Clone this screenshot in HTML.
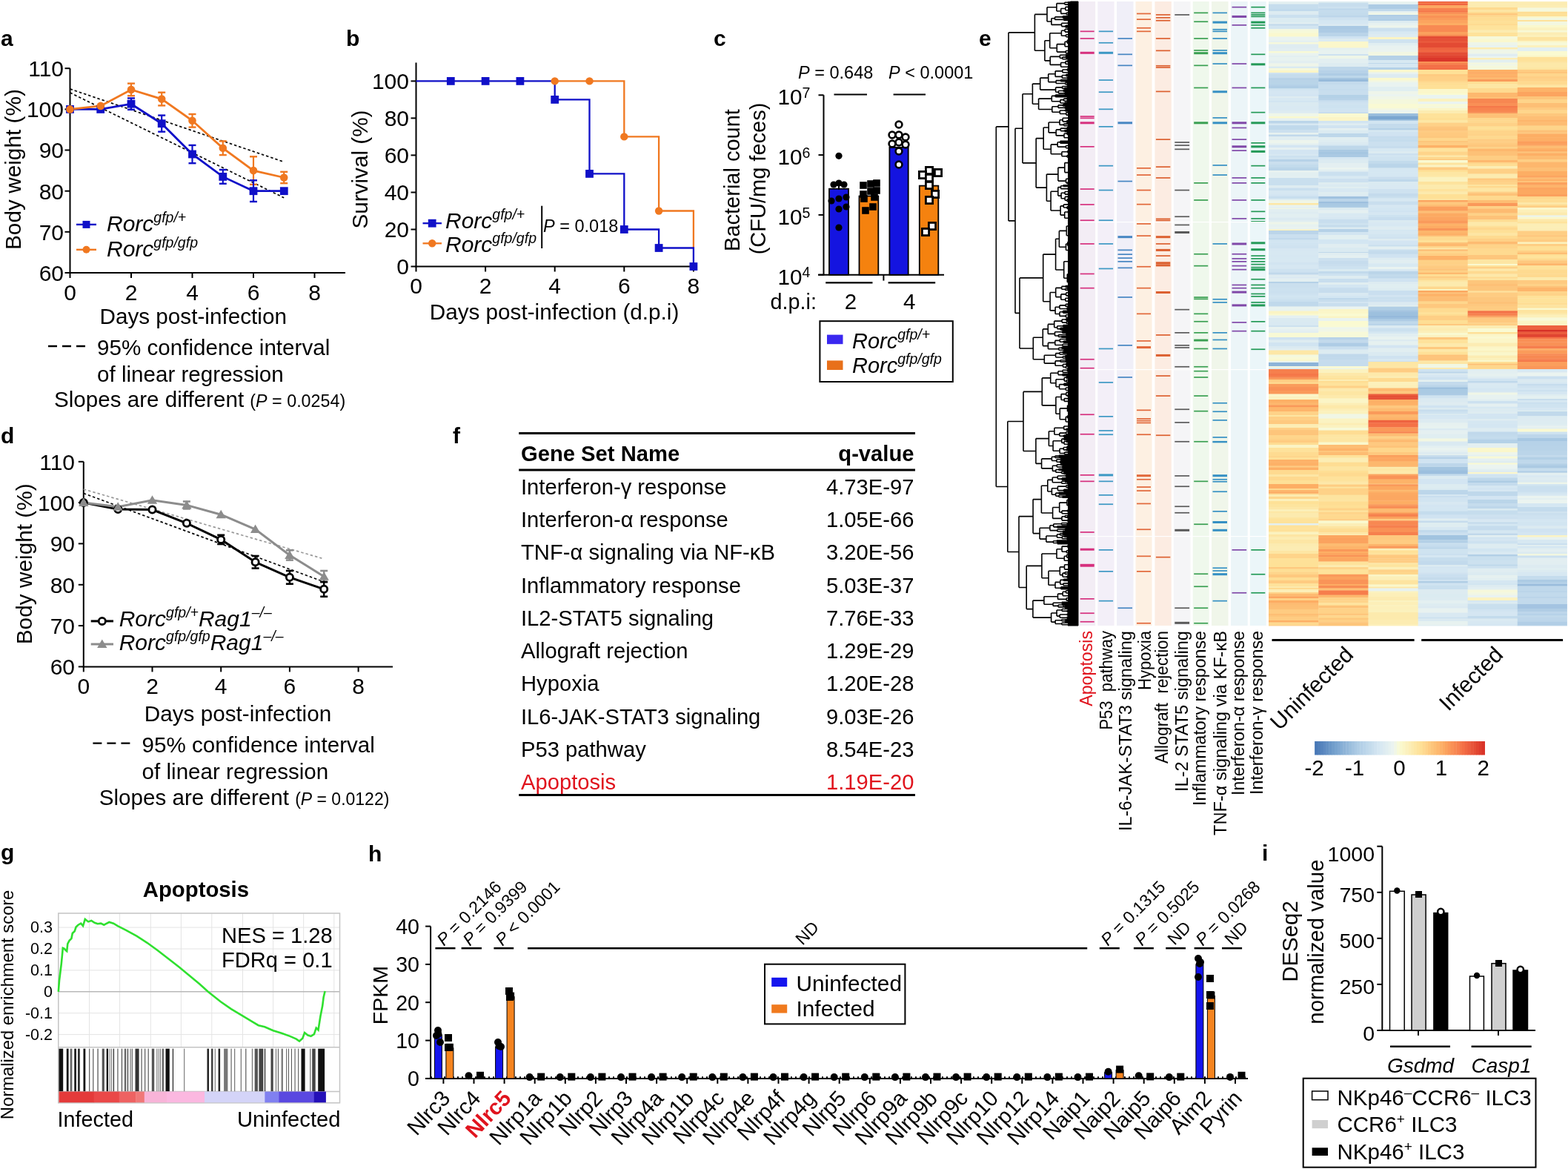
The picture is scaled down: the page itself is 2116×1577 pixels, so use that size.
<!DOCTYPE html><html><head><meta charset="utf-8"><title>Figure</title><style>html,body{margin:0;padding:0;background:#fff;overflow:hidden}svg{display:block}</style></head><body><svg width="2116" height="1577" viewBox="0 0 2116 1577" font-family='"Liberation Sans", Arial, sans-serif'>
<rect width="2116" height="1577" fill="#fff"/>
<text x="1.0" y="62.0" font-size="30" font-weight="bold">a</text>
<line x1="94.5" y1="92.2" x2="94.5" y2="368.8" stroke="#000" stroke-width="2"/>
<line x1="93.5" y1="368.0" x2="466.0" y2="368.0" stroke="#000" stroke-width="2"/>
<line x1="87.5" y1="368.0" x2="94.5" y2="368.0" stroke="#000" stroke-width="2"/>
<text x="86.0" y="378.8" font-size="30" text-anchor="end">60</text>
<line x1="87.5" y1="312.8" x2="94.5" y2="312.8" stroke="#000" stroke-width="2"/>
<text x="86.0" y="323.6" font-size="30" text-anchor="end">70</text>
<line x1="87.5" y1="257.7" x2="94.5" y2="257.7" stroke="#000" stroke-width="2"/>
<text x="86.0" y="268.5" font-size="30" text-anchor="end">80</text>
<line x1="87.5" y1="202.5" x2="94.5" y2="202.5" stroke="#000" stroke-width="2"/>
<text x="86.0" y="213.3" font-size="30" text-anchor="end">90</text>
<line x1="87.5" y1="147.4" x2="94.5" y2="147.4" stroke="#000" stroke-width="2"/>
<text x="86.0" y="158.2" font-size="30" text-anchor="end">100</text>
<line x1="87.5" y1="92.2" x2="94.5" y2="92.2" stroke="#000" stroke-width="2"/>
<text x="86.0" y="103.0" font-size="30" text-anchor="end">110</text>
<line x1="94.5" y1="368.0" x2="94.5" y2="375.0" stroke="#000" stroke-width="2"/>
<text x="94.5" y="405.0" font-size="30" text-anchor="middle">0</text>
<line x1="177.0" y1="368.0" x2="177.0" y2="375.0" stroke="#000" stroke-width="2"/>
<text x="177.0" y="405.0" font-size="30" text-anchor="middle">2</text>
<line x1="259.5" y1="368.0" x2="259.5" y2="375.0" stroke="#000" stroke-width="2"/>
<text x="259.5" y="405.0" font-size="30" text-anchor="middle">4</text>
<line x1="342.0" y1="368.0" x2="342.0" y2="375.0" stroke="#000" stroke-width="2"/>
<text x="342.0" y="405.0" font-size="30" text-anchor="middle">6</text>
<line x1="424.5" y1="368.0" x2="424.5" y2="375.0" stroke="#000" stroke-width="2"/>
<text x="424.5" y="405.0" font-size="30" text-anchor="middle">8</text>
<text x="260.7" y="436.7" font-size="29.7" text-anchor="middle">Days post-infection</text>
<text x="28.0" y="228.6" font-size="29.8" text-anchor="middle" transform="rotate(-90 28.0 228.6)">Body weight (%)</text>
<line x1="94.5" y1="120.0" x2="383.2" y2="218.4" stroke="#000" stroke-width="1.7" stroke-dasharray="3.5 3"/>
<line x1="94.5" y1="125.0" x2="383.2" y2="266.8" stroke="#000" stroke-width="1.7" stroke-dasharray="3.5 3"/>
<line x1="177.0" y1="112.6" x2="177.0" y2="129.2" stroke="#f07820" stroke-width="2.2"/>
<line x1="172.0" y1="112.6" x2="182.0" y2="112.6" stroke="#f07820" stroke-width="2.4"/>
<line x1="172.0" y1="129.2" x2="182.0" y2="129.2" stroke="#f07820" stroke-width="2.4"/>
<line x1="218.2" y1="124.7" x2="218.2" y2="142.4" stroke="#f07820" stroke-width="2.2"/>
<line x1="213.2" y1="124.7" x2="223.2" y2="124.7" stroke="#f07820" stroke-width="2.4"/>
<line x1="213.2" y1="142.4" x2="223.2" y2="142.4" stroke="#f07820" stroke-width="2.4"/>
<line x1="259.5" y1="154.0" x2="259.5" y2="171.6" stroke="#f07820" stroke-width="2.2"/>
<line x1="254.5" y1="154.0" x2="264.5" y2="154.0" stroke="#f07820" stroke-width="2.4"/>
<line x1="254.5" y1="171.6" x2="264.5" y2="171.6" stroke="#f07820" stroke-width="2.4"/>
<line x1="300.8" y1="190.4" x2="300.8" y2="209.1" stroke="#f07820" stroke-width="2.2"/>
<line x1="295.8" y1="190.4" x2="305.8" y2="190.4" stroke="#f07820" stroke-width="2.4"/>
<line x1="295.8" y1="209.1" x2="305.8" y2="209.1" stroke="#f07820" stroke-width="2.4"/>
<line x1="342.0" y1="211.3" x2="342.0" y2="248.9" stroke="#f07820" stroke-width="2.2"/>
<line x1="337.0" y1="211.3" x2="347.0" y2="211.3" stroke="#f07820" stroke-width="2.4"/>
<line x1="337.0" y1="248.9" x2="347.0" y2="248.9" stroke="#f07820" stroke-width="2.4"/>
<line x1="383.2" y1="231.8" x2="383.2" y2="247.2" stroke="#f07820" stroke-width="2.2"/>
<line x1="378.2" y1="231.8" x2="388.2" y2="231.8" stroke="#f07820" stroke-width="2.4"/>
<line x1="378.2" y1="247.2" x2="388.2" y2="247.2" stroke="#f07820" stroke-width="2.4"/>
<line x1="177.0" y1="132.5" x2="177.0" y2="147.9" stroke="#1010c8" stroke-width="2.2"/>
<line x1="172.0" y1="132.5" x2="182.0" y2="132.5" stroke="#1010c8" stroke-width="2.4"/>
<line x1="172.0" y1="147.9" x2="182.0" y2="147.9" stroke="#1010c8" stroke-width="2.4"/>
<line x1="218.2" y1="155.6" x2="218.2" y2="177.7" stroke="#1010c8" stroke-width="2.2"/>
<line x1="213.2" y1="155.6" x2="223.2" y2="155.6" stroke="#1010c8" stroke-width="2.4"/>
<line x1="213.2" y1="177.7" x2="223.2" y2="177.7" stroke="#1010c8" stroke-width="2.4"/>
<line x1="259.5" y1="195.9" x2="259.5" y2="220.2" stroke="#1010c8" stroke-width="2.2"/>
<line x1="254.5" y1="195.9" x2="264.5" y2="195.9" stroke="#1010c8" stroke-width="2.4"/>
<line x1="254.5" y1="220.2" x2="264.5" y2="220.2" stroke="#1010c8" stroke-width="2.4"/>
<line x1="300.8" y1="229.0" x2="300.8" y2="247.8" stroke="#1010c8" stroke-width="2.2"/>
<line x1="295.8" y1="229.0" x2="305.8" y2="229.0" stroke="#1010c8" stroke-width="2.4"/>
<line x1="295.8" y1="247.8" x2="305.8" y2="247.8" stroke="#1010c8" stroke-width="2.4"/>
<line x1="342.0" y1="243.3" x2="342.0" y2="272.0" stroke="#1010c8" stroke-width="2.2"/>
<line x1="337.0" y1="243.3" x2="347.0" y2="243.3" stroke="#1010c8" stroke-width="2.4"/>
<line x1="337.0" y1="272.0" x2="347.0" y2="272.0" stroke="#1010c8" stroke-width="2.4"/>
<path d="M94.5 147.4 L135.8 147.4 L177.0 140.2 L218.2 166.7 L259.5 208.0 L300.8 238.4 L342.0 257.7 L383.2 257.7" stroke="#1010c8" stroke-width="2.8" fill="none"/>
<path d="M94.5 147.4 L135.8 142.9 L177.0 120.9 L218.2 133.6 L259.5 162.8 L300.8 199.8 L342.0 230.1 L383.2 239.5" stroke="#f07820" stroke-width="2.8" fill="none"/>
<rect x="89.1" y="142.0" width="10.8" height="10.8" fill="#1010c8"/>
<rect x="130.3" y="142.0" width="10.8" height="10.8" fill="#1010c8"/>
<rect x="171.6" y="134.8" width="10.8" height="10.8" fill="#1010c8"/>
<rect x="212.8" y="161.3" width="10.8" height="10.8" fill="#1010c8"/>
<rect x="254.1" y="202.6" width="10.8" height="10.8" fill="#1010c8"/>
<rect x="295.4" y="233.0" width="10.8" height="10.8" fill="#1010c8"/>
<rect x="336.6" y="252.3" width="10.8" height="10.8" fill="#1010c8"/>
<rect x="377.9" y="252.3" width="10.8" height="10.8" fill="#1010c8"/>
<circle cx="135.8" cy="142.9" r="5.3" fill="#f07820"/>
<circle cx="177.0" cy="120.9" r="5.3" fill="#f07820"/>
<circle cx="218.2" cy="133.6" r="5.3" fill="#f07820"/>
<circle cx="259.5" cy="162.8" r="5.3" fill="#f07820"/>
<circle cx="300.8" cy="199.8" r="5.3" fill="#f07820"/>
<circle cx="342.0" cy="230.1" r="5.3" fill="#f07820"/>
<circle cx="383.2" cy="239.5" r="5.3" fill="#f07820"/>
<circle cx="94.5" cy="147.4" r="5.3" fill="#f07820"/>
<line x1="103.0" y1="302.9" x2="130.0" y2="302.9" stroke="#1010c8" stroke-width="2.4"/>
<rect x="111.5" y="297.9" width="10.0" height="10.0" fill="#1010c8"/>
<text x="144.0" y="311.5" font-size="30" font-style="italic">Rorc<tspan font-size="19.5" dy="-12">gfp/+</tspan></text>
<line x1="103.0" y1="336.8" x2="130.0" y2="336.8" stroke="#f07820" stroke-width="2.4"/>
<circle cx="116.5" cy="336.8" r="5.0" fill="#f07820"/>
<text x="144.0" y="346.0" font-size="30" font-style="italic">Rorc<tspan font-size="19.5" dy="-12">gfp/gfp</tspan></text>
<line x1="65.0" y1="467.0" x2="115.0" y2="467.0" stroke="#000" stroke-width="2.3" stroke-dasharray="12 7"/>
<text x="131.0" y="478.7" font-size="29.6">95% confidence interval</text>
<text x="131.0" y="514.5" font-size="29.6">of linear regression</text>
<text x="73.0" y="549.0" font-size="29.6">Slopes are different <tspan font-size="23.3">(<tspan font-style="italic">P</tspan> = 0.0254)</tspan></text>
<text x="467.0" y="62.0" font-size="30" font-weight="bold">b</text>
<line x1="561.5" y1="84.6" x2="561.5" y2="360.3" stroke="#000" stroke-width="2"/>
<line x1="560.5" y1="359.5" x2="940.0" y2="359.5" stroke="#000" stroke-width="2"/>
<line x1="554.5" y1="359.5" x2="561.5" y2="359.5" stroke="#000" stroke-width="2"/>
<text x="552.0" y="370.3" font-size="30" text-anchor="end">0</text>
<line x1="554.5" y1="309.5" x2="561.5" y2="309.5" stroke="#000" stroke-width="2"/>
<text x="552.0" y="320.3" font-size="30" text-anchor="end">20</text>
<line x1="554.5" y1="259.5" x2="561.5" y2="259.5" stroke="#000" stroke-width="2"/>
<text x="552.0" y="270.3" font-size="30" text-anchor="end">40</text>
<line x1="554.5" y1="209.4" x2="561.5" y2="209.4" stroke="#000" stroke-width="2"/>
<text x="552.0" y="220.2" font-size="30" text-anchor="end">60</text>
<line x1="554.5" y1="159.4" x2="561.5" y2="159.4" stroke="#000" stroke-width="2"/>
<text x="552.0" y="170.2" font-size="30" text-anchor="end">80</text>
<line x1="554.5" y1="109.4" x2="561.5" y2="109.4" stroke="#000" stroke-width="2"/>
<text x="552.0" y="120.2" font-size="30" text-anchor="end">100</text>
<line x1="561.5" y1="359.5" x2="561.5" y2="366.5" stroke="#000" stroke-width="2"/>
<text x="561.5" y="396.0" font-size="30" text-anchor="middle">0</text>
<line x1="655.1" y1="359.5" x2="655.1" y2="366.5" stroke="#000" stroke-width="2"/>
<text x="655.1" y="396.0" font-size="30" text-anchor="middle">2</text>
<line x1="748.7" y1="359.5" x2="748.7" y2="366.5" stroke="#000" stroke-width="2"/>
<text x="748.7" y="396.0" font-size="30" text-anchor="middle">4</text>
<line x1="842.3" y1="359.5" x2="842.3" y2="366.5" stroke="#000" stroke-width="2"/>
<text x="842.3" y="396.0" font-size="30" text-anchor="middle">6</text>
<line x1="935.9" y1="359.5" x2="935.9" y2="366.5" stroke="#000" stroke-width="2"/>
<text x="935.9" y="396.0" font-size="30" text-anchor="middle">8</text>
<text x="748.0" y="431.0" font-size="29.7" text-anchor="middle">Days post-infection (d.p.i)</text>
<text x="496.0" y="228.5" font-size="29.7" text-anchor="middle" transform="rotate(-90 496.0 228.5)">Survival (%)</text>
<path d="M748.7 109.4 L842.3 109.4 L842.3 184.4 L889.1 184.4 L889.1 284.5 L935.9 284.5 L935.9 334.5" stroke="#f07820" stroke-width="2.3" fill="none"/>
<path d="M561.5 109.4 L748.7 109.4 L748.7 134.4 L795.5 134.4 L795.5 234.4 L842.3 234.4 L842.3 309.5 L889.1 309.5 L889.1 334.5 L935.9 334.5 L935.9 359.5" stroke="#1010c8" stroke-width="2.3" fill="none"/>
<circle cx="748.7" cy="109.4" r="5.2" fill="#f07820"/>
<circle cx="795.5" cy="109.4" r="5.2" fill="#f07820"/>
<circle cx="842.3" cy="184.4" r="5.2" fill="#f07820"/>
<circle cx="889.1" cy="284.5" r="5.2" fill="#f07820"/>
<rect x="602.9" y="104.0" width="10.8" height="10.8" fill="#1010c8"/>
<rect x="649.7" y="104.0" width="10.8" height="10.8" fill="#1010c8"/>
<rect x="696.5" y="104.0" width="10.8" height="10.8" fill="#1010c8"/>
<rect x="743.3" y="129.0" width="10.8" height="10.8" fill="#1010c8"/>
<rect x="790.1" y="229.0" width="10.8" height="10.8" fill="#1010c8"/>
<rect x="836.9" y="304.1" width="10.8" height="10.8" fill="#1010c8"/>
<rect x="883.7" y="329.1" width="10.8" height="10.8" fill="#1010c8"/>
<rect x="930.5" y="354.1" width="10.8" height="10.8" fill="#1010c8"/>
<line x1="570.5" y1="301.2" x2="596.0" y2="301.2" stroke="#1010c8" stroke-width="2.3"/>
<rect x="577.8" y="295.8" width="10.8" height="10.8" fill="#1010c8"/>
<text x="601.0" y="308.0" font-size="30" font-style="italic">Rorc<tspan font-size="19.5" dy="-12">gfp/+</tspan></text>
<line x1="570.5" y1="328.3" x2="596.0" y2="328.3" stroke="#f07820" stroke-width="2.3"/>
<circle cx="583.2" cy="328.3" r="5.2" fill="#f07820"/>
<text x="601.0" y="340.0" font-size="30" font-style="italic">Rorc<tspan font-size="19.5" dy="-12">gfp/gfp</tspan></text>
<line x1="731.2" y1="277.7" x2="731.2" y2="335.0" stroke="#000" stroke-width="2"/>
<text x="733.0" y="312.5" font-size="23.5"><tspan font-style="italic">P</tspan> = 0.018</text>
<text x="963.0" y="62.0" font-size="30" font-weight="bold">c</text>
<line x1="1111.5" y1="128.3" x2="1111.5" y2="371.5" stroke="#000" stroke-width="2"/>
<line x1="1104.0" y1="370.7" x2="1274.0" y2="370.7" stroke="#000" stroke-width="2"/>
<line x1="1104.5" y1="128.3" x2="1111.5" y2="128.3" stroke="#000" stroke-width="2"/>
<text x="1049.5" y="141.2" font-size="29.7">10</text>
<text x="1082.5" y="132.0" font-size="19.6">7</text>
<line x1="1104.5" y1="209.1" x2="1111.5" y2="209.1" stroke="#000" stroke-width="2"/>
<text x="1049.5" y="222.0" font-size="29.7">10</text>
<text x="1082.5" y="212.8" font-size="19.6">6</text>
<line x1="1104.5" y1="289.9" x2="1111.5" y2="289.9" stroke="#000" stroke-width="2"/>
<text x="1049.5" y="302.8" font-size="29.7">10</text>
<text x="1082.5" y="293.6" font-size="19.6">5</text>
<line x1="1104.5" y1="370.7" x2="1111.5" y2="370.7" stroke="#000" stroke-width="2"/>
<text x="1049.5" y="383.6" font-size="29.7">10</text>
<text x="1082.5" y="374.4" font-size="19.6">4</text>
<rect x="1119.0" y="254.7" width="26.0" height="116.0" fill="#1414e0" stroke="#000" stroke-width="1.8"/>
<rect x="1159.5" y="264.5" width="25.8" height="106.2" fill="#f5820f" stroke="#000" stroke-width="1.8"/>
<rect x="1200.4" y="198.9" width="25.3" height="171.8" fill="#1414e0" stroke="#000" stroke-width="1.8"/>
<rect x="1240.8" y="250.6" width="25.5" height="120.1" fill="#f5820f" stroke="#000" stroke-width="1.8"/>
<circle cx="1132.0" cy="210.3" r="4.6" fill="#000"/>
<circle cx="1125.0" cy="249.0" r="4.6" fill="#000"/>
<circle cx="1132.0" cy="247.0" r="4.6" fill="#000"/>
<circle cx="1139.0" cy="249.0" r="4.6" fill="#000"/>
<circle cx="1122.0" cy="271.0" r="4.6" fill="#000"/>
<circle cx="1132.0" cy="268.0" r="4.6" fill="#000"/>
<circle cx="1142.0" cy="266.0" r="4.6" fill="#000"/>
<circle cx="1142.0" cy="279.0" r="4.6" fill="#000"/>
<circle cx="1132.0" cy="282.0" r="4.6" fill="#000"/>
<circle cx="1132.0" cy="307.0" r="4.6" fill="#000"/>
<line x1="1132.0" y1="246.0" x2="1132.0" y2="256.0" stroke="#000" stroke-width="2"/>
<rect x="1160.2" y="245.2" width="9.6" height="9.6" fill="#000"/>
<rect x="1170.2" y="243.2" width="9.6" height="9.6" fill="#000"/>
<rect x="1178.2" y="242.2" width="9.6" height="9.6" fill="#000"/>
<rect x="1160.2" y="257.2" width="9.6" height="9.6" fill="#000"/>
<rect x="1170.2" y="253.2" width="9.6" height="9.6" fill="#000"/>
<rect x="1178.2" y="252.2" width="9.6" height="9.6" fill="#000"/>
<rect x="1161.2" y="263.2" width="9.6" height="9.6" fill="#000"/>
<rect x="1175.2" y="261.2" width="9.6" height="9.6" fill="#000"/>
<rect x="1163.2" y="279.2" width="9.6" height="9.6" fill="#000"/>
<rect x="1173.2" y="274.2" width="9.6" height="9.6" fill="#000"/>
<circle cx="1213.0" cy="168.0" r="4.4" fill="#fff" stroke="#000" stroke-width="2.6"/>
<circle cx="1204.0" cy="182.0" r="4.4" fill="#fff" stroke="#000" stroke-width="2.6"/>
<circle cx="1213.0" cy="182.0" r="4.4" fill="#fff" stroke="#000" stroke-width="2.6"/>
<circle cx="1222.0" cy="185.0" r="4.4" fill="#fff" stroke="#000" stroke-width="2.6"/>
<circle cx="1204.0" cy="194.0" r="4.4" fill="#fff" stroke="#000" stroke-width="2.6"/>
<circle cx="1213.0" cy="192.0" r="4.4" fill="#fff" stroke="#000" stroke-width="2.6"/>
<circle cx="1222.0" cy="195.0" r="4.4" fill="#fff" stroke="#000" stroke-width="2.6"/>
<circle cx="1213.0" cy="204.0" r="4.4" fill="#fff" stroke="#000" stroke-width="2.6"/>
<circle cx="1213.0" cy="222.0" r="4.4" fill="#fff" stroke="#000" stroke-width="2.6"/>
<rect x="1249.4" y="225.4" width="9.2" height="9.2" fill="#fff" stroke="#000" stroke-width="2.8"/>
<rect x="1240.4" y="231.4" width="9.2" height="9.2" fill="#fff" stroke="#000" stroke-width="2.8"/>
<rect x="1261.4" y="228.4" width="9.2" height="9.2" fill="#fff" stroke="#000" stroke-width="2.8"/>
<rect x="1249.4" y="235.4" width="9.2" height="9.2" fill="#fff" stroke="#000" stroke-width="2.8"/>
<rect x="1249.4" y="245.4" width="9.2" height="9.2" fill="#fff" stroke="#000" stroke-width="2.8"/>
<rect x="1257.4" y="257.4" width="9.2" height="9.2" fill="#fff" stroke="#000" stroke-width="2.8"/>
<rect x="1249.4" y="265.4" width="9.2" height="9.2" fill="#fff" stroke="#000" stroke-width="2.8"/>
<rect x="1253.4" y="300.4" width="9.2" height="9.2" fill="#fff" stroke="#000" stroke-width="2.8"/>
<rect x="1244.4" y="308.4" width="9.2" height="9.2" fill="#fff" stroke="#000" stroke-width="2.8"/>
<line x1="1125.5" y1="127.6" x2="1170.0" y2="127.6" stroke="#000" stroke-width="2"/>
<line x1="1205.6" y1="127.6" x2="1249.0" y2="127.6" stroke="#000" stroke-width="2"/>
<text x="1077.0" y="106.0" font-size="23.5"><tspan font-style="italic">P</tspan> = 0.648</text>
<text x="1199.0" y="106.0" font-size="23.5"><tspan font-style="italic">P</tspan> &lt; 0.0001</text>
<line x1="1114.2" y1="381.3" x2="1177.5" y2="381.3" stroke="#000" stroke-width="2.2"/>
<line x1="1198.6" y1="381.3" x2="1262.2" y2="381.3" stroke="#000" stroke-width="2.2"/>
<line x1="1192.4" y1="371.0" x2="1192.4" y2="378.6" stroke="#000" stroke-width="2"/>
<text x="1039.5" y="416.7" font-size="29.5" textLength="62.5" lengthAdjust="spacingAndGlyphs">d.p.i:</text>
<text x="1148.0" y="416.7" font-size="29.5" text-anchor="middle">2</text>
<text x="1227.2" y="416.7" font-size="29.5" text-anchor="middle">4</text>
<text x="998.0" y="243.0" font-size="29" text-anchor="middle" transform="rotate(-90 998.0 243.0)">Bacterial count</text>
<text x="1033.0" y="241.0" font-size="29" text-anchor="middle" transform="rotate(-90 1033.0 241.0)">(CFU/mg feces)</text>
<rect x="1106.4" y="433.2" width="179.4" height="81.8" fill="#fff" stroke="#000" stroke-width="2"/>
<rect x="1116.0" y="451.6" width="21.5" height="12.6" fill="#3a28f0"/>
<text x="1150.0" y="469.5" font-size="29" font-style="italic">Rorc<tspan font-size="19.5" dy="-12">gfp/+</tspan></text>
<rect x="1116.0" y="486.4" width="21.5" height="12.6" fill="#e8701a"/>
<text x="1150.0" y="503.0" font-size="29" font-style="italic">Rorc<tspan font-size="19.5" dy="-12">gfp/gfp</tspan></text>
<text x="1321.0" y="62.0" font-size="30" font-weight="bold">e</text>
<rect x="1712.0" y="2.0" width="67.7" height="3.9" fill="#e4f0f1"/>
<rect x="1712.0" y="5.5" width="67.7" height="6.4" fill="#c6dded"/>
<rect x="1712.0" y="11.5" width="67.7" height="3.9" fill="#c1daec"/>
<rect x="1712.0" y="15.0" width="67.7" height="2.9" fill="#ddecf1"/>
<rect x="1712.0" y="17.5" width="67.7" height="2.9" fill="#dbeaf1"/>
<rect x="1712.0" y="20.0" width="67.7" height="4.4" fill="#cbe0ef"/>
<rect x="1712.0" y="24.0" width="67.7" height="6.4" fill="#dbebf1"/>
<rect x="1712.0" y="30.0" width="67.7" height="2.9" fill="#e1eef1"/>
<rect x="1712.0" y="32.5" width="67.7" height="2.4" fill="#c0d8eb"/>
<rect x="1712.0" y="34.5" width="67.7" height="4.9" fill="#d2e5f1"/>
<rect x="1712.0" y="39.0" width="67.7" height="2.4" fill="#f3f7e1"/>
<rect x="1712.0" y="41.0" width="67.7" height="3.9" fill="#f6f9d9"/>
<rect x="1712.0" y="44.5" width="67.7" height="5.4" fill="#faf8ce"/>
<rect x="1712.0" y="49.5" width="67.7" height="3.9" fill="#eaf3f0"/>
<rect x="1712.0" y="53.0" width="67.7" height="2.4" fill="#e9f3f0"/>
<rect x="1712.0" y="55.0" width="67.7" height="2.4" fill="#e5f0f1"/>
<rect x="1712.0" y="57.0" width="67.7" height="2.9" fill="#f5f8dc"/>
<rect x="1712.0" y="59.5" width="67.7" height="6.4" fill="#dfecf1"/>
<rect x="1712.0" y="65.5" width="67.7" height="3.9" fill="#e2eef1"/>
<rect x="1712.0" y="69.0" width="67.7" height="2.9" fill="#f8f9d6"/>
<rect x="1712.0" y="71.5" width="67.7" height="3.9" fill="#e9f3f0"/>
<rect x="1712.0" y="75.0" width="67.7" height="2.4" fill="#e3eff1"/>
<rect x="1712.0" y="77.0" width="67.7" height="5.4" fill="#e7f2f0"/>
<rect x="1712.0" y="82.0" width="67.7" height="3.9" fill="#e2eef1"/>
<rect x="1712.0" y="85.5" width="67.7" height="4.4" fill="#eff5e9"/>
<rect x="1712.0" y="89.5" width="67.7" height="2.9" fill="#daeaf1"/>
<rect x="1712.0" y="92.0" width="67.7" height="3.4" fill="#f6f8db"/>
<rect x="1712.0" y="95.0" width="67.7" height="3.4" fill="#fbf5c6"/>
<rect x="1712.0" y="98.0" width="67.7" height="2.4" fill="#cfe2f0"/>
<rect x="1712.0" y="100.0" width="67.7" height="3.9" fill="#c5dced"/>
<rect x="1712.0" y="103.5" width="67.7" height="2.4" fill="#c3daec"/>
<rect x="1712.0" y="105.5" width="67.7" height="2.4" fill="#b2cfe6"/>
<rect x="1712.0" y="107.5" width="67.7" height="6.4" fill="#b9d4e8"/>
<rect x="1712.0" y="113.5" width="67.7" height="2.4" fill="#b4d1e7"/>
<rect x="1712.0" y="115.5" width="67.7" height="3.9" fill="#afcde5"/>
<rect x="1712.0" y="119.0" width="67.7" height="1.4" fill="#c9dfee"/>
<rect x="1712.0" y="120.0" width="67.7" height="2.4" fill="#d1e4f1"/>
<rect x="1712.0" y="122.0" width="67.7" height="5.4" fill="#d5e6f2"/>
<rect x="1712.0" y="127.0" width="67.7" height="3.4" fill="#d3e5f2"/>
<rect x="1712.0" y="130.0" width="67.7" height="2.4" fill="#dfecf1"/>
<rect x="1712.0" y="132.0" width="67.7" height="3.9" fill="#d8e8f2"/>
<rect x="1712.0" y="135.5" width="67.7" height="2.9" fill="#d2e5f1"/>
<rect x="1712.0" y="138.0" width="67.7" height="5.4" fill="#daeaf1"/>
<rect x="1712.0" y="143.0" width="67.7" height="6.4" fill="#d9e9f2"/>
<rect x="1712.0" y="149.0" width="67.7" height="3.9" fill="#ddebf1"/>
<rect x="1712.0" y="152.5" width="67.7" height="0.9" fill="#e3eff1"/>
<rect x="1712.0" y="153.0" width="67.7" height="4.4" fill="#eff6e8"/>
<rect x="1712.0" y="157.0" width="67.7" height="2.9" fill="#faf9cf"/>
<rect x="1712.0" y="159.5" width="67.7" height="3.9" fill="#e5f0f1"/>
<rect x="1712.0" y="163.0" width="67.7" height="3.9" fill="#bbd5e9"/>
<rect x="1712.0" y="166.5" width="67.7" height="2.9" fill="#d7e8f2"/>
<rect x="1712.0" y="169.0" width="67.7" height="6.4" fill="#c0d9eb"/>
<rect x="1712.0" y="175.0" width="67.7" height="4.4" fill="#cce0ef"/>
<rect x="1712.0" y="179.0" width="67.7" height="2.9" fill="#e7f2f0"/>
<rect x="1712.0" y="181.5" width="67.7" height="2.9" fill="#c1d9ec"/>
<rect x="1712.0" y="184.0" width="67.7" height="5.4" fill="#e0edf1"/>
<rect x="1712.0" y="189.0" width="67.7" height="4.4" fill="#edf5ed"/>
<rect x="1712.0" y="193.0" width="67.7" height="2.9" fill="#e6f1f0"/>
<rect x="1712.0" y="195.5" width="67.7" height="3.9" fill="#d3e5f2"/>
<rect x="1712.0" y="199.0" width="67.7" height="3.4" fill="#e5f0f1"/>
<rect x="1712.0" y="202.0" width="67.7" height="6.4" fill="#d3e5f2"/>
<rect x="1712.0" y="208.0" width="67.7" height="2.4" fill="#d8e8f2"/>
<rect x="1712.0" y="210.0" width="67.7" height="2.9" fill="#cce1ef"/>
<rect x="1712.0" y="212.5" width="67.7" height="2.9" fill="#d0e3f0"/>
<rect x="1712.0" y="215.0" width="67.7" height="3.4" fill="#b7d2e8"/>
<rect x="1712.0" y="218.0" width="67.7" height="4.4" fill="#cadfee"/>
<rect x="1712.0" y="222.0" width="67.7" height="3.9" fill="#c3dbec"/>
<rect x="1712.0" y="225.5" width="67.7" height="3.9" fill="#bad5e9"/>
<rect x="1712.0" y="229.0" width="67.7" height="1.4" fill="#b9d4e8"/>
<rect x="1712.0" y="230.0" width="67.7" height="2.9" fill="#e8f2f0"/>
<rect x="1712.0" y="232.5" width="67.7" height="6.4" fill="#e2eff1"/>
<rect x="1712.0" y="238.5" width="67.7" height="1.9" fill="#e4f0f1"/>
<rect x="1712.0" y="240.0" width="67.7" height="5.4" fill="#c9dfee"/>
<rect x="1712.0" y="245.0" width="67.7" height="5.4" fill="#c9dfee"/>
<rect x="1712.0" y="250.0" width="67.7" height="3.9" fill="#deecf1"/>
<rect x="1712.0" y="253.5" width="67.7" height="3.9" fill="#c9dfee"/>
<rect x="1712.0" y="257.0" width="67.7" height="2.4" fill="#d6e7f2"/>
<rect x="1712.0" y="259.0" width="67.7" height="3.4" fill="#d6e7f2"/>
<rect x="1712.0" y="262.0" width="67.7" height="2.9" fill="#d3e5f2"/>
<rect x="1712.0" y="264.5" width="67.7" height="3.9" fill="#c8deee"/>
<rect x="1712.0" y="268.0" width="67.7" height="2.4" fill="#ddecf1"/>
<rect x="1712.0" y="270.0" width="67.7" height="4.4" fill="#f0f6e6"/>
<rect x="1712.0" y="274.0" width="67.7" height="2.9" fill="#fde7a5"/>
<rect x="1712.0" y="276.5" width="67.7" height="2.9" fill="#e9f3f0"/>
<rect x="1712.0" y="279.0" width="67.7" height="2.9" fill="#e7f1f0"/>
<rect x="1712.0" y="281.5" width="67.7" height="0.9" fill="#faf9cf"/>
<rect x="1712.0" y="282.0" width="67.7" height="4.4" fill="#e1eef1"/>
<rect x="1712.0" y="286.0" width="67.7" height="2.9" fill="#deecf1"/>
<rect x="1712.0" y="288.5" width="67.7" height="5.4" fill="#e2eff1"/>
<rect x="1712.0" y="293.5" width="67.7" height="3.9" fill="#dbeaf1"/>
<rect x="1712.0" y="297.0" width="67.7" height="2.9" fill="#e0edf1"/>
<rect x="1712.0" y="299.5" width="67.7" height="3.4" fill="#eef5e9"/>
<rect x="1712.0" y="302.5" width="67.7" height="4.4" fill="#e6f1f0"/>
<rect x="1712.0" y="306.5" width="67.7" height="3.4" fill="#e9f3f0"/>
<rect x="1712.0" y="309.5" width="67.7" height="1.9" fill="#fbf1bd"/>
<rect x="1712.0" y="311.0" width="67.7" height="5.4" fill="#bbd5e9"/>
<rect x="1712.0" y="316.0" width="67.7" height="5.4" fill="#cadfef"/>
<rect x="1712.0" y="321.0" width="67.7" height="2.9" fill="#c1d9eb"/>
<rect x="1712.0" y="323.5" width="67.7" height="4.4" fill="#d2e5f1"/>
<rect x="1712.0" y="327.5" width="67.7" height="3.4" fill="#d0e4f1"/>
<rect x="1712.0" y="330.5" width="67.7" height="4.9" fill="#cfe2f0"/>
<rect x="1712.0" y="335.0" width="67.7" height="4.4" fill="#d6e7f2"/>
<rect x="1712.0" y="339.0" width="67.7" height="5.4" fill="#d7e8f2"/>
<rect x="1712.0" y="344.0" width="67.7" height="3.4" fill="#d6e7f2"/>
<rect x="1712.0" y="347.0" width="67.7" height="3.4" fill="#d6e8f2"/>
<rect x="1712.0" y="350.0" width="67.7" height="3.9" fill="#d7e8f2"/>
<rect x="1712.0" y="353.5" width="67.7" height="4.4" fill="#d2e4f1"/>
<rect x="1712.0" y="357.5" width="67.7" height="5.4" fill="#d6e7f2"/>
<rect x="1712.0" y="362.5" width="67.7" height="5.4" fill="#cee2f0"/>
<rect x="1712.0" y="367.5" width="67.7" height="3.4" fill="#c0d8eb"/>
<rect x="1712.0" y="370.5" width="67.7" height="3.4" fill="#deecf1"/>
<rect x="1712.0" y="373.5" width="67.7" height="2.4" fill="#dae9f2"/>
<rect x="1712.0" y="375.5" width="67.7" height="4.9" fill="#e3eff1"/>
<rect x="1712.0" y="380.0" width="67.7" height="2.4" fill="#b5d1e7"/>
<rect x="1712.0" y="382.0" width="67.7" height="6.4" fill="#cadfee"/>
<rect x="1712.0" y="388.0" width="67.7" height="5.4" fill="#cce1ef"/>
<rect x="1712.0" y="393.0" width="67.7" height="3.9" fill="#cbe0ef"/>
<rect x="1712.0" y="396.5" width="67.7" height="2.4" fill="#cde1f0"/>
<rect x="1712.0" y="398.5" width="67.7" height="2.4" fill="#d1e4f1"/>
<rect x="1712.0" y="400.5" width="67.7" height="3.4" fill="#cfe3f0"/>
<rect x="1712.0" y="403.5" width="67.7" height="3.9" fill="#cae0ef"/>
<rect x="1712.0" y="407.0" width="67.7" height="5.4" fill="#c0d9eb"/>
<rect x="1712.0" y="412.0" width="67.7" height="1.9" fill="#c1d9eb"/>
<rect x="1712.0" y="413.5" width="67.7" height="6.4" fill="#e9f3f0"/>
<rect x="1712.0" y="419.5" width="67.7" height="4.4" fill="#fbf4c4"/>
<rect x="1712.0" y="423.5" width="67.7" height="2.4" fill="#faf9cf"/>
<rect x="1712.0" y="425.5" width="67.7" height="3.4" fill="#e5f0f1"/>
<rect x="1712.0" y="428.5" width="67.7" height="0.9" fill="#e8f2f0"/>
<rect x="1712.0" y="429.0" width="67.7" height="5.4" fill="#daeaf1"/>
<rect x="1712.0" y="434.0" width="67.7" height="5.4" fill="#d9e9f2"/>
<rect x="1712.0" y="439.0" width="67.7" height="2.4" fill="#cce1ef"/>
<rect x="1712.0" y="441.0" width="67.7" height="3.4" fill="#e9f3f0"/>
<rect x="1712.0" y="444.0" width="67.7" height="2.9" fill="#e5f0f1"/>
<rect x="1712.0" y="446.5" width="67.7" height="2.9" fill="#e2eef1"/>
<rect x="1712.0" y="449.0" width="67.7" height="6.4" fill="#f8f9d5"/>
<rect x="1712.0" y="455.0" width="67.7" height="3.9" fill="#cee2f0"/>
<rect x="1712.0" y="458.5" width="67.7" height="3.9" fill="#deecf1"/>
<rect x="1712.0" y="462.0" width="67.7" height="5.4" fill="#d1e4f1"/>
<rect x="1712.0" y="467.0" width="67.7" height="3.4" fill="#dbeaf1"/>
<rect x="1712.0" y="470.0" width="67.7" height="2.9" fill="#e1eef1"/>
<rect x="1712.0" y="472.5" width="67.7" height="6.4" fill="#fde7a6"/>
<rect x="1712.0" y="478.5" width="67.7" height="3.9" fill="#f4f8de"/>
<rect x="1712.0" y="482.0" width="67.7" height="2.9" fill="#f9f9d5"/>
<rect x="1712.0" y="484.5" width="67.7" height="2.9" fill="#faf8ce"/>
<rect x="1712.0" y="487.0" width="67.7" height="2.4" fill="#e9f3f0"/>
<rect x="1712.0" y="489.0" width="67.7" height="5.4" fill="#8db4d8"/>
<rect x="1712.0" y="494.0" width="67.7" height="2.4" fill="#f1f6e4"/>
<rect x="1712.0" y="496.0" width="67.7" height="2.4" fill="#ddecf1"/>
<rect x="1712.0" y="498.0" width="67.7" height="6.4" fill="#f67f4d"/>
<rect x="1712.0" y="504.0" width="67.7" height="3.4" fill="#f57749"/>
<rect x="1712.0" y="507.0" width="67.7" height="2.9" fill="#f6804e"/>
<rect x="1712.0" y="509.5" width="67.7" height="2.9" fill="#fa995a"/>
<rect x="1712.0" y="512.0" width="67.7" height="3.9" fill="#fecd83"/>
<rect x="1712.0" y="515.5" width="67.7" height="2.9" fill="#fed78d"/>
<rect x="1712.0" y="518.0" width="67.7" height="4.4" fill="#fa9c5b"/>
<rect x="1712.0" y="522.0" width="67.7" height="2.4" fill="#f99357"/>
<rect x="1712.0" y="524.0" width="67.7" height="3.4" fill="#f99156"/>
<rect x="1712.0" y="527.0" width="67.7" height="4.9" fill="#fa995a"/>
<rect x="1712.0" y="531.5" width="67.7" height="3.4" fill="#fbf6c8"/>
<rect x="1712.0" y="534.5" width="67.7" height="4.9" fill="#fbf2c1"/>
<rect x="1712.0" y="539.0" width="67.7" height="4.4" fill="#fdb066"/>
<rect x="1712.0" y="543.0" width="67.7" height="3.9" fill="#fdb76d"/>
<rect x="1712.0" y="546.5" width="67.7" height="2.9" fill="#fa9859"/>
<rect x="1712.0" y="549.0" width="67.7" height="2.9" fill="#fdb46a"/>
<rect x="1712.0" y="551.5" width="67.7" height="3.9" fill="#fdb56b"/>
<rect x="1712.0" y="555.0" width="67.7" height="5.4" fill="#fed288"/>
<rect x="1712.0" y="560.0" width="67.7" height="2.4" fill="#fde5a2"/>
<rect x="1712.0" y="562.0" width="67.7" height="5.4" fill="#fecf85"/>
<rect x="1712.0" y="567.0" width="67.7" height="5.4" fill="#fec97f"/>
<rect x="1712.0" y="572.0" width="67.7" height="5.4" fill="#fcedb4"/>
<rect x="1712.0" y="577.0" width="67.7" height="2.9" fill="#fed187"/>
<rect x="1712.0" y="579.5" width="67.7" height="2.9" fill="#fdc67c"/>
<rect x="1712.0" y="582.0" width="67.7" height="5.4" fill="#fdc57b"/>
<rect x="1712.0" y="587.0" width="67.7" height="5.4" fill="#fed58b"/>
<rect x="1712.0" y="592.0" width="67.7" height="2.4" fill="#fed187"/>
<rect x="1712.0" y="594.0" width="67.7" height="3.4" fill="#fecb81"/>
<rect x="1712.0" y="597.0" width="67.7" height="3.4" fill="#fedc92"/>
<rect x="1712.0" y="600.0" width="67.7" height="4.4" fill="#fbf3c3"/>
<rect x="1712.0" y="604.0" width="67.7" height="6.4" fill="#fee29b"/>
<rect x="1712.0" y="610.0" width="67.7" height="5.4" fill="#fedb91"/>
<rect x="1712.0" y="615.0" width="67.7" height="2.9" fill="#fed68c"/>
<rect x="1712.0" y="617.5" width="67.7" height="2.9" fill="#fee198"/>
<rect x="1712.0" y="620.0" width="67.7" height="3.9" fill="#fdb268"/>
<rect x="1712.0" y="623.5" width="67.7" height="5.4" fill="#fdb167"/>
<rect x="1712.0" y="628.5" width="67.7" height="2.4" fill="#fecb81"/>
<rect x="1712.0" y="630.5" width="67.7" height="3.9" fill="#fdaf65"/>
<rect x="1712.0" y="634.0" width="67.7" height="6.4" fill="#feda90"/>
<rect x="1712.0" y="640.0" width="67.7" height="3.4" fill="#fde6a5"/>
<rect x="1712.0" y="643.0" width="67.7" height="5.4" fill="#fed98f"/>
<rect x="1712.0" y="648.0" width="67.7" height="5.4" fill="#fee097"/>
<rect x="1712.0" y="653.0" width="67.7" height="6.4" fill="#fdae64"/>
<rect x="1712.0" y="659.0" width="67.7" height="2.4" fill="#fed98f"/>
<rect x="1712.0" y="661.0" width="67.7" height="2.9" fill="#fdb76d"/>
<rect x="1712.0" y="663.5" width="67.7" height="2.4" fill="#fca861"/>
<rect x="1712.0" y="665.5" width="67.7" height="1.9" fill="#fed288"/>
<rect x="1712.0" y="667.0" width="67.7" height="3.4" fill="#fcebaf"/>
<rect x="1712.0" y="670.0" width="67.7" height="3.4" fill="#fed68c"/>
<rect x="1712.0" y="673.0" width="67.7" height="3.4" fill="#fcf0bb"/>
<rect x="1712.0" y="676.0" width="67.7" height="4.4" fill="#fee197"/>
<rect x="1712.0" y="680.0" width="67.7" height="4.4" fill="#fde49e"/>
<rect x="1712.0" y="684.0" width="67.7" height="3.9" fill="#fde7a6"/>
<rect x="1712.0" y="687.5" width="67.7" height="2.4" fill="#fbf1bd"/>
<rect x="1712.0" y="689.5" width="67.7" height="2.9" fill="#fde7a6"/>
<rect x="1712.0" y="692.0" width="67.7" height="6.4" fill="#fceaae"/>
<rect x="1712.0" y="698.0" width="67.7" height="2.4" fill="#fde5a0"/>
<rect x="1712.0" y="700.0" width="67.7" height="6.4" fill="#fee29a"/>
<rect x="1712.0" y="706.0" width="67.7" height="2.9" fill="#e4eff1"/>
<rect x="1712.0" y="708.5" width="67.7" height="5.4" fill="#fee29a"/>
<rect x="1712.0" y="713.5" width="67.7" height="4.4" fill="#fee199"/>
<rect x="1712.0" y="717.5" width="67.7" height="3.9" fill="#fbf2bf"/>
<rect x="1712.0" y="721.0" width="67.7" height="1.4" fill="#fde5a1"/>
<rect x="1712.0" y="722.0" width="67.7" height="2.9" fill="#fde6a4"/>
<rect x="1712.0" y="724.5" width="67.7" height="3.9" fill="#fcecb1"/>
<rect x="1712.0" y="728.0" width="67.7" height="5.4" fill="#fde6a4"/>
<rect x="1712.0" y="733.0" width="67.7" height="4.4" fill="#fcebb0"/>
<rect x="1712.0" y="737.0" width="67.7" height="6.4" fill="#fcecb3"/>
<rect x="1712.0" y="743.0" width="67.7" height="4.4" fill="#fde6a3"/>
<rect x="1712.0" y="747.0" width="67.7" height="6.4" fill="#fed48a"/>
<rect x="1712.0" y="753.0" width="67.7" height="6.4" fill="#fee198"/>
<rect x="1712.0" y="759.0" width="67.7" height="6.4" fill="#fee197"/>
<rect x="1712.0" y="765.0" width="67.7" height="2.9" fill="#fec97f"/>
<rect x="1712.0" y="767.5" width="67.7" height="4.4" fill="#fedf95"/>
<rect x="1712.0" y="771.5" width="67.7" height="3.9" fill="#fed58b"/>
<rect x="1712.0" y="775.0" width="67.7" height="4.4" fill="#fec97f"/>
<rect x="1712.0" y="779.0" width="67.7" height="2.4" fill="#fede94"/>
<rect x="1712.0" y="781.0" width="67.7" height="2.4" fill="#fedd93"/>
<rect x="1712.0" y="783.0" width="67.7" height="4.4" fill="#fecb81"/>
<rect x="1712.0" y="787.0" width="67.7" height="4.4" fill="#fee29b"/>
<rect x="1712.0" y="791.0" width="67.7" height="2.4" fill="#fde9ac"/>
<rect x="1712.0" y="793.0" width="67.7" height="2.4" fill="#feda90"/>
<rect x="1712.0" y="795.0" width="67.7" height="4.4" fill="#fceeb7"/>
<rect x="1712.0" y="799.0" width="67.7" height="2.4" fill="#fed288"/>
<rect x="1712.0" y="801.0" width="67.7" height="3.9" fill="#fdba70"/>
<rect x="1712.0" y="804.5" width="67.7" height="2.9" fill="#fca560"/>
<rect x="1712.0" y="807.0" width="67.7" height="3.4" fill="#fed187"/>
<rect x="1712.0" y="810.0" width="67.7" height="3.9" fill="#fdad63"/>
<rect x="1712.0" y="813.5" width="67.7" height="2.9" fill="#fdbc72"/>
<rect x="1712.0" y="816.0" width="67.7" height="4.4" fill="#fdbe74"/>
<rect x="1712.0" y="820.0" width="67.7" height="2.4" fill="#fdc076"/>
<rect x="1712.0" y="822.0" width="67.7" height="6.4" fill="#fecb81"/>
<rect x="1712.0" y="828.0" width="67.7" height="2.4" fill="#fdbe74"/>
<rect x="1712.0" y="830.0" width="67.7" height="2.4" fill="#fdc57b"/>
<rect x="1712.0" y="832.0" width="67.7" height="5.4" fill="#fecc82"/>
<rect x="1712.0" y="837.0" width="67.7" height="2.9" fill="#fdaf65"/>
<rect x="1712.0" y="839.5" width="67.7" height="4.4" fill="#fed98f"/>
<rect x="1712.0" y="843.5" width="67.7" height="0.9" fill="#fdc77d"/>
<rect x="1779.3" y="2.0" width="67.6" height="2.4" fill="#dcebf1"/>
<rect x="1779.3" y="4.0" width="67.6" height="5.4" fill="#c7dded"/>
<rect x="1779.3" y="9.0" width="67.6" height="2.9" fill="#cde1ef"/>
<rect x="1779.3" y="11.5" width="67.6" height="2.4" fill="#bcd6ea"/>
<rect x="1779.3" y="13.5" width="67.6" height="3.9" fill="#c5dced"/>
<rect x="1779.3" y="17.0" width="67.6" height="4.4" fill="#c3dbec"/>
<rect x="1779.3" y="21.0" width="67.6" height="2.9" fill="#bdd6ea"/>
<rect x="1779.3" y="23.5" width="67.6" height="4.4" fill="#cee2f0"/>
<rect x="1779.3" y="27.5" width="67.6" height="5.4" fill="#d5e7f2"/>
<rect x="1779.3" y="32.5" width="67.6" height="2.9" fill="#dbeaf1"/>
<rect x="1779.3" y="35.0" width="67.6" height="4.4" fill="#aac9e3"/>
<rect x="1779.3" y="39.0" width="67.6" height="5.4" fill="#adcbe4"/>
<rect x="1779.3" y="44.0" width="67.6" height="5.4" fill="#bad4e9"/>
<rect x="1779.3" y="49.0" width="67.6" height="3.4" fill="#d0e3f1"/>
<rect x="1779.3" y="52.0" width="67.6" height="4.4" fill="#dcebf1"/>
<rect x="1779.3" y="56.0" width="67.6" height="2.9" fill="#faf7cb"/>
<rect x="1779.3" y="58.5" width="67.6" height="6.4" fill="#fbf7ca"/>
<rect x="1779.3" y="64.5" width="67.6" height="2.9" fill="#e4f0f1"/>
<rect x="1779.3" y="67.0" width="67.6" height="2.9" fill="#e7f2f0"/>
<rect x="1779.3" y="69.5" width="67.6" height="3.9" fill="#e8f2f0"/>
<rect x="1779.3" y="73.0" width="67.6" height="2.4" fill="#cee2f0"/>
<rect x="1779.3" y="75.0" width="67.6" height="4.4" fill="#eff6e8"/>
<rect x="1779.3" y="79.0" width="67.6" height="6.4" fill="#e3eff1"/>
<rect x="1779.3" y="85.0" width="67.6" height="5.4" fill="#deecf1"/>
<rect x="1779.3" y="90.0" width="67.6" height="5.4" fill="#bed7ea"/>
<rect x="1779.3" y="95.0" width="67.6" height="4.4" fill="#b7d2e8"/>
<rect x="1779.3" y="99.0" width="67.6" height="3.4" fill="#aecce5"/>
<rect x="1779.3" y="102.0" width="67.6" height="3.4" fill="#bdd7ea"/>
<rect x="1779.3" y="105.0" width="67.6" height="2.4" fill="#a6c6e1"/>
<rect x="1779.3" y="107.0" width="67.6" height="3.4" fill="#97bbdb"/>
<rect x="1779.3" y="110.0" width="67.6" height="4.4" fill="#c3daec"/>
<rect x="1779.3" y="114.0" width="67.6" height="6.4" fill="#c8deee"/>
<rect x="1779.3" y="120.0" width="67.6" height="2.4" fill="#c5dced"/>
<rect x="1779.3" y="122.0" width="67.6" height="6.4" fill="#c8deee"/>
<rect x="1779.3" y="128.0" width="67.6" height="4.4" fill="#b4d1e7"/>
<rect x="1779.3" y="132.0" width="67.6" height="3.9" fill="#b7d2e8"/>
<rect x="1779.3" y="135.5" width="67.6" height="2.9" fill="#cadfef"/>
<rect x="1779.3" y="138.0" width="67.6" height="2.9" fill="#cee2f0"/>
<rect x="1779.3" y="140.5" width="67.6" height="6.4" fill="#cde2f0"/>
<rect x="1779.3" y="146.5" width="67.6" height="5.4" fill="#d0e3f1"/>
<rect x="1779.3" y="151.5" width="67.6" height="1.9" fill="#c2daec"/>
<rect x="1779.3" y="153.0" width="67.6" height="5.4" fill="#faf9d1"/>
<rect x="1779.3" y="158.0" width="67.6" height="3.9" fill="#fbf4c5"/>
<rect x="1779.3" y="161.5" width="67.6" height="1.9" fill="#fbf6c8"/>
<rect x="1779.3" y="163.0" width="67.6" height="3.9" fill="#d2e5f1"/>
<rect x="1779.3" y="166.5" width="67.6" height="2.9" fill="#dfedf1"/>
<rect x="1779.3" y="169.0" width="67.6" height="4.4" fill="#d0e3f1"/>
<rect x="1779.3" y="173.0" width="67.6" height="2.4" fill="#e5f0f1"/>
<rect x="1779.3" y="175.0" width="67.6" height="2.4" fill="#deecf1"/>
<rect x="1779.3" y="177.0" width="67.6" height="3.4" fill="#daeaf1"/>
<rect x="1779.3" y="180.0" width="67.6" height="5.4" fill="#bdd7ea"/>
<rect x="1779.3" y="185.0" width="67.6" height="4.4" fill="#e1eef1"/>
<rect x="1779.3" y="189.0" width="67.6" height="2.9" fill="#dfedf1"/>
<rect x="1779.3" y="191.5" width="67.6" height="3.4" fill="#dbeaf1"/>
<rect x="1779.3" y="194.5" width="67.6" height="2.4" fill="#d6e7f2"/>
<rect x="1779.3" y="196.5" width="67.6" height="0.9" fill="#bed7ea"/>
<rect x="1779.3" y="197.0" width="67.6" height="5.4" fill="#bed7ea"/>
<rect x="1779.3" y="202.0" width="67.6" height="2.9" fill="#aac9e3"/>
<rect x="1779.3" y="204.5" width="67.6" height="4.4" fill="#a5c6e1"/>
<rect x="1779.3" y="208.5" width="67.6" height="3.9" fill="#aac9e3"/>
<rect x="1779.3" y="212.0" width="67.6" height="3.4" fill="#d6e7f2"/>
<rect x="1779.3" y="215.0" width="67.6" height="5.4" fill="#dcebf1"/>
<rect x="1779.3" y="220.0" width="67.6" height="6.4" fill="#e4eff1"/>
<rect x="1779.3" y="226.0" width="67.6" height="2.9" fill="#ebf4f0"/>
<rect x="1779.3" y="228.5" width="67.6" height="3.4" fill="#e2eff1"/>
<rect x="1779.3" y="231.5" width="67.6" height="6.4" fill="#cbe0ef"/>
<rect x="1779.3" y="237.5" width="67.6" height="3.9" fill="#d8e9f2"/>
<rect x="1779.3" y="241.0" width="67.6" height="5.4" fill="#cce0ef"/>
<rect x="1779.3" y="246.0" width="67.6" height="2.9" fill="#dfedf1"/>
<rect x="1779.3" y="248.5" width="67.6" height="3.9" fill="#dbeaf1"/>
<rect x="1779.3" y="252.0" width="67.6" height="2.4" fill="#e1eef1"/>
<rect x="1779.3" y="254.0" width="67.6" height="5.4" fill="#d8e8f2"/>
<rect x="1779.3" y="259.0" width="67.6" height="4.4" fill="#dfedf1"/>
<rect x="1779.3" y="263.0" width="67.6" height="2.4" fill="#dae9f2"/>
<rect x="1779.3" y="265.0" width="67.6" height="3.4" fill="#a0c2df"/>
<rect x="1779.3" y="268.0" width="67.6" height="4.4" fill="#bbd5e9"/>
<rect x="1779.3" y="272.0" width="67.6" height="2.9" fill="#9dbfde"/>
<rect x="1779.3" y="274.5" width="67.6" height="3.9" fill="#a9c9e3"/>
<rect x="1779.3" y="278.0" width="67.6" height="2.4" fill="#adcce4"/>
<rect x="1779.3" y="280.0" width="67.6" height="3.9" fill="#dcebf1"/>
<rect x="1779.3" y="283.5" width="67.6" height="4.4" fill="#e5f0f1"/>
<rect x="1779.3" y="287.5" width="67.6" height="5.4" fill="#d9e9f2"/>
<rect x="1779.3" y="292.5" width="67.6" height="2.9" fill="#d7e8f2"/>
<rect x="1779.3" y="295.0" width="67.6" height="0.9" fill="#e1eef1"/>
<rect x="1779.3" y="295.5" width="67.6" height="6.4" fill="#c8deee"/>
<rect x="1779.3" y="301.5" width="67.6" height="2.4" fill="#cfe3f0"/>
<rect x="1779.3" y="303.5" width="67.6" height="3.4" fill="#c4dbec"/>
<rect x="1779.3" y="306.5" width="67.6" height="2.9" fill="#dcebf1"/>
<rect x="1779.3" y="309.0" width="67.6" height="4.4" fill="#b5d1e7"/>
<rect x="1779.3" y="313.0" width="67.6" height="4.4" fill="#d2e5f1"/>
<rect x="1779.3" y="317.0" width="67.6" height="6.4" fill="#e2eff1"/>
<rect x="1779.3" y="323.0" width="67.6" height="6.4" fill="#d3e6f2"/>
<rect x="1779.3" y="329.0" width="67.6" height="5.4" fill="#e0edf1"/>
<rect x="1779.3" y="334.0" width="67.6" height="6.4" fill="#daeaf1"/>
<rect x="1779.3" y="340.0" width="67.6" height="1.4" fill="#bfd8ea"/>
<rect x="1779.3" y="341.0" width="67.6" height="3.9" fill="#e0edf1"/>
<rect x="1779.3" y="344.5" width="67.6" height="3.9" fill="#e4f0f1"/>
<rect x="1779.3" y="348.0" width="67.6" height="4.4" fill="#cce0ef"/>
<rect x="1779.3" y="352.0" width="67.6" height="4.4" fill="#c6dced"/>
<rect x="1779.3" y="356.0" width="67.6" height="3.9" fill="#c9deee"/>
<rect x="1779.3" y="359.5" width="67.6" height="3.9" fill="#cde2f0"/>
<rect x="1779.3" y="363.0" width="67.6" height="3.4" fill="#daeaf1"/>
<rect x="1779.3" y="366.0" width="67.6" height="3.4" fill="#c2daec"/>
<rect x="1779.3" y="369.0" width="67.6" height="3.4" fill="#cde2f0"/>
<rect x="1779.3" y="372.0" width="67.6" height="4.4" fill="#deecf1"/>
<rect x="1779.3" y="376.0" width="67.6" height="5.4" fill="#c8deee"/>
<rect x="1779.3" y="381.0" width="67.6" height="3.4" fill="#e1eef1"/>
<rect x="1779.3" y="384.0" width="67.6" height="4.4" fill="#d3e6f2"/>
<rect x="1779.3" y="388.0" width="67.6" height="2.4" fill="#c8deee"/>
<rect x="1779.3" y="390.0" width="67.6" height="5.4" fill="#c7dded"/>
<rect x="1779.3" y="395.0" width="67.6" height="3.9" fill="#d9e9f2"/>
<rect x="1779.3" y="398.5" width="67.6" height="3.9" fill="#d3e6f2"/>
<rect x="1779.3" y="402.0" width="67.6" height="2.4" fill="#bfd8eb"/>
<rect x="1779.3" y="404.0" width="67.6" height="3.4" fill="#c7dded"/>
<rect x="1779.3" y="407.0" width="67.6" height="2.4" fill="#d3e5f1"/>
<rect x="1779.3" y="409.0" width="67.6" height="4.9" fill="#c8deee"/>
<rect x="1779.3" y="413.5" width="67.6" height="3.9" fill="#ebf4f0"/>
<rect x="1779.3" y="417.0" width="67.6" height="2.4" fill="#fbf5c6"/>
<rect x="1779.3" y="419.0" width="67.6" height="4.4" fill="#fbf6c9"/>
<rect x="1779.3" y="423.0" width="67.6" height="3.9" fill="#fafad1"/>
<rect x="1779.3" y="426.5" width="67.6" height="2.9" fill="#fbf4c3"/>
<rect x="1779.3" y="429.0" width="67.6" height="4.4" fill="#e9f3f0"/>
<rect x="1779.3" y="433.0" width="67.6" height="5.4" fill="#fafad1"/>
<rect x="1779.3" y="438.0" width="67.6" height="3.9" fill="#f9fad4"/>
<rect x="1779.3" y="441.5" width="67.6" height="2.4" fill="#ecf5ed"/>
<rect x="1779.3" y="443.5" width="67.6" height="4.4" fill="#f0f6e7"/>
<rect x="1779.3" y="447.5" width="67.6" height="2.9" fill="#f7f9d9"/>
<rect x="1779.3" y="450.0" width="67.6" height="5.4" fill="#f6f9d9"/>
<rect x="1779.3" y="455.0" width="67.6" height="3.9" fill="#b7d2e8"/>
<rect x="1779.3" y="458.5" width="67.6" height="4.4" fill="#c3daec"/>
<rect x="1779.3" y="462.5" width="67.6" height="5.4" fill="#aecce5"/>
<rect x="1779.3" y="467.5" width="67.6" height="4.4" fill="#cadfef"/>
<rect x="1779.3" y="471.5" width="67.6" height="6.4" fill="#dcebf1"/>
<rect x="1779.3" y="477.5" width="67.6" height="5.4" fill="#c0d8eb"/>
<rect x="1779.3" y="482.5" width="67.6" height="2.9" fill="#c0d9eb"/>
<rect x="1779.3" y="485.0" width="67.6" height="3.4" fill="#c6dced"/>
<rect x="1779.3" y="488.0" width="67.6" height="6.4" fill="#c5dced"/>
<rect x="1779.3" y="494.0" width="67.6" height="3.4" fill="#f9f9d5"/>
<rect x="1779.3" y="497.0" width="67.6" height="1.4" fill="#e9f3f0"/>
<rect x="1779.3" y="498.0" width="67.6" height="5.4" fill="#fbf2c0"/>
<rect x="1779.3" y="503.0" width="67.6" height="4.4" fill="#fde8a9"/>
<rect x="1779.3" y="507.0" width="67.6" height="2.9" fill="#fde5a0"/>
<rect x="1779.3" y="509.5" width="67.6" height="2.9" fill="#fee29a"/>
<rect x="1779.3" y="512.0" width="67.6" height="2.4" fill="#fcedb4"/>
<rect x="1779.3" y="514.0" width="67.6" height="2.9" fill="#fedd93"/>
<rect x="1779.3" y="516.5" width="67.6" height="2.4" fill="#fee29a"/>
<rect x="1779.3" y="518.5" width="67.6" height="2.4" fill="#fee198"/>
<rect x="1779.3" y="520.5" width="67.6" height="3.4" fill="#fed086"/>
<rect x="1779.3" y="523.5" width="67.6" height="2.4" fill="#fde8a8"/>
<rect x="1779.3" y="525.5" width="67.6" height="2.4" fill="#fceaad"/>
<rect x="1779.3" y="527.5" width="67.6" height="6.4" fill="#fde6a3"/>
<rect x="1779.3" y="533.5" width="67.6" height="4.4" fill="#fdeaac"/>
<rect x="1779.3" y="537.5" width="67.6" height="2.9" fill="#fbf5c6"/>
<rect x="1779.3" y="540.0" width="67.6" height="3.9" fill="#fbf5c7"/>
<rect x="1779.3" y="543.5" width="67.6" height="3.4" fill="#fceeb6"/>
<rect x="1779.3" y="546.5" width="67.6" height="5.4" fill="#fde9aa"/>
<rect x="1779.3" y="551.5" width="67.6" height="2.9" fill="#fceeb6"/>
<rect x="1779.3" y="554.0" width="67.6" height="1.4" fill="#fbf2c0"/>
<rect x="1779.3" y="555.0" width="67.6" height="3.9" fill="#fbf1bd"/>
<rect x="1779.3" y="558.5" width="67.6" height="6.4" fill="#f0f6e5"/>
<rect x="1779.3" y="564.5" width="67.6" height="6.4" fill="#fbf3c2"/>
<rect x="1779.3" y="570.5" width="67.6" height="3.4" fill="#fcedb4"/>
<rect x="1779.3" y="573.5" width="67.6" height="3.9" fill="#fbf2c0"/>
<rect x="1779.3" y="577.0" width="67.6" height="3.9" fill="#f7f9d9"/>
<rect x="1779.3" y="580.5" width="67.6" height="6.4" fill="#fedd93"/>
<rect x="1779.3" y="586.5" width="67.6" height="4.4" fill="#fde6a3"/>
<rect x="1779.3" y="590.5" width="67.6" height="6.4" fill="#fde6a3"/>
<rect x="1779.3" y="596.5" width="67.6" height="3.9" fill="#faf7cb"/>
<rect x="1779.3" y="600.0" width="67.6" height="5.4" fill="#fdbd73"/>
<rect x="1779.3" y="605.0" width="67.6" height="3.4" fill="#fdb369"/>
<rect x="1779.3" y="608.0" width="67.6" height="2.4" fill="#fec77d"/>
<rect x="1779.3" y="610.0" width="67.6" height="4.4" fill="#fdbc72"/>
<rect x="1779.3" y="614.0" width="67.6" height="3.9" fill="#fee29a"/>
<rect x="1779.3" y="617.5" width="67.6" height="6.4" fill="#fcedb4"/>
<rect x="1779.3" y="623.5" width="67.6" height="6.4" fill="#fedd93"/>
<rect x="1779.3" y="629.5" width="67.6" height="5.4" fill="#fde5a1"/>
<rect x="1779.3" y="634.5" width="67.6" height="3.5" fill="#fedf95"/>
<rect x="1779.3" y="637.6" width="67.6" height="5.4" fill="#feda90"/>
<rect x="1779.3" y="642.6" width="67.6" height="6.4" fill="#fee29b"/>
<rect x="1779.3" y="648.6" width="67.6" height="2.9" fill="#fde6a4"/>
<rect x="1779.3" y="651.1" width="67.6" height="2.9" fill="#fde8a8"/>
<rect x="1779.3" y="653.6" width="67.6" height="3.4" fill="#fecd83"/>
<rect x="1779.3" y="656.6" width="67.6" height="2.4" fill="#fde49f"/>
<rect x="1779.3" y="658.6" width="67.6" height="4.4" fill="#fed187"/>
<rect x="1779.3" y="662.6" width="67.6" height="5.4" fill="#fed288"/>
<rect x="1779.3" y="667.6" width="67.6" height="6.4" fill="#fde4a0"/>
<rect x="1779.3" y="673.6" width="67.6" height="3.4" fill="#fde5a2"/>
<rect x="1779.3" y="676.6" width="67.6" height="5.4" fill="#fedd93"/>
<rect x="1779.3" y="681.6" width="67.6" height="4.4" fill="#fee096"/>
<rect x="1779.3" y="685.6" width="67.6" height="3.4" fill="#fed288"/>
<rect x="1779.3" y="688.6" width="67.6" height="2.4" fill="#fde5a2"/>
<rect x="1779.3" y="690.6" width="67.6" height="3.9" fill="#fed58b"/>
<rect x="1779.3" y="694.1" width="67.6" height="6.4" fill="#fed98f"/>
<rect x="1779.3" y="700.1" width="67.6" height="2.7" fill="#fece84"/>
<rect x="1779.3" y="702.4" width="67.6" height="3.9" fill="#faf9cf"/>
<rect x="1779.3" y="705.9" width="67.6" height="4.4" fill="#fceeb7"/>
<rect x="1779.3" y="709.9" width="67.6" height="2.9" fill="#fde5a0"/>
<rect x="1779.3" y="712.4" width="67.6" height="6.4" fill="#fedd93"/>
<rect x="1779.3" y="718.4" width="67.6" height="3.4" fill="#fde8a9"/>
<rect x="1779.3" y="721.4" width="67.6" height="1.0" fill="#fcf0ba"/>
<rect x="1779.3" y="722.0" width="67.6" height="4.4" fill="#fca660"/>
<rect x="1779.3" y="726.0" width="67.6" height="2.4" fill="#fba15e"/>
<rect x="1779.3" y="728.0" width="67.6" height="5.4" fill="#fba35f"/>
<rect x="1779.3" y="733.0" width="67.6" height="4.4" fill="#fdbb71"/>
<rect x="1779.3" y="737.0" width="67.6" height="4.4" fill="#fdb46a"/>
<rect x="1779.3" y="741.0" width="67.6" height="3.4" fill="#fa9859"/>
<rect x="1779.3" y="744.0" width="67.6" height="2.4" fill="#fdaf65"/>
<rect x="1779.3" y="746.0" width="67.6" height="3.4" fill="#fca560"/>
<rect x="1779.3" y="749.0" width="67.6" height="2.4" fill="#f99357"/>
<rect x="1779.3" y="751.0" width="67.6" height="2.4" fill="#fcaa62"/>
<rect x="1779.3" y="753.0" width="67.6" height="4.9" fill="#fca660"/>
<rect x="1779.3" y="757.5" width="67.6" height="5.4" fill="#fee29b"/>
<rect x="1779.3" y="762.5" width="67.6" height="2.9" fill="#fcecb1"/>
<rect x="1779.3" y="765.0" width="67.6" height="3.4" fill="#fed48a"/>
<rect x="1779.3" y="768.0" width="67.6" height="6.4" fill="#fee29a"/>
<rect x="1779.3" y="774.0" width="67.6" height="1.4" fill="#fed288"/>
<rect x="1779.3" y="775.0" width="67.6" height="3.4" fill="#fa995a"/>
<rect x="1779.3" y="778.0" width="67.6" height="4.4" fill="#fba25e"/>
<rect x="1779.3" y="782.0" width="67.6" height="6.4" fill="#f99458"/>
<rect x="1779.3" y="788.0" width="67.6" height="2.4" fill="#fdac63"/>
<rect x="1779.3" y="790.0" width="67.6" height="3.9" fill="#f88d54"/>
<rect x="1779.3" y="793.5" width="67.6" height="3.4" fill="#fdc177"/>
<rect x="1779.3" y="796.5" width="67.6" height="6.4" fill="#f67d4c"/>
<rect x="1779.3" y="802.5" width="67.6" height="0.6" fill="#f88f55"/>
<rect x="1779.3" y="802.7" width="67.6" height="3.9" fill="#fdb76d"/>
<rect x="1779.3" y="806.2" width="67.6" height="4.4" fill="#fed288"/>
<rect x="1779.3" y="810.2" width="67.6" height="3.4" fill="#fed389"/>
<rect x="1779.3" y="813.2" width="67.6" height="3.9" fill="#fee39d"/>
<rect x="1779.3" y="816.7" width="67.6" height="3.9" fill="#fdc278"/>
<rect x="1779.3" y="820.2" width="67.6" height="2.9" fill="#fed288"/>
<rect x="1779.3" y="822.7" width="67.6" height="5.4" fill="#fed288"/>
<rect x="1779.3" y="827.7" width="67.6" height="2.9" fill="#fdc67c"/>
<rect x="1779.3" y="830.2" width="67.6" height="3.9" fill="#fed78d"/>
<rect x="1779.3" y="833.7" width="67.6" height="2.4" fill="#fdc67c"/>
<rect x="1779.3" y="835.7" width="67.6" height="3.9" fill="#fecf85"/>
<rect x="1779.3" y="839.2" width="67.6" height="5.2" fill="#fdc57b"/>
<rect x="1846.5" y="2.0" width="67.6" height="2.9" fill="#e9f3f0"/>
<rect x="1846.5" y="4.5" width="67.6" height="1.9" fill="#e2eef1"/>
<rect x="1846.5" y="6.0" width="67.6" height="6.4" fill="#adcbe4"/>
<rect x="1846.5" y="12.0" width="67.6" height="3.4" fill="#c0d9eb"/>
<rect x="1846.5" y="15.0" width="67.6" height="2.4" fill="#e5f0f1"/>
<rect x="1846.5" y="17.0" width="67.6" height="3.4" fill="#eff6e8"/>
<rect x="1846.5" y="20.0" width="67.6" height="2.9" fill="#aecce5"/>
<rect x="1846.5" y="22.5" width="67.6" height="3.9" fill="#b3d0e7"/>
<rect x="1846.5" y="26.0" width="67.6" height="2.4" fill="#afcde5"/>
<rect x="1846.5" y="28.0" width="67.6" height="3.4" fill="#ddecf1"/>
<rect x="1846.5" y="31.0" width="67.6" height="3.9" fill="#e6f1f0"/>
<rect x="1846.5" y="34.5" width="67.6" height="3.4" fill="#edf5eb"/>
<rect x="1846.5" y="37.5" width="67.6" height="5.4" fill="#cbe0ef"/>
<rect x="1846.5" y="42.5" width="67.6" height="3.9" fill="#d8e9f2"/>
<rect x="1846.5" y="46.0" width="67.6" height="4.4" fill="#ddebf1"/>
<rect x="1846.5" y="50.0" width="67.6" height="3.4" fill="#fbf4c4"/>
<rect x="1846.5" y="53.0" width="67.6" height="5.4" fill="#cfe3f0"/>
<rect x="1846.5" y="58.0" width="67.6" height="3.9" fill="#e0eef1"/>
<rect x="1846.5" y="61.5" width="67.6" height="6.4" fill="#e8f2f0"/>
<rect x="1846.5" y="67.5" width="67.6" height="2.9" fill="#ebf4f0"/>
<rect x="1846.5" y="70.0" width="67.6" height="5.4" fill="#f2f7e2"/>
<rect x="1846.5" y="75.0" width="67.6" height="6.4" fill="#b5d1e7"/>
<rect x="1846.5" y="81.0" width="67.6" height="4.4" fill="#d7e8f2"/>
<rect x="1846.5" y="85.0" width="67.6" height="1.4" fill="#bfd8eb"/>
<rect x="1846.5" y="86.0" width="67.6" height="5.4" fill="#d6e7f2"/>
<rect x="1846.5" y="91.0" width="67.6" height="3.4" fill="#b4d1e7"/>
<rect x="1846.5" y="94.0" width="67.6" height="3.9" fill="#faf8ce"/>
<rect x="1846.5" y="97.5" width="67.6" height="2.9" fill="#e8f2f0"/>
<rect x="1846.5" y="100.0" width="67.6" height="5.4" fill="#ddebf1"/>
<rect x="1846.5" y="105.0" width="67.6" height="3.9" fill="#faf8cd"/>
<rect x="1846.5" y="108.5" width="67.6" height="2.9" fill="#f1f6e4"/>
<rect x="1846.5" y="111.0" width="67.6" height="6.4" fill="#e9f3f0"/>
<rect x="1846.5" y="117.0" width="67.6" height="6.4" fill="#e0eef1"/>
<rect x="1846.5" y="123.0" width="67.6" height="4.4" fill="#eef5ea"/>
<rect x="1846.5" y="127.0" width="67.6" height="3.4" fill="#ebf4f0"/>
<rect x="1846.5" y="130.0" width="67.6" height="4.4" fill="#f0f6e7"/>
<rect x="1846.5" y="134.0" width="67.6" height="6.4" fill="#f4f8dd"/>
<rect x="1846.5" y="140.0" width="67.6" height="6.4" fill="#f9fad4"/>
<rect x="1846.5" y="146.0" width="67.6" height="2.9" fill="#f3f7e1"/>
<rect x="1846.5" y="148.5" width="67.6" height="3.4" fill="#ebf4f0"/>
<rect x="1846.5" y="151.5" width="67.6" height="1.9" fill="#eff5e9"/>
<rect x="1846.5" y="153.0" width="67.6" height="3.9" fill="#9bbedd"/>
<rect x="1846.5" y="156.5" width="67.6" height="5.4" fill="#7ba6d0"/>
<rect x="1846.5" y="161.5" width="67.6" height="1.9" fill="#a9c9e3"/>
<rect x="1846.5" y="163.0" width="67.6" height="4.4" fill="#d2e5f1"/>
<rect x="1846.5" y="167.0" width="67.6" height="6.4" fill="#c4dbec"/>
<rect x="1846.5" y="173.0" width="67.6" height="2.9" fill="#b5d1e7"/>
<rect x="1846.5" y="175.5" width="67.6" height="2.4" fill="#d8e9f2"/>
<rect x="1846.5" y="177.5" width="67.6" height="6.4" fill="#d0e3f1"/>
<rect x="1846.5" y="183.5" width="67.6" height="4.4" fill="#c5dced"/>
<rect x="1846.5" y="187.5" width="67.6" height="3.9" fill="#c5dced"/>
<rect x="1846.5" y="191.0" width="67.6" height="6.4" fill="#cbe0ef"/>
<rect x="1846.5" y="197.0" width="67.6" height="3.4" fill="#c7dded"/>
<rect x="1846.5" y="200.0" width="67.6" height="4.4" fill="#d7e8f2"/>
<rect x="1846.5" y="204.0" width="67.6" height="3.4" fill="#dcebf1"/>
<rect x="1846.5" y="207.0" width="67.6" height="2.4" fill="#cce0ef"/>
<rect x="1846.5" y="209.0" width="67.6" height="3.4" fill="#d2e5f1"/>
<rect x="1846.5" y="212.0" width="67.6" height="5.4" fill="#cfe3f0"/>
<rect x="1846.5" y="217.0" width="67.6" height="3.9" fill="#c3dbec"/>
<rect x="1846.5" y="220.5" width="67.6" height="6.4" fill="#bad5e9"/>
<rect x="1846.5" y="226.5" width="67.6" height="6.4" fill="#d5e7f2"/>
<rect x="1846.5" y="232.5" width="67.6" height="6.4" fill="#d5e7f2"/>
<rect x="1846.5" y="238.5" width="67.6" height="3.9" fill="#c9deee"/>
<rect x="1846.5" y="242.0" width="67.6" height="3.4" fill="#bfd8eb"/>
<rect x="1846.5" y="245.0" width="67.6" height="4.4" fill="#daeaf1"/>
<rect x="1846.5" y="249.0" width="67.6" height="6.4" fill="#d9e9f2"/>
<rect x="1846.5" y="255.0" width="67.6" height="6.4" fill="#cee2f0"/>
<rect x="1846.5" y="261.0" width="67.6" height="4.4" fill="#c4dbec"/>
<rect x="1846.5" y="265.0" width="67.6" height="2.9" fill="#c9dfee"/>
<rect x="1846.5" y="267.5" width="67.6" height="4.4" fill="#d7e8f2"/>
<rect x="1846.5" y="271.5" width="67.6" height="5.4" fill="#c9deee"/>
<rect x="1846.5" y="276.5" width="67.6" height="3.9" fill="#d6e7f2"/>
<rect x="1846.5" y="280.0" width="67.6" height="4.4" fill="#d3e6f2"/>
<rect x="1846.5" y="284.0" width="67.6" height="2.9" fill="#d0e3f1"/>
<rect x="1846.5" y="286.5" width="67.6" height="3.9" fill="#d6e7f2"/>
<rect x="1846.5" y="290.0" width="67.6" height="3.4" fill="#cde2f0"/>
<rect x="1846.5" y="293.0" width="67.6" height="4.4" fill="#c7ddee"/>
<rect x="1846.5" y="297.0" width="67.6" height="3.9" fill="#daeaf1"/>
<rect x="1846.5" y="300.5" width="67.6" height="1.4" fill="#d4e6f2"/>
<rect x="1846.5" y="301.5" width="67.6" height="4.4" fill="#d7e8f2"/>
<rect x="1846.5" y="305.5" width="67.6" height="2.4" fill="#ddecf1"/>
<rect x="1846.5" y="307.5" width="67.6" height="2.9" fill="#deecf1"/>
<rect x="1846.5" y="310.0" width="67.6" height="2.9" fill="#d5e7f2"/>
<rect x="1846.5" y="312.5" width="67.6" height="3.9" fill="#d7e8f2"/>
<rect x="1846.5" y="316.0" width="67.6" height="4.4" fill="#d2e5f1"/>
<rect x="1846.5" y="320.0" width="67.6" height="2.4" fill="#cfe2f0"/>
<rect x="1846.5" y="322.0" width="67.6" height="2.9" fill="#deecf1"/>
<rect x="1846.5" y="324.5" width="67.6" height="6.4" fill="#d3e5f2"/>
<rect x="1846.5" y="330.5" width="67.6" height="2.4" fill="#c8deee"/>
<rect x="1846.5" y="332.5" width="67.6" height="4.4" fill="#e3eff1"/>
<rect x="1846.5" y="336.5" width="67.6" height="2.9" fill="#c8deee"/>
<rect x="1846.5" y="339.0" width="67.6" height="4.1" fill="#c4dbec"/>
<rect x="1846.5" y="342.7" width="67.6" height="5.4" fill="#d0e3f1"/>
<rect x="1846.5" y="347.7" width="67.6" height="3.9" fill="#ddecf1"/>
<rect x="1846.5" y="351.2" width="67.6" height="4.4" fill="#e1eef1"/>
<rect x="1846.5" y="355.2" width="67.6" height="5.4" fill="#d8e9f2"/>
<rect x="1846.5" y="360.2" width="67.6" height="3.4" fill="#e9f3f0"/>
<rect x="1846.5" y="363.2" width="67.6" height="3.2" fill="#d5e7f2"/>
<rect x="1846.5" y="366.0" width="67.6" height="4.4" fill="#bbd5e9"/>
<rect x="1846.5" y="370.0" width="67.6" height="2.9" fill="#c2daec"/>
<rect x="1846.5" y="372.5" width="67.6" height="3.4" fill="#bfd8eb"/>
<rect x="1846.5" y="375.5" width="67.6" height="4.4" fill="#d0e3f1"/>
<rect x="1846.5" y="379.5" width="67.6" height="0.9" fill="#c7dded"/>
<rect x="1846.5" y="380.0" width="67.6" height="3.4" fill="#ddebf1"/>
<rect x="1846.5" y="383.0" width="67.6" height="6.4" fill="#e0eef1"/>
<rect x="1846.5" y="389.0" width="67.6" height="3.4" fill="#ddecf1"/>
<rect x="1846.5" y="392.0" width="67.6" height="6.4" fill="#cadfef"/>
<rect x="1846.5" y="398.0" width="67.6" height="2.9" fill="#d2e4f1"/>
<rect x="1846.5" y="400.5" width="67.6" height="3.4" fill="#c9dfee"/>
<rect x="1846.5" y="403.5" width="67.6" height="4.4" fill="#cbe0ef"/>
<rect x="1846.5" y="407.5" width="67.6" height="5.4" fill="#dbeaf1"/>
<rect x="1846.5" y="412.5" width="67.6" height="1.4" fill="#eaf3f0"/>
<rect x="1846.5" y="413.5" width="67.6" height="5.4" fill="#b0cee5"/>
<rect x="1846.5" y="418.5" width="67.6" height="2.4" fill="#a3c4e0"/>
<rect x="1846.5" y="420.5" width="67.6" height="5.4" fill="#9dc0de"/>
<rect x="1846.5" y="425.5" width="67.6" height="2.9" fill="#95b9db"/>
<rect x="1846.5" y="428.0" width="67.6" height="2.9" fill="#9cbfde"/>
<rect x="1846.5" y="430.5" width="67.6" height="3.4" fill="#aecce5"/>
<rect x="1846.5" y="433.5" width="67.6" height="3.4" fill="#c0d9eb"/>
<rect x="1846.5" y="436.5" width="67.6" height="2.9" fill="#b9d4e9"/>
<rect x="1846.5" y="439.0" width="67.6" height="3.9" fill="#dcebf1"/>
<rect x="1846.5" y="442.5" width="67.6" height="5.4" fill="#cbe0ef"/>
<rect x="1846.5" y="447.5" width="67.6" height="2.9" fill="#d5e7f2"/>
<rect x="1846.5" y="450.0" width="67.6" height="4.4" fill="#e1eef1"/>
<rect x="1846.5" y="454.0" width="67.6" height="4.4" fill="#e8f2f0"/>
<rect x="1846.5" y="458.0" width="67.6" height="2.9" fill="#ddebf1"/>
<rect x="1846.5" y="460.5" width="67.6" height="5.4" fill="#e6f1f0"/>
<rect x="1846.5" y="465.5" width="67.6" height="4.4" fill="#d3e5f2"/>
<rect x="1846.5" y="469.5" width="67.6" height="2.9" fill="#e1eef1"/>
<rect x="1846.5" y="472.0" width="67.6" height="3.4" fill="#e1eef1"/>
<rect x="1846.5" y="475.0" width="67.6" height="5.4" fill="#daeaf1"/>
<rect x="1846.5" y="480.0" width="67.6" height="4.4" fill="#cfe2f0"/>
<rect x="1846.5" y="484.0" width="67.6" height="3.4" fill="#d7e8f2"/>
<rect x="1846.5" y="487.0" width="67.6" height="1.4" fill="#cde1f0"/>
<rect x="1846.5" y="488.0" width="67.6" height="6.4" fill="#fde6a4"/>
<rect x="1846.5" y="494.0" width="67.6" height="2.9" fill="#fde7a6"/>
<rect x="1846.5" y="496.5" width="67.6" height="6.4" fill="#fecc82"/>
<rect x="1846.5" y="502.5" width="67.6" height="5.4" fill="#fde9ab"/>
<rect x="1846.5" y="507.5" width="67.6" height="2.9" fill="#fcecb2"/>
<rect x="1846.5" y="510.0" width="67.6" height="5.4" fill="#feda90"/>
<rect x="1846.5" y="515.0" width="67.6" height="3.9" fill="#fcf0bb"/>
<rect x="1846.5" y="518.5" width="67.6" height="5.4" fill="#fcefb9"/>
<rect x="1846.5" y="523.5" width="67.6" height="2.4" fill="#fdba70"/>
<rect x="1846.5" y="525.5" width="67.6" height="2.4" fill="#fdb56b"/>
<rect x="1846.5" y="527.5" width="67.6" height="2.9" fill="#fec97f"/>
<rect x="1846.5" y="530.0" width="67.6" height="1.9" fill="#fdc379"/>
<rect x="1846.5" y="531.5" width="67.6" height="2.9" fill="#eb5c3c"/>
<rect x="1846.5" y="534.0" width="67.6" height="2.9" fill="#e44e35"/>
<rect x="1846.5" y="536.5" width="67.6" height="2.9" fill="#e65137"/>
<rect x="1846.5" y="539.0" width="67.6" height="6.4" fill="#fdb066"/>
<rect x="1846.5" y="545.0" width="67.6" height="2.4" fill="#fdb369"/>
<rect x="1846.5" y="547.0" width="67.6" height="3.9" fill="#fec87e"/>
<rect x="1846.5" y="550.5" width="67.6" height="3.9" fill="#fdbc72"/>
<rect x="1846.5" y="554.0" width="67.6" height="1.4" fill="#fdb86e"/>
<rect x="1846.5" y="555.0" width="67.6" height="4.4" fill="#fa9a5a"/>
<rect x="1846.5" y="559.0" width="67.6" height="3.9" fill="#fdb86e"/>
<rect x="1846.5" y="562.5" width="67.6" height="4.7" fill="#fdb46a"/>
<rect x="1846.5" y="566.8" width="67.6" height="3.9" fill="#ee623f"/>
<rect x="1846.5" y="570.3" width="67.6" height="6.4" fill="#f47147"/>
<rect x="1846.5" y="576.3" width="67.6" height="6.4" fill="#fa995a"/>
<rect x="1846.5" y="582.3" width="67.6" height="2.6" fill="#f7824f"/>
<rect x="1846.5" y="584.5" width="67.6" height="4.4" fill="#fdbd73"/>
<rect x="1846.5" y="588.5" width="67.6" height="3.4" fill="#fed288"/>
<rect x="1846.5" y="591.5" width="67.6" height="2.4" fill="#fdc47a"/>
<rect x="1846.5" y="593.5" width="67.6" height="3.4" fill="#fdb86e"/>
<rect x="1846.5" y="596.5" width="67.6" height="4.4" fill="#fec97f"/>
<rect x="1846.5" y="600.5" width="67.6" height="3.9" fill="#fdc47a"/>
<rect x="1846.5" y="604.0" width="67.6" height="6.4" fill="#fed68c"/>
<rect x="1846.5" y="610.0" width="67.6" height="4.4" fill="#fec97f"/>
<rect x="1846.5" y="614.0" width="67.6" height="2.4" fill="#fa9d5c"/>
<rect x="1846.5" y="616.0" width="67.6" height="2.9" fill="#fca660"/>
<rect x="1846.5" y="618.5" width="67.6" height="4.4" fill="#fca660"/>
<rect x="1846.5" y="622.5" width="67.6" height="6.4" fill="#fdb76d"/>
<rect x="1846.5" y="628.5" width="67.6" height="1.6" fill="#fdb066"/>
<rect x="1846.5" y="629.7" width="67.6" height="2.4" fill="#fcebaf"/>
<rect x="1846.5" y="631.7" width="67.6" height="3.4" fill="#fde6a4"/>
<rect x="1846.5" y="634.7" width="67.6" height="5.2" fill="#fdeaac"/>
<rect x="1846.5" y="639.5" width="67.6" height="2.4" fill="#fca660"/>
<rect x="1846.5" y="641.5" width="67.6" height="5.4" fill="#f99357"/>
<rect x="1846.5" y="646.5" width="67.6" height="6.4" fill="#fdb369"/>
<rect x="1846.5" y="652.5" width="67.6" height="1.2" fill="#fdc67c"/>
<rect x="1846.5" y="653.3" width="67.6" height="2.9" fill="#fa9859"/>
<rect x="1846.5" y="655.8" width="67.6" height="5.4" fill="#fca861"/>
<rect x="1846.5" y="660.8" width="67.6" height="2.4" fill="#fdbc72"/>
<rect x="1846.5" y="662.8" width="67.6" height="2.4" fill="#fdb167"/>
<rect x="1846.5" y="664.8" width="67.6" height="4.4" fill="#fca962"/>
<rect x="1846.5" y="668.8" width="67.6" height="4.4" fill="#fca761"/>
<rect x="1846.5" y="672.8" width="67.6" height="2.9" fill="#fca861"/>
<rect x="1846.5" y="675.3" width="67.6" height="5.4" fill="#fdad63"/>
<rect x="1846.5" y="680.3" width="67.6" height="2.4" fill="#fa9859"/>
<rect x="1846.5" y="682.3" width="67.6" height="3.9" fill="#f88d54"/>
<rect x="1846.5" y="685.8" width="67.6" height="3.9" fill="#fdba70"/>
<rect x="1846.5" y="689.3" width="67.6" height="2.9" fill="#fdb56b"/>
<rect x="1846.5" y="691.8" width="67.6" height="2.4" fill="#f99458"/>
<rect x="1846.5" y="693.8" width="67.6" height="3.4" fill="#f6814e"/>
<rect x="1846.5" y="696.8" width="67.6" height="3.4" fill="#fba05d"/>
<rect x="1846.5" y="699.8" width="67.6" height="3.0" fill="#fecc82"/>
<rect x="1846.5" y="702.4" width="67.6" height="6.4" fill="#f88852"/>
<rect x="1846.5" y="708.4" width="67.6" height="3.9" fill="#f6804e"/>
<rect x="1846.5" y="711.9" width="67.6" height="6.4" fill="#f99156"/>
<rect x="1846.5" y="717.9" width="67.6" height="4.5" fill="#f67f4d"/>
<rect x="1846.5" y="722.0" width="67.6" height="6.4" fill="#fec87e"/>
<rect x="1846.5" y="728.0" width="67.6" height="6.4" fill="#fecc82"/>
<rect x="1846.5" y="734.0" width="67.6" height="2.9" fill="#fdb56b"/>
<rect x="1846.5" y="736.5" width="67.6" height="3.7" fill="#fa9a5b"/>
<rect x="1846.5" y="739.8" width="67.6" height="2.9" fill="#fcefb9"/>
<rect x="1846.5" y="742.3" width="67.6" height="4.4" fill="#fee198"/>
<rect x="1846.5" y="746.3" width="67.6" height="2.4" fill="#fee199"/>
<rect x="1846.5" y="748.3" width="67.6" height="5.4" fill="#fec87e"/>
<rect x="1846.5" y="753.3" width="67.6" height="3.4" fill="#fecc82"/>
<rect x="1846.5" y="756.3" width="67.6" height="3.4" fill="#fecb81"/>
<rect x="1846.5" y="759.3" width="67.6" height="2.9" fill="#fde6a5"/>
<rect x="1846.5" y="761.8" width="67.6" height="3.4" fill="#fde49e"/>
<rect x="1846.5" y="764.8" width="67.6" height="3.9" fill="#fcefb8"/>
<rect x="1846.5" y="768.3" width="67.6" height="3.9" fill="#fed288"/>
<rect x="1846.5" y="771.8" width="67.6" height="3.4" fill="#fed68c"/>
<rect x="1846.5" y="774.8" width="67.6" height="0.6" fill="#fedd93"/>
<rect x="1846.5" y="775.0" width="67.6" height="2.9" fill="#fbf5c6"/>
<rect x="1846.5" y="777.5" width="67.6" height="5.4" fill="#fcefb8"/>
<rect x="1846.5" y="782.5" width="67.6" height="6.4" fill="#fde4a0"/>
<rect x="1846.5" y="788.5" width="67.6" height="3.4" fill="#faf8cc"/>
<rect x="1846.5" y="791.5" width="67.6" height="2.4" fill="#fde7a7"/>
<rect x="1846.5" y="793.5" width="67.6" height="4.4" fill="#e7f2f0"/>
<rect x="1846.5" y="797.5" width="67.6" height="2.9" fill="#fbf2bf"/>
<rect x="1846.5" y="800.0" width="67.6" height="5.4" fill="#fcefb9"/>
<rect x="1846.5" y="805.0" width="67.6" height="5.4" fill="#fcebb1"/>
<rect x="1846.5" y="810.0" width="67.6" height="2.4" fill="#fbf3c1"/>
<rect x="1846.5" y="812.0" width="67.6" height="4.4" fill="#fcefb8"/>
<rect x="1846.5" y="816.0" width="67.6" height="2.4" fill="#fbf2bf"/>
<rect x="1846.5" y="818.0" width="67.6" height="4.4" fill="#fcf0bb"/>
<rect x="1846.5" y="822.0" width="67.6" height="4.4" fill="#fbf1bd"/>
<rect x="1846.5" y="826.0" width="67.6" height="6.4" fill="#fceaad"/>
<rect x="1846.5" y="832.0" width="67.6" height="4.4" fill="#fceaad"/>
<rect x="1846.5" y="836.0" width="67.6" height="6.4" fill="#fcecb2"/>
<rect x="1846.5" y="842.0" width="67.6" height="2.4" fill="#fcefba"/>
<rect x="1913.7" y="2.0" width="67.4" height="1.4" fill="#e75438"/>
<rect x="1913.7" y="3.0" width="67.4" height="2.4" fill="#f5794b"/>
<rect x="1913.7" y="5.0" width="67.4" height="2.4" fill="#ef6440"/>
<rect x="1913.7" y="7.0" width="67.4" height="4.4" fill="#fca761"/>
<rect x="1913.7" y="11.0" width="67.4" height="3.9" fill="#f7814e"/>
<rect x="1913.7" y="14.5" width="67.4" height="2.4" fill="#f57548"/>
<rect x="1913.7" y="16.5" width="67.4" height="2.9" fill="#f99257"/>
<rect x="1913.7" y="19.0" width="67.4" height="2.4" fill="#fba25e"/>
<rect x="1913.7" y="21.0" width="67.4" height="3.4" fill="#f99256"/>
<rect x="1913.7" y="24.0" width="67.4" height="3.4" fill="#fa9b5b"/>
<rect x="1913.7" y="27.0" width="67.4" height="4.4" fill="#fca45f"/>
<rect x="1913.7" y="31.0" width="67.4" height="3.4" fill="#fdad63"/>
<rect x="1913.7" y="34.0" width="67.4" height="5.4" fill="#f88a53"/>
<rect x="1913.7" y="39.0" width="67.4" height="4.4" fill="#f88a52"/>
<rect x="1913.7" y="43.0" width="67.4" height="4.4" fill="#fba05d"/>
<rect x="1913.7" y="47.0" width="67.4" height="2.4" fill="#f78851"/>
<rect x="1913.7" y="49.0" width="67.4" height="3.9" fill="#e44c35"/>
<rect x="1913.7" y="52.5" width="67.4" height="2.9" fill="#e54f36"/>
<rect x="1913.7" y="55.0" width="67.4" height="3.4" fill="#e9583b"/>
<rect x="1913.7" y="58.0" width="67.4" height="6.4" fill="#e34a33"/>
<rect x="1913.7" y="64.0" width="67.4" height="3.4" fill="#ed613f"/>
<rect x="1913.7" y="67.0" width="67.4" height="3.9" fill="#f06742"/>
<rect x="1913.7" y="70.5" width="67.4" height="4.4" fill="#e44d35"/>
<rect x="1913.7" y="74.5" width="67.4" height="3.9" fill="#e04431"/>
<rect x="1913.7" y="78.0" width="67.4" height="5.4" fill="#da362a"/>
<rect x="1913.7" y="83.0" width="67.4" height="2.4" fill="#f99256"/>
<rect x="1913.7" y="85.0" width="67.4" height="2.9" fill="#f6814e"/>
<rect x="1913.7" y="87.5" width="67.4" height="3.4" fill="#f36e45"/>
<rect x="1913.7" y="90.5" width="67.4" height="3.9" fill="#f36d45"/>
<rect x="1913.7" y="94.0" width="67.4" height="6.4" fill="#fee096"/>
<rect x="1913.7" y="100.0" width="67.4" height="3.4" fill="#fecb81"/>
<rect x="1913.7" y="103.0" width="67.4" height="6.4" fill="#fecf85"/>
<rect x="1913.7" y="109.0" width="67.4" height="2.9" fill="#fed78d"/>
<rect x="1913.7" y="111.5" width="67.4" height="4.4" fill="#fede94"/>
<rect x="1913.7" y="115.5" width="67.4" height="4.9" fill="#fee096"/>
<rect x="1913.7" y="120.0" width="67.4" height="2.9" fill="#fbf7ca"/>
<rect x="1913.7" y="122.5" width="67.4" height="3.9" fill="#fbf7ca"/>
<rect x="1913.7" y="126.0" width="67.4" height="2.4" fill="#fafad1"/>
<rect x="1913.7" y="128.0" width="67.4" height="5.4" fill="#eaf4f0"/>
<rect x="1913.7" y="133.0" width="67.4" height="4.4" fill="#fbf2c0"/>
<rect x="1913.7" y="137.0" width="67.4" height="3.9" fill="#ebf4f0"/>
<rect x="1913.7" y="140.5" width="67.4" height="2.4" fill="#f9fad3"/>
<rect x="1913.7" y="142.5" width="67.4" height="3.9" fill="#f5f8db"/>
<rect x="1913.7" y="146.0" width="67.4" height="3.4" fill="#fbf5c6"/>
<rect x="1913.7" y="149.0" width="67.4" height="4.4" fill="#fcecb1"/>
<rect x="1913.7" y="153.0" width="67.4" height="6.4" fill="#fee29a"/>
<rect x="1913.7" y="159.0" width="67.4" height="3.4" fill="#fedf95"/>
<rect x="1913.7" y="162.0" width="67.4" height="3.9" fill="#fde7a5"/>
<rect x="1913.7" y="165.5" width="67.4" height="5.4" fill="#fed187"/>
<rect x="1913.7" y="170.5" width="67.4" height="2.4" fill="#fdc57b"/>
<rect x="1913.7" y="172.5" width="67.4" height="4.4" fill="#fdc47a"/>
<rect x="1913.7" y="176.5" width="67.4" height="2.9" fill="#fecc82"/>
<rect x="1913.7" y="179.0" width="67.4" height="5.4" fill="#fec97f"/>
<rect x="1913.7" y="184.0" width="67.4" height="2.4" fill="#fdc77d"/>
<rect x="1913.7" y="186.0" width="67.4" height="4.4" fill="#fed68c"/>
<rect x="1913.7" y="190.0" width="67.4" height="2.9" fill="#fdc67c"/>
<rect x="1913.7" y="192.5" width="67.4" height="3.9" fill="#fecc82"/>
<rect x="1913.7" y="196.0" width="67.4" height="3.9" fill="#fdb167"/>
<rect x="1913.7" y="199.5" width="67.4" height="5.4" fill="#fee39d"/>
<rect x="1913.7" y="204.5" width="67.4" height="5.4" fill="#fed48a"/>
<rect x="1913.7" y="209.5" width="67.4" height="2.9" fill="#fde7a7"/>
<rect x="1913.7" y="212.0" width="67.4" height="3.4" fill="#fed68c"/>
<rect x="1913.7" y="215.0" width="67.4" height="1.4" fill="#fdc379"/>
<rect x="1913.7" y="216.0" width="67.4" height="3.9" fill="#faf9d1"/>
<rect x="1913.7" y="219.5" width="67.4" height="3.4" fill="#fde39e"/>
<rect x="1913.7" y="222.5" width="67.4" height="3.4" fill="#fbf3c2"/>
<rect x="1913.7" y="225.5" width="67.4" height="4.4" fill="#fecb81"/>
<rect x="1913.7" y="229.5" width="67.4" height="2.9" fill="#fee096"/>
<rect x="1913.7" y="232.0" width="67.4" height="5.4" fill="#fde6a3"/>
<rect x="1913.7" y="237.0" width="67.4" height="2.4" fill="#fde9aa"/>
<rect x="1913.7" y="239.0" width="67.4" height="6.4" fill="#fbf2bf"/>
<rect x="1913.7" y="245.0" width="67.4" height="4.4" fill="#fde39e"/>
<rect x="1913.7" y="249.0" width="67.4" height="6.4" fill="#fceaad"/>
<rect x="1913.7" y="255.0" width="67.4" height="3.9" fill="#fee39d"/>
<rect x="1913.7" y="258.5" width="67.4" height="3.9" fill="#fceaad"/>
<rect x="1913.7" y="262.0" width="67.4" height="6.4" fill="#fee096"/>
<rect x="1913.7" y="268.0" width="67.4" height="2.4" fill="#fde5a2"/>
<rect x="1913.7" y="270.0" width="67.4" height="2.9" fill="#fca560"/>
<rect x="1913.7" y="272.5" width="67.4" height="3.9" fill="#fec87e"/>
<rect x="1913.7" y="276.0" width="67.4" height="2.9" fill="#fdbe74"/>
<rect x="1913.7" y="278.5" width="67.4" height="6.4" fill="#fb9f5d"/>
<rect x="1913.7" y="284.5" width="67.4" height="3.4" fill="#fdbf75"/>
<rect x="1913.7" y="287.5" width="67.4" height="5.4" fill="#fcaa62"/>
<rect x="1913.7" y="292.5" width="67.4" height="5.4" fill="#fca560"/>
<rect x="1913.7" y="297.5" width="67.4" height="4.4" fill="#fa9a5b"/>
<rect x="1913.7" y="301.5" width="67.4" height="3.9" fill="#fdb268"/>
<rect x="1913.7" y="305.0" width="67.4" height="3.4" fill="#fdab63"/>
<rect x="1913.7" y="308.0" width="67.4" height="3.4" fill="#f99558"/>
<rect x="1913.7" y="311.0" width="67.4" height="4.4" fill="#fdb56b"/>
<rect x="1913.7" y="315.0" width="67.4" height="2.9" fill="#fdaf65"/>
<rect x="1913.7" y="317.5" width="67.4" height="1.9" fill="#fdc076"/>
<rect x="1913.7" y="319.0" width="67.4" height="5.4" fill="#fed98f"/>
<rect x="1913.7" y="324.0" width="67.4" height="3.4" fill="#fee198"/>
<rect x="1913.7" y="327.0" width="67.4" height="2.4" fill="#fdc278"/>
<rect x="1913.7" y="329.0" width="67.4" height="3.4" fill="#fdb96f"/>
<rect x="1913.7" y="332.0" width="67.4" height="2.9" fill="#fed48a"/>
<rect x="1913.7" y="334.5" width="67.4" height="2.4" fill="#fde7a7"/>
<rect x="1913.7" y="336.5" width="67.4" height="2.4" fill="#fdb96f"/>
<rect x="1913.7" y="338.5" width="67.4" height="3.9" fill="#fed68c"/>
<rect x="1913.7" y="342.0" width="67.4" height="2.4" fill="#fecd83"/>
<rect x="1913.7" y="344.0" width="67.4" height="1.1" fill="#fee198"/>
<rect x="1913.7" y="344.7" width="67.4" height="6.4" fill="#fdb268"/>
<rect x="1913.7" y="350.7" width="67.4" height="3.4" fill="#fed187"/>
<rect x="1913.7" y="353.7" width="67.4" height="3.9" fill="#fed086"/>
<rect x="1913.7" y="357.2" width="67.4" height="2.9" fill="#fecd83"/>
<rect x="1913.7" y="359.7" width="67.4" height="2.9" fill="#feca80"/>
<rect x="1913.7" y="362.2" width="67.4" height="2.9" fill="#fdc379"/>
<rect x="1913.7" y="364.7" width="67.4" height="3.4" fill="#fed086"/>
<rect x="1913.7" y="367.7" width="67.4" height="2.7" fill="#fdb96f"/>
<rect x="1913.7" y="370.0" width="67.4" height="2.9" fill="#fedf95"/>
<rect x="1913.7" y="372.5" width="67.4" height="3.4" fill="#fece84"/>
<rect x="1913.7" y="375.5" width="67.4" height="2.9" fill="#feda90"/>
<rect x="1913.7" y="378.0" width="67.4" height="2.9" fill="#fde6a3"/>
<rect x="1913.7" y="380.5" width="67.4" height="6.4" fill="#fceaad"/>
<rect x="1913.7" y="386.5" width="67.4" height="3.9" fill="#fed88e"/>
<rect x="1913.7" y="390.0" width="67.4" height="2.4" fill="#fbf4c3"/>
<rect x="1913.7" y="392.0" width="67.4" height="2.9" fill="#fca861"/>
<rect x="1913.7" y="394.5" width="67.4" height="2.4" fill="#fdc177"/>
<rect x="1913.7" y="396.5" width="67.4" height="2.9" fill="#fdb066"/>
<rect x="1913.7" y="399.0" width="67.4" height="2.9" fill="#fdba70"/>
<rect x="1913.7" y="401.5" width="67.4" height="5.4" fill="#fdbc72"/>
<rect x="1913.7" y="406.5" width="67.4" height="3.9" fill="#fed68c"/>
<rect x="1913.7" y="410.0" width="67.4" height="5.4" fill="#fec87e"/>
<rect x="1913.7" y="415.0" width="67.4" height="0.9" fill="#fdc076"/>
<rect x="1913.7" y="415.5" width="67.4" height="6.4" fill="#fedb91"/>
<rect x="1913.7" y="421.5" width="67.4" height="2.9" fill="#fee29a"/>
<rect x="1913.7" y="424.0" width="67.4" height="2.4" fill="#fedb91"/>
<rect x="1913.7" y="426.0" width="67.4" height="6.4" fill="#fecf85"/>
<rect x="1913.7" y="432.0" width="67.4" height="5.4" fill="#fede94"/>
<rect x="1913.7" y="437.0" width="67.4" height="2.4" fill="#fec97f"/>
<rect x="1913.7" y="439.0" width="67.4" height="3.9" fill="#fceeb6"/>
<rect x="1913.7" y="442.5" width="67.4" height="3.9" fill="#fcebb0"/>
<rect x="1913.7" y="446.0" width="67.4" height="3.4" fill="#fcefb9"/>
<rect x="1913.7" y="449.0" width="67.4" height="3.4" fill="#faf9cf"/>
<rect x="1913.7" y="452.0" width="67.4" height="2.9" fill="#fbf2c0"/>
<rect x="1913.7" y="454.5" width="67.4" height="0.9" fill="#fceeb7"/>
<rect x="1913.7" y="455.0" width="67.4" height="3.4" fill="#fec87e"/>
<rect x="1913.7" y="458.0" width="67.4" height="5.4" fill="#fee29b"/>
<rect x="1913.7" y="463.0" width="67.4" height="5.4" fill="#fde9ab"/>
<rect x="1913.7" y="468.0" width="67.4" height="3.4" fill="#fec97f"/>
<rect x="1913.7" y="471.0" width="67.4" height="3.9" fill="#fde8a8"/>
<rect x="1913.7" y="474.5" width="67.4" height="4.4" fill="#fee198"/>
<rect x="1913.7" y="478.5" width="67.4" height="3.4" fill="#fdc379"/>
<rect x="1913.7" y="481.5" width="67.4" height="5.4" fill="#fdc47a"/>
<rect x="1913.7" y="486.5" width="67.4" height="1.9" fill="#fde9aa"/>
<rect x="1913.7" y="488.0" width="67.4" height="3.4" fill="#fde6a5"/>
<rect x="1913.7" y="491.0" width="67.4" height="3.4" fill="#f2f7e2"/>
<rect x="1913.7" y="494.0" width="67.4" height="2.4" fill="#eff6e8"/>
<rect x="1913.7" y="496.0" width="67.4" height="2.4" fill="#fceaae"/>
<rect x="1913.7" y="498.0" width="67.4" height="3.9" fill="#cfe3f0"/>
<rect x="1913.7" y="501.5" width="67.4" height="2.4" fill="#bbd5e9"/>
<rect x="1913.7" y="503.5" width="67.4" height="2.4" fill="#ddebf1"/>
<rect x="1913.7" y="505.5" width="67.4" height="3.4" fill="#d6e7f2"/>
<rect x="1913.7" y="508.5" width="67.4" height="4.4" fill="#cee2f0"/>
<rect x="1913.7" y="512.5" width="67.4" height="2.9" fill="#e5f1f0"/>
<rect x="1913.7" y="515.0" width="67.4" height="5.0" fill="#c4dbec"/>
<rect x="1913.7" y="519.6" width="67.4" height="3.4" fill="#bbd5e9"/>
<rect x="1913.7" y="522.6" width="67.4" height="2.4" fill="#9bbedd"/>
<rect x="1913.7" y="524.6" width="67.4" height="6.4" fill="#aacae3"/>
<rect x="1913.7" y="530.6" width="67.4" height="2.4" fill="#accbe4"/>
<rect x="1913.7" y="532.6" width="67.4" height="1.2" fill="#accbe4"/>
<rect x="1913.7" y="533.4" width="67.4" height="4.4" fill="#d0e3f0"/>
<rect x="1913.7" y="537.4" width="67.4" height="6.4" fill="#dbeaf1"/>
<rect x="1913.7" y="543.4" width="67.4" height="3.9" fill="#deecf1"/>
<rect x="1913.7" y="546.9" width="67.4" height="3.9" fill="#d0e3f1"/>
<rect x="1913.7" y="550.4" width="67.4" height="2.4" fill="#dcebf1"/>
<rect x="1913.7" y="552.4" width="67.4" height="3.0" fill="#c7dded"/>
<rect x="1913.7" y="555.0" width="67.4" height="3.4" fill="#cee2f0"/>
<rect x="1913.7" y="558.0" width="67.4" height="2.4" fill="#dbeaf1"/>
<rect x="1913.7" y="560.0" width="67.4" height="2.9" fill="#d4e6f2"/>
<rect x="1913.7" y="562.5" width="67.4" height="3.4" fill="#d6e7f2"/>
<rect x="1913.7" y="565.5" width="67.4" height="5.4" fill="#ddebf1"/>
<rect x="1913.7" y="570.5" width="67.4" height="4.4" fill="#e6f1f0"/>
<rect x="1913.7" y="574.5" width="67.4" height="3.9" fill="#e7f2f0"/>
<rect x="1913.7" y="578.0" width="67.4" height="2.9" fill="#dbeaf1"/>
<rect x="1913.7" y="580.5" width="67.4" height="5.4" fill="#e5f0f1"/>
<rect x="1913.7" y="585.5" width="67.4" height="6.4" fill="#e0eef1"/>
<rect x="1913.7" y="591.5" width="67.4" height="4.4" fill="#f2f7e2"/>
<rect x="1913.7" y="595.5" width="67.4" height="6.4" fill="#daeaf1"/>
<rect x="1913.7" y="601.5" width="67.4" height="3.4" fill="#e4f0f1"/>
<rect x="1913.7" y="604.5" width="67.4" height="2.4" fill="#e9f3f0"/>
<rect x="1913.7" y="606.5" width="67.4" height="3.4" fill="#e7f1f0"/>
<rect x="1913.7" y="609.5" width="67.4" height="3.9" fill="#deecf1"/>
<rect x="1913.7" y="613.0" width="67.4" height="1.4" fill="#e8f2f0"/>
<rect x="1913.7" y="614.0" width="67.4" height="2.9" fill="#c7dded"/>
<rect x="1913.7" y="616.5" width="67.4" height="2.9" fill="#b7d2e8"/>
<rect x="1913.7" y="619.0" width="67.4" height="6.4" fill="#d0e3f1"/>
<rect x="1913.7" y="625.0" width="67.4" height="4.4" fill="#bdd6ea"/>
<rect x="1913.7" y="629.0" width="67.4" height="1.1" fill="#cce1ef"/>
<rect x="1913.7" y="629.7" width="67.4" height="5.4" fill="#a3c4e0"/>
<rect x="1913.7" y="634.7" width="67.4" height="5.2" fill="#9cbfde"/>
<rect x="1913.7" y="639.5" width="67.4" height="2.9" fill="#c4dbec"/>
<rect x="1913.7" y="642.0" width="67.4" height="4.4" fill="#dcebf1"/>
<rect x="1913.7" y="646.0" width="67.4" height="5.4" fill="#d3e5f2"/>
<rect x="1913.7" y="651.0" width="67.4" height="2.4" fill="#d3e5f2"/>
<rect x="1913.7" y="653.0" width="67.4" height="6.4" fill="#ddecf1"/>
<rect x="1913.7" y="659.0" width="67.4" height="2.4" fill="#daeaf1"/>
<rect x="1913.7" y="661.0" width="67.4" height="6.4" fill="#bcd6ea"/>
<rect x="1913.7" y="667.0" width="67.4" height="2.4" fill="#d6e7f2"/>
<rect x="1913.7" y="669.0" width="67.4" height="2.4" fill="#c9deee"/>
<rect x="1913.7" y="671.0" width="67.4" height="6.4" fill="#d1e4f1"/>
<rect x="1913.7" y="677.0" width="67.4" height="3.9" fill="#d8e8f2"/>
<rect x="1913.7" y="680.5" width="67.4" height="4.4" fill="#d3e5f2"/>
<rect x="1913.7" y="684.5" width="67.4" height="5.4" fill="#d3e6f2"/>
<rect x="1913.7" y="689.5" width="67.4" height="5.4" fill="#c5dced"/>
<rect x="1913.7" y="694.5" width="67.4" height="5.4" fill="#d0e3f1"/>
<rect x="1913.7" y="699.5" width="67.4" height="3.4" fill="#e0eef1"/>
<rect x="1913.7" y="702.5" width="67.4" height="2.9" fill="#c6dced"/>
<rect x="1913.7" y="705.0" width="67.4" height="6.4" fill="#dfedf1"/>
<rect x="1913.7" y="711.0" width="67.4" height="4.4" fill="#d7e8f2"/>
<rect x="1913.7" y="715.0" width="67.4" height="3.9" fill="#c2daec"/>
<rect x="1913.7" y="718.5" width="67.4" height="3.9" fill="#cce0ef"/>
<rect x="1913.7" y="722.0" width="67.4" height="6.4" fill="#a1c3e0"/>
<rect x="1913.7" y="728.0" width="67.4" height="3.4" fill="#b6d2e7"/>
<rect x="1913.7" y="731.0" width="67.4" height="1.4" fill="#aecce5"/>
<rect x="1913.7" y="732.0" width="67.4" height="4.4" fill="#c8deee"/>
<rect x="1913.7" y="736.0" width="67.4" height="2.9" fill="#c4dbed"/>
<rect x="1913.7" y="738.5" width="67.4" height="2.4" fill="#bad4e9"/>
<rect x="1913.7" y="740.5" width="67.4" height="6.4" fill="#cfe3f0"/>
<rect x="1913.7" y="746.5" width="67.4" height="2.9" fill="#cbe0ef"/>
<rect x="1913.7" y="749.0" width="67.4" height="3.4" fill="#d5e7f2"/>
<rect x="1913.7" y="752.0" width="67.4" height="5.4" fill="#c6dded"/>
<rect x="1913.7" y="757.0" width="67.4" height="5.4" fill="#c2daec"/>
<rect x="1913.7" y="762.0" width="67.4" height="2.9" fill="#dcebf1"/>
<rect x="1913.7" y="764.5" width="67.4" height="2.4" fill="#d2e4f1"/>
<rect x="1913.7" y="766.5" width="67.4" height="6.4" fill="#d5e7f2"/>
<rect x="1913.7" y="772.5" width="67.4" height="2.9" fill="#cfe2f0"/>
<rect x="1913.7" y="775.0" width="67.4" height="4.4" fill="#cadfef"/>
<rect x="1913.7" y="779.0" width="67.4" height="3.4" fill="#c4dbec"/>
<rect x="1913.7" y="782.0" width="67.4" height="2.4" fill="#d0e3f1"/>
<rect x="1913.7" y="784.0" width="67.4" height="2.9" fill="#b0cde5"/>
<rect x="1913.7" y="786.5" width="67.4" height="3.4" fill="#d0e3f1"/>
<rect x="1913.7" y="789.5" width="67.4" height="5.9" fill="#c9dfee"/>
<rect x="1913.7" y="795.0" width="67.4" height="6.4" fill="#ddebf1"/>
<rect x="1913.7" y="801.0" width="67.4" height="5.4" fill="#dbebf1"/>
<rect x="1913.7" y="806.0" width="67.4" height="4.4" fill="#ddebf1"/>
<rect x="1913.7" y="810.0" width="67.4" height="4.4" fill="#e4f0f1"/>
<rect x="1913.7" y="814.0" width="67.4" height="3.9" fill="#deecf1"/>
<rect x="1913.7" y="817.5" width="67.4" height="3.4" fill="#dbeaf1"/>
<rect x="1913.7" y="820.5" width="67.4" height="6.4" fill="#e8f2f0"/>
<rect x="1913.7" y="826.5" width="67.4" height="6.4" fill="#d9e9f2"/>
<rect x="1913.7" y="832.5" width="67.4" height="2.4" fill="#cce1ef"/>
<rect x="1913.7" y="834.5" width="67.4" height="3.9" fill="#daeaf1"/>
<rect x="1913.7" y="838.0" width="67.4" height="3.9" fill="#e7f2f0"/>
<rect x="1913.7" y="841.5" width="67.4" height="2.4" fill="#e7f2f0"/>
<rect x="1913.7" y="843.5" width="67.4" height="0.9" fill="#dcebf1"/>
<rect x="1980.7" y="2.0" width="67.5" height="5.4" fill="#fcecb2"/>
<rect x="1980.7" y="7.0" width="67.5" height="3.4" fill="#fcebb0"/>
<rect x="1980.7" y="10.0" width="67.5" height="3.9" fill="#feda90"/>
<rect x="1980.7" y="13.5" width="67.5" height="2.9" fill="#fde7a5"/>
<rect x="1980.7" y="16.0" width="67.5" height="2.4" fill="#fedc92"/>
<rect x="1980.7" y="18.0" width="67.5" height="2.9" fill="#fec87e"/>
<rect x="1980.7" y="20.5" width="67.5" height="3.4" fill="#fed98f"/>
<rect x="1980.7" y="23.5" width="67.5" height="5.4" fill="#fedd93"/>
<rect x="1980.7" y="28.5" width="67.5" height="3.9" fill="#fee097"/>
<rect x="1980.7" y="32.0" width="67.5" height="2.9" fill="#fedb91"/>
<rect x="1980.7" y="34.5" width="67.5" height="6.4" fill="#fee39c"/>
<rect x="1980.7" y="40.5" width="67.5" height="3.9" fill="#fcebaf"/>
<rect x="1980.7" y="44.0" width="67.5" height="5.4" fill="#fee29a"/>
<rect x="1980.7" y="49.0" width="67.5" height="4.4" fill="#f6f8da"/>
<rect x="1980.7" y="53.0" width="67.5" height="4.4" fill="#faf8ce"/>
<rect x="1980.7" y="57.0" width="67.5" height="4.4" fill="#eef5e9"/>
<rect x="1980.7" y="61.0" width="67.5" height="3.4" fill="#e9f3f0"/>
<rect x="1980.7" y="64.0" width="67.5" height="2.9" fill="#fcecb1"/>
<rect x="1980.7" y="66.5" width="67.5" height="6.4" fill="#eff6e8"/>
<rect x="1980.7" y="72.5" width="67.5" height="3.9" fill="#e0edf1"/>
<rect x="1980.7" y="76.0" width="67.5" height="2.4" fill="#ebf4f0"/>
<rect x="1980.7" y="78.0" width="67.5" height="2.9" fill="#fceeb7"/>
<rect x="1980.7" y="80.5" width="67.5" height="4.4" fill="#e2eff1"/>
<rect x="1980.7" y="84.5" width="67.5" height="2.4" fill="#f5f8dd"/>
<rect x="1980.7" y="86.5" width="67.5" height="2.4" fill="#eff6e7"/>
<rect x="1980.7" y="88.5" width="67.5" height="5.9" fill="#f5f8dc"/>
<rect x="1980.7" y="94.0" width="67.5" height="3.9" fill="#fdb066"/>
<rect x="1980.7" y="97.5" width="67.5" height="2.4" fill="#fca962"/>
<rect x="1980.7" y="99.5" width="67.5" height="3.4" fill="#fdb268"/>
<rect x="1980.7" y="102.5" width="67.5" height="2.4" fill="#fdac63"/>
<rect x="1980.7" y="104.5" width="67.5" height="2.9" fill="#fdba70"/>
<rect x="1980.7" y="107.0" width="67.5" height="3.4" fill="#fa9b5b"/>
<rect x="1980.7" y="110.0" width="67.5" height="3.4" fill="#fede94"/>
<rect x="1980.7" y="113.0" width="67.5" height="6.4" fill="#fde6a4"/>
<rect x="1980.7" y="119.0" width="67.5" height="6.4" fill="#feda90"/>
<rect x="1980.7" y="125.0" width="67.5" height="6.4" fill="#fdb86e"/>
<rect x="1980.7" y="131.0" width="67.5" height="2.4" fill="#fdc076"/>
<rect x="1980.7" y="133.0" width="67.5" height="6.4" fill="#f78751"/>
<rect x="1980.7" y="139.0" width="67.5" height="4.4" fill="#f99056"/>
<rect x="1980.7" y="143.0" width="67.5" height="2.4" fill="#f5784a"/>
<rect x="1980.7" y="145.0" width="67.5" height="3.4" fill="#f7824f"/>
<rect x="1980.7" y="148.0" width="67.5" height="3.9" fill="#f78651"/>
<rect x="1980.7" y="151.5" width="67.5" height="1.9" fill="#fa985a"/>
<rect x="1980.7" y="153.0" width="67.5" height="6.4" fill="#fdc177"/>
<rect x="1980.7" y="159.0" width="67.5" height="3.9" fill="#fed78d"/>
<rect x="1980.7" y="162.5" width="67.5" height="3.4" fill="#fed88e"/>
<rect x="1980.7" y="165.5" width="67.5" height="5.4" fill="#fed187"/>
<rect x="1980.7" y="170.5" width="67.5" height="3.4" fill="#fee096"/>
<rect x="1980.7" y="173.5" width="67.5" height="2.9" fill="#fedd93"/>
<rect x="1980.7" y="176.0" width="67.5" height="5.4" fill="#fed48a"/>
<rect x="1980.7" y="181.0" width="67.5" height="2.9" fill="#fed288"/>
<rect x="1980.7" y="183.5" width="67.5" height="4.4" fill="#fed98f"/>
<rect x="1980.7" y="187.5" width="67.5" height="3.4" fill="#fecc82"/>
<rect x="1980.7" y="190.5" width="67.5" height="2.4" fill="#fece84"/>
<rect x="1980.7" y="192.5" width="67.5" height="2.9" fill="#feca80"/>
<rect x="1980.7" y="195.0" width="67.5" height="3.9" fill="#fdc77d"/>
<rect x="1980.7" y="198.5" width="67.5" height="2.4" fill="#fed48a"/>
<rect x="1980.7" y="200.5" width="67.5" height="3.9" fill="#fdb86e"/>
<rect x="1980.7" y="204.0" width="67.5" height="6.4" fill="#fdc177"/>
<rect x="1980.7" y="210.0" width="67.5" height="6.4" fill="#fecd83"/>
<rect x="1980.7" y="216.0" width="67.5" height="3.4" fill="#fdb86e"/>
<rect x="1980.7" y="219.0" width="67.5" height="2.4" fill="#fed68c"/>
<rect x="1980.7" y="221.0" width="67.5" height="3.4" fill="#fedd93"/>
<rect x="1980.7" y="224.0" width="67.5" height="3.9" fill="#fcedb4"/>
<rect x="1980.7" y="227.5" width="67.5" height="3.9" fill="#fed086"/>
<rect x="1980.7" y="231.0" width="67.5" height="3.9" fill="#fed086"/>
<rect x="1980.7" y="234.5" width="67.5" height="6.4" fill="#fcebaf"/>
<rect x="1980.7" y="240.5" width="67.5" height="3.4" fill="#fec97f"/>
<rect x="1980.7" y="243.5" width="67.5" height="3.4" fill="#fed086"/>
<rect x="1980.7" y="246.5" width="67.5" height="2.9" fill="#fed389"/>
<rect x="1980.7" y="249.0" width="67.5" height="2.4" fill="#fde4a0"/>
<rect x="1980.7" y="251.0" width="67.5" height="2.9" fill="#fed98f"/>
<rect x="1980.7" y="253.5" width="67.5" height="5.4" fill="#fde6a4"/>
<rect x="1980.7" y="258.5" width="67.5" height="2.4" fill="#fed187"/>
<rect x="1980.7" y="260.5" width="67.5" height="3.9" fill="#fdc278"/>
<rect x="1980.7" y="264.0" width="67.5" height="6.4" fill="#fed98f"/>
<rect x="1980.7" y="270.0" width="67.5" height="4.4" fill="#fdbd73"/>
<rect x="1980.7" y="274.0" width="67.5" height="2.4" fill="#fa9859"/>
<rect x="1980.7" y="276.0" width="67.5" height="2.4" fill="#fa995a"/>
<rect x="1980.7" y="278.0" width="67.5" height="3.9" fill="#fed187"/>
<rect x="1980.7" y="281.5" width="67.5" height="6.4" fill="#fdbb71"/>
<rect x="1980.7" y="287.5" width="67.5" height="3.9" fill="#fed187"/>
<rect x="1980.7" y="291.0" width="67.5" height="4.4" fill="#fdc278"/>
<rect x="1980.7" y="295.0" width="67.5" height="0.9" fill="#fb9e5c"/>
<rect x="1980.7" y="295.5" width="67.5" height="4.4" fill="#fedc92"/>
<rect x="1980.7" y="299.5" width="67.5" height="5.4" fill="#fde9aa"/>
<rect x="1980.7" y="304.5" width="67.5" height="2.4" fill="#fee198"/>
<rect x="1980.7" y="306.5" width="67.5" height="4.4" fill="#fed88e"/>
<rect x="1980.7" y="310.5" width="67.5" height="4.4" fill="#fee097"/>
<rect x="1980.7" y="314.5" width="67.5" height="3.9" fill="#fde5a3"/>
<rect x="1980.7" y="318.0" width="67.5" height="1.4" fill="#fedb91"/>
<rect x="1980.7" y="319.0" width="67.5" height="3.4" fill="#feda90"/>
<rect x="1980.7" y="322.0" width="67.5" height="4.4" fill="#fed086"/>
<rect x="1980.7" y="326.0" width="67.5" height="3.9" fill="#fdbb71"/>
<rect x="1980.7" y="329.5" width="67.5" height="6.4" fill="#fed389"/>
<rect x="1980.7" y="335.5" width="67.5" height="3.9" fill="#fed98f"/>
<rect x="1980.7" y="339.0" width="67.5" height="5.4" fill="#feda90"/>
<rect x="1980.7" y="344.0" width="67.5" height="6.4" fill="#fdc67c"/>
<rect x="1980.7" y="350.0" width="67.5" height="6.4" fill="#fde6a3"/>
<rect x="1980.7" y="356.0" width="67.5" height="2.4" fill="#faf9cf"/>
<rect x="1980.7" y="358.0" width="67.5" height="2.4" fill="#fee29a"/>
<rect x="1980.7" y="360.0" width="67.5" height="2.9" fill="#fed086"/>
<rect x="1980.7" y="362.5" width="67.5" height="3.4" fill="#fde9ab"/>
<rect x="1980.7" y="365.5" width="67.5" height="4.4" fill="#feda90"/>
<rect x="1980.7" y="369.5" width="67.5" height="4.4" fill="#fde8a9"/>
<rect x="1980.7" y="373.5" width="67.5" height="2.4" fill="#fed98f"/>
<rect x="1980.7" y="375.5" width="67.5" height="2.9" fill="#fde49f"/>
<rect x="1980.7" y="378.0" width="67.5" height="5.4" fill="#fdc67c"/>
<rect x="1980.7" y="383.0" width="67.5" height="3.9" fill="#fdc076"/>
<rect x="1980.7" y="386.5" width="67.5" height="6.4" fill="#fdc67c"/>
<rect x="1980.7" y="392.5" width="67.5" height="2.4" fill="#fee39d"/>
<rect x="1980.7" y="394.5" width="67.5" height="6.4" fill="#fecc82"/>
<rect x="1980.7" y="400.5" width="67.5" height="6.4" fill="#fdc77d"/>
<rect x="1980.7" y="406.5" width="67.5" height="4.4" fill="#fdc278"/>
<rect x="1980.7" y="410.5" width="67.5" height="2.9" fill="#fec87e"/>
<rect x="1980.7" y="413.0" width="67.5" height="6.4" fill="#fecc82"/>
<rect x="1980.7" y="419.0" width="67.5" height="0.8" fill="#fdc278"/>
<rect x="1980.7" y="419.4" width="67.5" height="3.4" fill="#f47046"/>
<rect x="1980.7" y="422.4" width="67.5" height="3.4" fill="#f6804e"/>
<rect x="1980.7" y="425.4" width="67.5" height="2.3" fill="#f99357"/>
<rect x="1980.7" y="427.3" width="67.5" height="2.4" fill="#fdb86e"/>
<rect x="1980.7" y="429.3" width="67.5" height="6.4" fill="#fec97f"/>
<rect x="1980.7" y="435.3" width="67.5" height="3.9" fill="#fed187"/>
<rect x="1980.7" y="438.8" width="67.5" height="0.6" fill="#fdb066"/>
<rect x="1980.7" y="439.0" width="67.5" height="4.4" fill="#fcecb2"/>
<rect x="1980.7" y="443.0" width="67.5" height="5.4" fill="#fafad3"/>
<rect x="1980.7" y="448.0" width="67.5" height="2.9" fill="#fee097"/>
<rect x="1980.7" y="450.5" width="67.5" height="4.4" fill="#fbf6c9"/>
<rect x="1980.7" y="454.5" width="67.5" height="2.4" fill="#faf9d1"/>
<rect x="1980.7" y="456.5" width="67.5" height="6.4" fill="#fbf6c8"/>
<rect x="1980.7" y="462.5" width="67.5" height="5.4" fill="#fcecb3"/>
<rect x="1980.7" y="467.5" width="67.5" height="3.4" fill="#fbf5c7"/>
<rect x="1980.7" y="470.5" width="67.5" height="2.9" fill="#fbf7ca"/>
<rect x="1980.7" y="473.0" width="67.5" height="2.9" fill="#fbf2bf"/>
<rect x="1980.7" y="475.5" width="67.5" height="4.4" fill="#faf7cb"/>
<rect x="1980.7" y="479.5" width="67.5" height="3.9" fill="#fcecb2"/>
<rect x="1980.7" y="483.0" width="67.5" height="3.4" fill="#fbf1bc"/>
<rect x="1980.7" y="486.0" width="67.5" height="2.4" fill="#faf8cd"/>
<rect x="1980.7" y="488.0" width="67.5" height="2.9" fill="#fedf95"/>
<rect x="1980.7" y="490.5" width="67.5" height="2.4" fill="#fdbf75"/>
<rect x="1980.7" y="492.5" width="67.5" height="5.4" fill="#fed78d"/>
<rect x="1980.7" y="497.5" width="67.5" height="0.9" fill="#fede94"/>
<rect x="1980.7" y="498.0" width="67.5" height="3.9" fill="#e1eef1"/>
<rect x="1980.7" y="501.5" width="67.5" height="2.9" fill="#e3eff1"/>
<rect x="1980.7" y="504.0" width="67.5" height="3.9" fill="#e6f1f0"/>
<rect x="1980.7" y="507.5" width="67.5" height="3.4" fill="#dfedf1"/>
<rect x="1980.7" y="510.5" width="67.5" height="3.9" fill="#d1e4f1"/>
<rect x="1980.7" y="514.0" width="67.5" height="2.9" fill="#bfd8eb"/>
<rect x="1980.7" y="516.5" width="67.5" height="3.4" fill="#dae9f2"/>
<rect x="1980.7" y="519.5" width="67.5" height="4.4" fill="#d8e9f2"/>
<rect x="1980.7" y="523.5" width="67.5" height="4.4" fill="#d4e6f2"/>
<rect x="1980.7" y="527.5" width="67.5" height="2.4" fill="#d6e7f2"/>
<rect x="1980.7" y="529.5" width="67.5" height="3.4" fill="#f0f6e7"/>
<rect x="1980.7" y="532.5" width="67.5" height="6.4" fill="#e7f2f0"/>
<rect x="1980.7" y="538.5" width="67.5" height="2.9" fill="#e1eef1"/>
<rect x="1980.7" y="541.0" width="67.5" height="3.9" fill="#cde1f0"/>
<rect x="1980.7" y="544.5" width="67.5" height="4.4" fill="#e5f0f1"/>
<rect x="1980.7" y="548.5" width="67.5" height="2.9" fill="#d7e8f2"/>
<rect x="1980.7" y="551.0" width="67.5" height="3.9" fill="#dcebf1"/>
<rect x="1980.7" y="554.5" width="67.5" height="0.9" fill="#d8e9f2"/>
<rect x="1980.7" y="555.0" width="67.5" height="3.4" fill="#deecf1"/>
<rect x="1980.7" y="558.0" width="67.5" height="3.4" fill="#d3e5f2"/>
<rect x="1980.7" y="561.0" width="67.5" height="4.4" fill="#d2e5f1"/>
<rect x="1980.7" y="565.0" width="67.5" height="2.9" fill="#deecf1"/>
<rect x="1980.7" y="567.5" width="67.5" height="4.4" fill="#d5e7f2"/>
<rect x="1980.7" y="571.5" width="67.5" height="6.4" fill="#d4e6f2"/>
<rect x="1980.7" y="577.5" width="67.5" height="3.4" fill="#deecf1"/>
<rect x="1980.7" y="580.5" width="67.5" height="2.4" fill="#dcebf1"/>
<rect x="1980.7" y="582.5" width="67.5" height="2.4" fill="#bfd8eb"/>
<rect x="1980.7" y="584.5" width="67.5" height="2.4" fill="#bfd8eb"/>
<rect x="1980.7" y="586.5" width="67.5" height="2.9" fill="#c2daec"/>
<rect x="1980.7" y="589.0" width="67.5" height="2.4" fill="#c5dced"/>
<rect x="1980.7" y="591.0" width="67.5" height="2.4" fill="#c2daec"/>
<rect x="1980.7" y="593.0" width="67.5" height="5.4" fill="#b4d1e7"/>
<rect x="1980.7" y="598.0" width="67.5" height="6.4" fill="#e3eff1"/>
<rect x="1980.7" y="604.0" width="67.5" height="6.4" fill="#faf7cb"/>
<rect x="1980.7" y="610.0" width="67.5" height="3.9" fill="#eef5ea"/>
<rect x="1980.7" y="613.5" width="67.5" height="2.4" fill="#e4f0f1"/>
<rect x="1980.7" y="615.5" width="67.5" height="3.4" fill="#f8f9d6"/>
<rect x="1980.7" y="618.5" width="67.5" height="3.9" fill="#e5f0f1"/>
<rect x="1980.7" y="622.0" width="67.5" height="2.9" fill="#dfedf1"/>
<rect x="1980.7" y="624.5" width="67.5" height="2.4" fill="#fafad2"/>
<rect x="1980.7" y="626.5" width="67.5" height="6.4" fill="#ebf4f0"/>
<rect x="1980.7" y="632.5" width="67.5" height="2.9" fill="#e2eff1"/>
<rect x="1980.7" y="635.0" width="67.5" height="2.4" fill="#dfecf1"/>
<rect x="1980.7" y="637.0" width="67.5" height="2.4" fill="#fbf6ca"/>
<rect x="1980.7" y="639.0" width="67.5" height="0.9" fill="#ebf4f0"/>
<rect x="1980.7" y="639.5" width="67.5" height="5.4" fill="#d1e4f1"/>
<rect x="1980.7" y="644.5" width="67.5" height="4.4" fill="#bed7ea"/>
<rect x="1980.7" y="648.5" width="67.5" height="2.9" fill="#adcce4"/>
<rect x="1980.7" y="651.0" width="67.5" height="4.4" fill="#c4dbed"/>
<rect x="1980.7" y="655.0" width="67.5" height="3.9" fill="#d5e7f2"/>
<rect x="1980.7" y="658.5" width="67.5" height="2.4" fill="#d0e3f1"/>
<rect x="1980.7" y="660.5" width="67.5" height="2.9" fill="#d6e7f2"/>
<rect x="1980.7" y="663.0" width="67.5" height="6.4" fill="#bfd8eb"/>
<rect x="1980.7" y="669.0" width="67.5" height="5.4" fill="#d3e5f2"/>
<rect x="1980.7" y="674.0" width="67.5" height="5.4" fill="#bad5e9"/>
<rect x="1980.7" y="679.0" width="67.5" height="3.9" fill="#c5dced"/>
<rect x="1980.7" y="682.5" width="67.5" height="3.9" fill="#bed7ea"/>
<rect x="1980.7" y="686.0" width="67.5" height="2.9" fill="#daeaf1"/>
<rect x="1980.7" y="688.5" width="67.5" height="6.4" fill="#c6dded"/>
<rect x="1980.7" y="694.5" width="67.5" height="2.4" fill="#cee2f0"/>
<rect x="1980.7" y="696.5" width="67.5" height="4.4" fill="#cce0ef"/>
<rect x="1980.7" y="700.5" width="67.5" height="4.4" fill="#d8e8f2"/>
<rect x="1980.7" y="704.5" width="67.5" height="2.4" fill="#c1d9eb"/>
<rect x="1980.7" y="706.5" width="67.5" height="3.4" fill="#d3e6f2"/>
<rect x="1980.7" y="709.5" width="67.5" height="2.4" fill="#c4dbec"/>
<rect x="1980.7" y="711.5" width="67.5" height="4.4" fill="#c5dced"/>
<rect x="1980.7" y="715.5" width="67.5" height="4.4" fill="#d5e7f2"/>
<rect x="1980.7" y="719.5" width="67.5" height="2.9" fill="#c0d8eb"/>
<rect x="1980.7" y="722.0" width="67.5" height="2.9" fill="#e3eff1"/>
<rect x="1980.7" y="724.5" width="67.5" height="2.9" fill="#d1e4f1"/>
<rect x="1980.7" y="727.0" width="67.5" height="2.9" fill="#d5e6f2"/>
<rect x="1980.7" y="729.5" width="67.5" height="4.4" fill="#cde2f0"/>
<rect x="1980.7" y="733.5" width="67.5" height="3.9" fill="#deecf1"/>
<rect x="1980.7" y="737.0" width="67.5" height="2.9" fill="#ddecf1"/>
<rect x="1980.7" y="739.5" width="67.5" height="0.9" fill="#d7e8f2"/>
<rect x="1980.7" y="740.0" width="67.5" height="4.4" fill="#d2e5f1"/>
<rect x="1980.7" y="744.0" width="67.5" height="4.4" fill="#d9e9f2"/>
<rect x="1980.7" y="748.0" width="67.5" height="2.9" fill="#b2cfe6"/>
<rect x="1980.7" y="750.5" width="67.5" height="6.4" fill="#c9dfee"/>
<rect x="1980.7" y="756.5" width="67.5" height="5.4" fill="#cce1ef"/>
<rect x="1980.7" y="761.5" width="67.5" height="2.4" fill="#bdd7ea"/>
<rect x="1980.7" y="763.5" width="67.5" height="2.9" fill="#cde1ef"/>
<rect x="1980.7" y="766.0" width="67.5" height="1.4" fill="#d2e5f1"/>
<rect x="1980.7" y="767.0" width="67.5" height="5.4" fill="#e0edf1"/>
<rect x="1980.7" y="772.0" width="67.5" height="4.4" fill="#dcebf1"/>
<rect x="1980.7" y="776.0" width="67.5" height="4.4" fill="#e6f1f0"/>
<rect x="1980.7" y="780.0" width="67.5" height="3.4" fill="#e2eff1"/>
<rect x="1980.7" y="783.0" width="67.5" height="4.4" fill="#d5e7f2"/>
<rect x="1980.7" y="787.0" width="67.5" height="2.4" fill="#d2e5f1"/>
<rect x="1980.7" y="789.0" width="67.5" height="3.9" fill="#deecf1"/>
<rect x="1980.7" y="792.5" width="67.5" height="3.4" fill="#e3eff1"/>
<rect x="1980.7" y="795.5" width="67.5" height="4.4" fill="#f6f8db"/>
<rect x="1980.7" y="799.5" width="67.5" height="3.4" fill="#f2f7e3"/>
<rect x="1980.7" y="802.5" width="67.5" height="3.9" fill="#eaf3f0"/>
<rect x="1980.7" y="806.0" width="67.5" height="4.4" fill="#fbf2c0"/>
<rect x="1980.7" y="810.0" width="67.5" height="2.9" fill="#d7e8f2"/>
<rect x="1980.7" y="812.5" width="67.5" height="2.4" fill="#dcebf1"/>
<rect x="1980.7" y="814.5" width="67.5" height="3.9" fill="#c9dfee"/>
<rect x="1980.7" y="818.0" width="67.5" height="4.4" fill="#c9dfee"/>
<rect x="1980.7" y="822.0" width="67.5" height="3.4" fill="#d1e4f1"/>
<rect x="1980.7" y="825.0" width="67.5" height="6.4" fill="#d5e6f2"/>
<rect x="1980.7" y="831.0" width="67.5" height="3.9" fill="#c3dbec"/>
<rect x="1980.7" y="834.5" width="67.5" height="3.4" fill="#daeaf1"/>
<rect x="1980.7" y="837.5" width="67.5" height="3.9" fill="#d7e8f2"/>
<rect x="1980.7" y="841.0" width="67.5" height="3.4" fill="#d6e7f2"/>
<rect x="2047.8" y="2.0" width="67.1" height="2.4" fill="#fceeb7"/>
<rect x="2047.8" y="4.0" width="67.1" height="3.4" fill="#fcecb1"/>
<rect x="2047.8" y="7.0" width="67.1" height="3.9" fill="#fcedb5"/>
<rect x="2047.8" y="10.5" width="67.1" height="5.4" fill="#f5f8dd"/>
<rect x="2047.8" y="15.5" width="67.1" height="0.9" fill="#fcebaf"/>
<rect x="2047.8" y="16.0" width="67.1" height="2.9" fill="#fedd93"/>
<rect x="2047.8" y="18.5" width="67.1" height="3.9" fill="#fee096"/>
<rect x="2047.8" y="22.0" width="67.1" height="2.4" fill="#fbf6c9"/>
<rect x="2047.8" y="24.0" width="67.1" height="3.4" fill="#f2f7e1"/>
<rect x="2047.8" y="27.0" width="67.1" height="2.4" fill="#fee29a"/>
<rect x="2047.8" y="29.0" width="67.1" height="5.4" fill="#f3f7e0"/>
<rect x="2047.8" y="34.0" width="67.1" height="3.4" fill="#faf8cd"/>
<rect x="2047.8" y="37.0" width="67.1" height="4.4" fill="#fbf2c0"/>
<rect x="2047.8" y="41.0" width="67.1" height="2.9" fill="#f8f9d6"/>
<rect x="2047.8" y="43.5" width="67.1" height="4.4" fill="#fcedb4"/>
<rect x="2047.8" y="47.5" width="67.1" height="2.9" fill="#fcf0ba"/>
<rect x="2047.8" y="50.0" width="67.1" height="3.9" fill="#fde39e"/>
<rect x="2047.8" y="53.5" width="67.1" height="1.9" fill="#fde4a0"/>
<rect x="2047.8" y="55.0" width="67.1" height="2.4" fill="#fbf4c4"/>
<rect x="2047.8" y="57.0" width="67.1" height="4.4" fill="#f7f9d8"/>
<rect x="2047.8" y="61.0" width="67.1" height="3.4" fill="#fbf1bd"/>
<rect x="2047.8" y="64.0" width="67.1" height="5.4" fill="#e2eff1"/>
<rect x="2047.8" y="69.0" width="67.1" height="6.4" fill="#fafad1"/>
<rect x="2047.8" y="75.0" width="67.1" height="2.4" fill="#fbf5c6"/>
<rect x="2047.8" y="77.0" width="67.1" height="5.4" fill="#fee199"/>
<rect x="2047.8" y="82.0" width="67.1" height="2.9" fill="#fde39e"/>
<rect x="2047.8" y="84.5" width="67.1" height="6.4" fill="#fde8a8"/>
<rect x="2047.8" y="90.5" width="67.1" height="2.9" fill="#fde6a3"/>
<rect x="2047.8" y="93.0" width="67.1" height="1.4" fill="#fde4a0"/>
<rect x="2047.8" y="94.0" width="67.1" height="3.4" fill="#fecc82"/>
<rect x="2047.8" y="97.0" width="67.1" height="2.4" fill="#fdc57b"/>
<rect x="2047.8" y="99.0" width="67.1" height="3.9" fill="#fed68c"/>
<rect x="2047.8" y="102.5" width="67.1" height="4.4" fill="#fecf85"/>
<rect x="2047.8" y="106.5" width="67.1" height="3.4" fill="#fed288"/>
<rect x="2047.8" y="109.5" width="67.1" height="5.4" fill="#feda90"/>
<rect x="2047.8" y="114.5" width="67.1" height="3.9" fill="#fde5a2"/>
<rect x="2047.8" y="118.0" width="67.1" height="6.4" fill="#fdb369"/>
<rect x="2047.8" y="124.0" width="67.1" height="6.4" fill="#fca45f"/>
<rect x="2047.8" y="130.0" width="67.1" height="4.4" fill="#fdc57b"/>
<rect x="2047.8" y="134.0" width="67.1" height="5.4" fill="#fed48a"/>
<rect x="2047.8" y="139.0" width="67.1" height="6.4" fill="#fdbf75"/>
<rect x="2047.8" y="145.0" width="67.1" height="3.9" fill="#feca80"/>
<rect x="2047.8" y="148.5" width="67.1" height="4.9" fill="#fed68c"/>
<rect x="2047.8" y="153.0" width="67.1" height="3.9" fill="#fdc77d"/>
<rect x="2047.8" y="156.5" width="67.1" height="5.4" fill="#fdbf75"/>
<rect x="2047.8" y="161.5" width="67.1" height="3.4" fill="#fdb56b"/>
<rect x="2047.8" y="164.5" width="67.1" height="5.4" fill="#fdbc72"/>
<rect x="2047.8" y="169.5" width="67.1" height="6.4" fill="#fed48a"/>
<rect x="2047.8" y="175.5" width="67.1" height="3.4" fill="#fdc177"/>
<rect x="2047.8" y="178.5" width="67.1" height="2.4" fill="#fec87e"/>
<rect x="2047.8" y="180.5" width="67.1" height="5.4" fill="#fdae64"/>
<rect x="2047.8" y="185.5" width="67.1" height="5.4" fill="#fdaf65"/>
<rect x="2047.8" y="190.5" width="67.1" height="4.4" fill="#fb9e5c"/>
<rect x="2047.8" y="194.5" width="67.1" height="2.4" fill="#fba25e"/>
<rect x="2047.8" y="196.5" width="67.1" height="3.9" fill="#fdbc72"/>
<rect x="2047.8" y="200.0" width="67.1" height="2.4" fill="#fdb167"/>
<rect x="2047.8" y="202.0" width="67.1" height="2.9" fill="#fdac63"/>
<rect x="2047.8" y="204.5" width="67.1" height="2.4" fill="#fdc47a"/>
<rect x="2047.8" y="206.5" width="67.1" height="3.9" fill="#fdaf65"/>
<rect x="2047.8" y="210.0" width="67.1" height="5.4" fill="#fdbc72"/>
<rect x="2047.8" y="215.0" width="67.1" height="3.9" fill="#fecf85"/>
<rect x="2047.8" y="218.5" width="67.1" height="3.9" fill="#fdb76d"/>
<rect x="2047.8" y="222.0" width="67.1" height="4.4" fill="#fdb76d"/>
<rect x="2047.8" y="226.0" width="67.1" height="5.4" fill="#fdbf75"/>
<rect x="2047.8" y="231.0" width="67.1" height="6.4" fill="#fdae64"/>
<rect x="2047.8" y="237.0" width="67.1" height="2.9" fill="#fca560"/>
<rect x="2047.8" y="239.5" width="67.1" height="2.4" fill="#fdbd73"/>
<rect x="2047.8" y="241.5" width="67.1" height="3.4" fill="#fdb167"/>
<rect x="2047.8" y="244.5" width="67.1" height="1.9" fill="#fec77d"/>
<rect x="2047.8" y="246.0" width="67.1" height="3.9" fill="#fba15e"/>
<rect x="2047.8" y="249.5" width="67.1" height="3.9" fill="#fdb46a"/>
<rect x="2047.8" y="253.0" width="67.1" height="3.4" fill="#fca560"/>
<rect x="2047.8" y="256.0" width="67.1" height="6.4" fill="#fca861"/>
<rect x="2047.8" y="262.0" width="67.1" height="3.4" fill="#fba05d"/>
<rect x="2047.8" y="265.0" width="67.1" height="3.4" fill="#fed68c"/>
<rect x="2047.8" y="268.0" width="67.1" height="5.4" fill="#fedc92"/>
<rect x="2047.8" y="273.0" width="67.1" height="3.4" fill="#fde7a7"/>
<rect x="2047.8" y="276.0" width="67.1" height="2.4" fill="#fed98f"/>
<rect x="2047.8" y="278.0" width="67.1" height="2.4" fill="#fecd83"/>
<rect x="2047.8" y="280.0" width="67.1" height="3.4" fill="#fbf6c9"/>
<rect x="2047.8" y="283.0" width="67.1" height="3.9" fill="#fcefb9"/>
<rect x="2047.8" y="286.5" width="67.1" height="4.4" fill="#fceaae"/>
<rect x="2047.8" y="290.5" width="67.1" height="2.4" fill="#e9f3f0"/>
<rect x="2047.8" y="292.5" width="67.1" height="3.4" fill="#faf7cc"/>
<rect x="2047.8" y="295.5" width="67.1" height="3.9" fill="#fde8a9"/>
<rect x="2047.8" y="299.0" width="67.1" height="2.9" fill="#fee39c"/>
<rect x="2047.8" y="301.5" width="67.1" height="6.4" fill="#fceeb6"/>
<rect x="2047.8" y="307.5" width="67.1" height="4.4" fill="#fcedb5"/>
<rect x="2047.8" y="311.5" width="67.1" height="6.4" fill="#fece84"/>
<rect x="2047.8" y="317.5" width="67.1" height="1.9" fill="#fdc379"/>
<rect x="2047.8" y="319.0" width="67.1" height="4.4" fill="#fed288"/>
<rect x="2047.8" y="323.0" width="67.1" height="3.9" fill="#fecc82"/>
<rect x="2047.8" y="326.5" width="67.1" height="2.9" fill="#fbf1bd"/>
<rect x="2047.8" y="329.0" width="67.1" height="3.4" fill="#fece84"/>
<rect x="2047.8" y="332.0" width="67.1" height="6.4" fill="#fedf95"/>
<rect x="2047.8" y="338.0" width="67.1" height="2.9" fill="#fed086"/>
<rect x="2047.8" y="340.5" width="67.1" height="2.9" fill="#fdbd73"/>
<rect x="2047.8" y="343.0" width="67.1" height="2.1" fill="#fede94"/>
<rect x="2047.8" y="344.7" width="67.1" height="4.4" fill="#fee39c"/>
<rect x="2047.8" y="348.7" width="67.1" height="2.9" fill="#fed98f"/>
<rect x="2047.8" y="351.2" width="67.1" height="4.4" fill="#fec87e"/>
<rect x="2047.8" y="355.2" width="67.1" height="3.4" fill="#fdb56b"/>
<rect x="2047.8" y="358.2" width="67.1" height="5.4" fill="#fee29a"/>
<rect x="2047.8" y="363.2" width="67.1" height="6.4" fill="#feda90"/>
<rect x="2047.8" y="369.2" width="67.1" height="5.4" fill="#fed98f"/>
<rect x="2047.8" y="374.2" width="67.1" height="4.2" fill="#fceaad"/>
<rect x="2047.8" y="378.0" width="67.1" height="5.4" fill="#feca80"/>
<rect x="2047.8" y="383.0" width="67.1" height="3.4" fill="#fed288"/>
<rect x="2047.8" y="386.0" width="67.1" height="2.4" fill="#fdc278"/>
<rect x="2047.8" y="388.0" width="67.1" height="5.4" fill="#fdb56b"/>
<rect x="2047.8" y="393.0" width="67.1" height="3.2" fill="#fed58b"/>
<rect x="2047.8" y="395.8" width="67.1" height="3.4" fill="#fed288"/>
<rect x="2047.8" y="398.8" width="67.1" height="3.9" fill="#fee198"/>
<rect x="2047.8" y="402.3" width="67.1" height="6.4" fill="#fee29a"/>
<rect x="2047.8" y="408.3" width="67.1" height="3.4" fill="#fedd93"/>
<rect x="2047.8" y="411.3" width="67.1" height="3.9" fill="#fde4a0"/>
<rect x="2047.8" y="414.8" width="67.1" height="1.1" fill="#fedd93"/>
<rect x="2047.8" y="415.5" width="67.1" height="2.9" fill="#faf8ce"/>
<rect x="2047.8" y="418.0" width="67.1" height="4.4" fill="#fde49f"/>
<rect x="2047.8" y="422.0" width="67.1" height="2.9" fill="#fde8a9"/>
<rect x="2047.8" y="424.5" width="67.1" height="4.4" fill="#fcf0ba"/>
<rect x="2047.8" y="428.5" width="67.1" height="4.4" fill="#f7f9d9"/>
<rect x="2047.8" y="432.5" width="67.1" height="6.4" fill="#fbf4c4"/>
<rect x="2047.8" y="438.5" width="67.1" height="0.9" fill="#fbf5c6"/>
<rect x="2047.8" y="439.0" width="67.1" height="6.4" fill="#ed603e"/>
<rect x="2047.8" y="445.0" width="67.1" height="2.9" fill="#d73027"/>
<rect x="2047.8" y="447.5" width="67.1" height="3.9" fill="#eb5b3c"/>
<rect x="2047.8" y="451.0" width="67.1" height="4.2" fill="#e04431"/>
<rect x="2047.8" y="454.8" width="67.1" height="2.9" fill="#f57448"/>
<rect x="2047.8" y="457.3" width="67.1" height="4.4" fill="#f99056"/>
<rect x="2047.8" y="461.3" width="67.1" height="5.4" fill="#f99156"/>
<rect x="2047.8" y="466.3" width="67.1" height="4.4" fill="#f67e4d"/>
<rect x="2047.8" y="470.3" width="67.1" height="2.4" fill="#fdaf65"/>
<rect x="2047.8" y="472.3" width="67.1" height="5.4" fill="#fa9c5b"/>
<rect x="2047.8" y="477.3" width="67.1" height="2.4" fill="#f88952"/>
<rect x="2047.8" y="479.3" width="67.1" height="4.4" fill="#f78851"/>
<rect x="2047.8" y="483.3" width="67.1" height="2.4" fill="#f7834f"/>
<rect x="2047.8" y="485.3" width="67.1" height="3.1" fill="#f5784a"/>
<rect x="2047.8" y="488.0" width="67.1" height="6.4" fill="#fb9e5c"/>
<rect x="2047.8" y="494.0" width="67.1" height="4.4" fill="#fa9759"/>
<rect x="2047.8" y="498.0" width="67.1" height="2.4" fill="#d7e8f2"/>
<rect x="2047.8" y="500.0" width="67.1" height="2.9" fill="#d9e9f2"/>
<rect x="2047.8" y="502.5" width="67.1" height="5.4" fill="#ebf4f0"/>
<rect x="2047.8" y="507.5" width="67.1" height="4.4" fill="#cbe0ef"/>
<rect x="2047.8" y="511.5" width="67.1" height="4.4" fill="#dbeaf1"/>
<rect x="2047.8" y="515.5" width="67.1" height="2.9" fill="#d6e7f2"/>
<rect x="2047.8" y="518.0" width="67.1" height="2.4" fill="#c5dced"/>
<rect x="2047.8" y="520.0" width="67.1" height="3.9" fill="#cee2f0"/>
<rect x="2047.8" y="523.5" width="67.1" height="2.9" fill="#d4e6f2"/>
<rect x="2047.8" y="526.0" width="67.1" height="2.9" fill="#cce1ef"/>
<rect x="2047.8" y="528.5" width="67.1" height="3.9" fill="#d6e7f2"/>
<rect x="2047.8" y="532.0" width="67.1" height="2.4" fill="#dfedf1"/>
<rect x="2047.8" y="534.0" width="67.1" height="4.4" fill="#e4f0f1"/>
<rect x="2047.8" y="538.0" width="67.1" height="2.4" fill="#c7dded"/>
<rect x="2047.8" y="540.0" width="67.1" height="2.9" fill="#d7e8f2"/>
<rect x="2047.8" y="542.5" width="67.1" height="2.9" fill="#cbe0ef"/>
<rect x="2047.8" y="545.0" width="67.1" height="5.4" fill="#cfe3f0"/>
<rect x="2047.8" y="550.0" width="67.1" height="4.4" fill="#d6e7f2"/>
<rect x="2047.8" y="554.0" width="67.1" height="1.4" fill="#e2eff1"/>
<rect x="2047.8" y="555.0" width="67.1" height="6.4" fill="#c1d9eb"/>
<rect x="2047.8" y="561.0" width="67.1" height="2.4" fill="#daeaf1"/>
<rect x="2047.8" y="563.0" width="67.1" height="5.4" fill="#ddebf1"/>
<rect x="2047.8" y="568.0" width="67.1" height="4.4" fill="#ddecf1"/>
<rect x="2047.8" y="572.0" width="67.1" height="2.9" fill="#dfedf1"/>
<rect x="2047.8" y="574.5" width="67.1" height="2.4" fill="#e8f2f0"/>
<rect x="2047.8" y="576.5" width="67.1" height="2.4" fill="#e2eff1"/>
<rect x="2047.8" y="578.5" width="67.1" height="2.4" fill="#faf8ce"/>
<rect x="2047.8" y="580.5" width="67.1" height="2.4" fill="#fafad3"/>
<rect x="2047.8" y="582.5" width="67.1" height="3.9" fill="#cee2f0"/>
<rect x="2047.8" y="586.0" width="67.1" height="5.4" fill="#bdd6ea"/>
<rect x="2047.8" y="591.0" width="67.1" height="4.4" fill="#a7c7e2"/>
<rect x="2047.8" y="595.0" width="67.1" height="6.4" fill="#b6d2e8"/>
<rect x="2047.8" y="601.0" width="67.1" height="5.4" fill="#b8d3e8"/>
<rect x="2047.8" y="606.0" width="67.1" height="2.4" fill="#b8d3e8"/>
<rect x="2047.8" y="608.0" width="67.1" height="6.4" fill="#bbd5e9"/>
<rect x="2047.8" y="614.0" width="67.1" height="2.9" fill="#c4dbec"/>
<rect x="2047.8" y="616.5" width="67.1" height="3.9" fill="#b3d0e6"/>
<rect x="2047.8" y="620.0" width="67.1" height="3.9" fill="#bfd8eb"/>
<rect x="2047.8" y="623.5" width="67.1" height="2.4" fill="#bfd8eb"/>
<rect x="2047.8" y="625.5" width="67.1" height="2.4" fill="#b3d0e6"/>
<rect x="2047.8" y="627.5" width="67.1" height="4.4" fill="#abcae3"/>
<rect x="2047.8" y="631.5" width="67.1" height="4.4" fill="#c6dded"/>
<rect x="2047.8" y="635.5" width="67.1" height="2.5" fill="#aecce5"/>
<rect x="2047.8" y="637.6" width="67.1" height="3.9" fill="#e3eff1"/>
<rect x="2047.8" y="641.1" width="67.1" height="2.9" fill="#d9e9f2"/>
<rect x="2047.8" y="643.6" width="67.1" height="3.9" fill="#deecf1"/>
<rect x="2047.8" y="647.1" width="67.1" height="3.9" fill="#dbeaf1"/>
<rect x="2047.8" y="650.6" width="67.1" height="2.9" fill="#eef5ea"/>
<rect x="2047.8" y="653.1" width="67.1" height="2.9" fill="#d1e4f1"/>
<rect x="2047.8" y="655.6" width="67.1" height="4.4" fill="#c9dfee"/>
<rect x="2047.8" y="659.6" width="67.1" height="4.4" fill="#cadfef"/>
<rect x="2047.8" y="663.6" width="67.1" height="2.4" fill="#d1e4f1"/>
<rect x="2047.8" y="665.6" width="67.1" height="2.9" fill="#d6e7f2"/>
<rect x="2047.8" y="668.1" width="67.1" height="1.3" fill="#dbeaf1"/>
<rect x="2047.8" y="669.0" width="67.1" height="3.4" fill="#ebf4f0"/>
<rect x="2047.8" y="672.0" width="67.1" height="2.4" fill="#e4f0f1"/>
<rect x="2047.8" y="674.0" width="67.1" height="5.4" fill="#ebf4f0"/>
<rect x="2047.8" y="679.0" width="67.1" height="5.4" fill="#d5e7f2"/>
<rect x="2047.8" y="684.0" width="67.1" height="6.4" fill="#c3dbec"/>
<rect x="2047.8" y="690.0" width="67.1" height="2.4" fill="#d0e3f0"/>
<rect x="2047.8" y="692.0" width="67.1" height="3.9" fill="#cadfee"/>
<rect x="2047.8" y="695.5" width="67.1" height="5.4" fill="#cee2f0"/>
<rect x="2047.8" y="700.5" width="67.1" height="3.4" fill="#d4e6f2"/>
<rect x="2047.8" y="703.5" width="67.1" height="6.4" fill="#d2e5f1"/>
<rect x="2047.8" y="709.5" width="67.1" height="3.9" fill="#dbeaf1"/>
<rect x="2047.8" y="713.0" width="67.1" height="5.4" fill="#d0e3f1"/>
<rect x="2047.8" y="718.0" width="67.1" height="4.4" fill="#d4e6f2"/>
<rect x="2047.8" y="722.0" width="67.1" height="2.9" fill="#fbf4c4"/>
<rect x="2047.8" y="724.5" width="67.1" height="3.9" fill="#e8f2f0"/>
<rect x="2047.8" y="728.0" width="67.1" height="5.4" fill="#d7e8f2"/>
<rect x="2047.8" y="733.0" width="67.1" height="2.4" fill="#cadfef"/>
<rect x="2047.8" y="735.0" width="67.1" height="2.4" fill="#e1eef1"/>
<rect x="2047.8" y="737.0" width="67.1" height="2.4" fill="#d4e6f2"/>
<rect x="2047.8" y="739.0" width="67.1" height="2.4" fill="#deecf1"/>
<rect x="2047.8" y="741.0" width="67.1" height="3.9" fill="#e3eff1"/>
<rect x="2047.8" y="744.5" width="67.1" height="2.9" fill="#dbeaf1"/>
<rect x="2047.8" y="747.0" width="67.1" height="2.9" fill="#f2f7e1"/>
<rect x="2047.8" y="749.5" width="67.1" height="3.4" fill="#cbe0ef"/>
<rect x="2047.8" y="752.5" width="67.1" height="3.4" fill="#e1eef1"/>
<rect x="2047.8" y="755.5" width="67.1" height="6.4" fill="#e2eef1"/>
<rect x="2047.8" y="761.5" width="67.1" height="5.4" fill="#ddebf1"/>
<rect x="2047.8" y="766.5" width="67.1" height="2.9" fill="#e0eef1"/>
<rect x="2047.8" y="769.0" width="67.1" height="2.9" fill="#dcebf1"/>
<rect x="2047.8" y="771.5" width="67.1" height="5.9" fill="#d7e8f2"/>
<rect x="2047.8" y="777.0" width="67.1" height="5.4" fill="#c5dced"/>
<rect x="2047.8" y="782.0" width="67.1" height="3.4" fill="#accbe4"/>
<rect x="2047.8" y="785.0" width="67.1" height="3.4" fill="#b4d0e7"/>
<rect x="2047.8" y="788.0" width="67.1" height="2.9" fill="#99bcdc"/>
<rect x="2047.8" y="790.5" width="67.1" height="6.4" fill="#bfd8eb"/>
<rect x="2047.8" y="796.5" width="67.1" height="3.4" fill="#bbd5e9"/>
<rect x="2047.8" y="799.5" width="67.1" height="5.4" fill="#c2daec"/>
<rect x="2047.8" y="804.5" width="67.1" height="2.9" fill="#bbd5e9"/>
<rect x="2047.8" y="807.0" width="67.1" height="4.4" fill="#c3daec"/>
<rect x="2047.8" y="811.0" width="67.1" height="4.4" fill="#c2daec"/>
<rect x="2047.8" y="815.0" width="67.1" height="6.4" fill="#a4c4e1"/>
<rect x="2047.8" y="821.0" width="67.1" height="4.4" fill="#b0cde5"/>
<rect x="2047.8" y="825.0" width="67.1" height="3.4" fill="#bdd6ea"/>
<rect x="2047.8" y="828.0" width="67.1" height="2.9" fill="#b6d2e8"/>
<rect x="2047.8" y="830.5" width="67.1" height="2.4" fill="#c1d9eb"/>
<rect x="2047.8" y="832.5" width="67.1" height="6.4" fill="#bdd6ea"/>
<rect x="2047.8" y="838.5" width="67.1" height="5.4" fill="#b1cee6"/>
<rect x="2047.8" y="843.5" width="67.1" height="0.9" fill="#b8d3e8"/>
<rect x="1456.2" y="2.0" width="22.0" height="842.0" fill="#f3edf5"/>
<rect x="1457.7" y="41.5" width="19.0" height="1.7" fill="#d6307e"/>
<rect x="1457.7" y="51.1" width="19.0" height="1.7" fill="#d6307e"/>
<rect x="1457.7" y="69.8" width="19.0" height="3.0" fill="#d6307e"/>
<rect x="1457.7" y="156.2" width="19.0" height="1.7" fill="#d6307e"/>
<rect x="1457.7" y="158.5" width="19.0" height="1.7" fill="#d6307e"/>
<rect x="1457.7" y="164.3" width="19.0" height="3.0" fill="#d6307e"/>
<rect x="1457.7" y="197.0" width="19.0" height="1.7" fill="#d6307e"/>
<rect x="1457.7" y="254.2" width="19.0" height="1.7" fill="#d6307e"/>
<rect x="1457.7" y="275.1" width="19.0" height="1.7" fill="#d6307e"/>
<rect x="1457.7" y="296.4" width="19.0" height="1.7" fill="#d6307e"/>
<rect x="1457.7" y="328.1" width="19.0" height="1.7" fill="#d6307e"/>
<rect x="1457.7" y="368.6" width="19.0" height="1.7" fill="#d6307e"/>
<rect x="1457.7" y="387.8" width="19.0" height="1.7" fill="#d6307e"/>
<rect x="1457.7" y="483.9" width="19.0" height="1.7" fill="#d6307e"/>
<rect x="1457.7" y="495.8" width="19.0" height="1.7" fill="#d6307e"/>
<rect x="1457.7" y="558.4" width="19.0" height="1.7" fill="#d6307e"/>
<rect x="1457.7" y="584.9" width="19.0" height="1.7" fill="#d6307e"/>
<rect x="1457.7" y="640.0" width="19.0" height="1.7" fill="#d6307e"/>
<rect x="1457.7" y="648.5" width="19.0" height="1.7" fill="#d6307e"/>
<rect x="1457.7" y="717.1" width="19.0" height="1.7" fill="#d6307e"/>
<rect x="1457.7" y="739.7" width="19.0" height="3.0" fill="#d6307e"/>
<rect x="1457.7" y="760.8" width="19.0" height="1.7" fill="#d6307e"/>
<rect x="1457.7" y="761.7" width="19.0" height="3.0" fill="#d6307e"/>
<rect x="1457.7" y="807.0" width="19.0" height="1.7" fill="#d6307e"/>
<rect x="1457.7" y="826.4" width="19.0" height="1.7" fill="#d6307e"/>
<rect x="1457.7" y="837.9" width="19.0" height="1.7" fill="#d6307e"/>
<rect x="1481.3" y="2.0" width="22.3" height="842.0" fill="#f3eff8"/>
<rect x="1482.8" y="41.5" width="19.3" height="1.7" fill="#3c98c4"/>
<rect x="1482.8" y="56.9" width="19.3" height="1.7" fill="#3c98c4"/>
<rect x="1482.8" y="69.8" width="19.3" height="3.0" fill="#3c98c4"/>
<rect x="1482.8" y="107.2" width="19.3" height="1.7" fill="#3c98c4"/>
<rect x="1482.8" y="123.4" width="19.3" height="1.7" fill="#3c98c4"/>
<rect x="1482.8" y="146.5" width="19.3" height="1.7" fill="#3c98c4"/>
<rect x="1482.8" y="170.0" width="19.3" height="1.7" fill="#3c98c4"/>
<rect x="1482.8" y="222.8" width="19.3" height="1.7" fill="#3c98c4"/>
<rect x="1482.8" y="255.7" width="19.3" height="1.7" fill="#3c98c4"/>
<rect x="1482.8" y="296.4" width="19.3" height="1.7" fill="#3c98c4"/>
<rect x="1482.8" y="328.1" width="19.3" height="1.7" fill="#3c98c4"/>
<rect x="1482.8" y="361.6" width="19.3" height="1.7" fill="#3c98c4"/>
<rect x="1482.8" y="469.6" width="19.3" height="1.7" fill="#3c98c4"/>
<rect x="1482.8" y="515.1" width="19.3" height="1.7" fill="#3c98c4"/>
<rect x="1482.8" y="561.0" width="19.3" height="1.7" fill="#3c98c4"/>
<rect x="1482.8" y="580.1" width="19.3" height="1.7" fill="#3c98c4"/>
<rect x="1482.8" y="585.4" width="19.3" height="1.7" fill="#3c98c4"/>
<rect x="1482.8" y="639.4" width="19.3" height="3.0" fill="#3c98c4"/>
<rect x="1482.8" y="648.5" width="19.3" height="1.7" fill="#3c98c4"/>
<rect x="1482.8" y="667.0" width="19.3" height="1.7" fill="#3c98c4"/>
<rect x="1482.8" y="679.4" width="19.3" height="1.7" fill="#3c98c4"/>
<rect x="1482.8" y="741.0" width="19.3" height="1.7" fill="#3c98c4"/>
<rect x="1482.8" y="770.0" width="19.3" height="1.7" fill="#3c98c4"/>
<rect x="1482.8" y="809.8" width="19.3" height="1.7" fill="#3c98c4"/>
<rect x="1507.0" y="2.0" width="22.5" height="842.0" fill="#f0eff8"/>
<rect x="1508.5" y="51.1" width="19.5" height="1.7" fill="#4686c2"/>
<rect x="1508.5" y="72.5" width="19.5" height="1.7" fill="#4686c2"/>
<rect x="1508.5" y="87.5" width="19.5" height="1.7" fill="#4686c2"/>
<rect x="1508.5" y="164.3" width="19.5" height="3.0" fill="#4686c2"/>
<rect x="1508.5" y="243.7" width="19.5" height="1.7" fill="#4686c2"/>
<rect x="1508.5" y="318.2" width="19.5" height="3.0" fill="#4686c2"/>
<rect x="1508.5" y="336.5" width="19.5" height="1.7" fill="#4686c2"/>
<rect x="1508.5" y="342.3" width="19.5" height="1.7" fill="#4686c2"/>
<rect x="1508.5" y="347.3" width="19.5" height="1.7" fill="#4686c2"/>
<rect x="1508.5" y="352.0" width="19.5" height="1.7" fill="#4686c2"/>
<rect x="1508.5" y="360.5" width="19.5" height="1.7" fill="#4686c2"/>
<rect x="1508.5" y="400.1" width="19.5" height="1.7" fill="#4686c2"/>
<rect x="1508.5" y="465.0" width="19.5" height="1.7" fill="#4686c2"/>
<rect x="1508.5" y="508.1" width="19.5" height="1.7" fill="#4686c2"/>
<rect x="1508.5" y="819.4" width="19.5" height="1.7" fill="#4686c2"/>
<rect x="1532.5" y="2.0" width="22.0" height="842.0" fill="#fdf0e2"/>
<rect x="1534.0" y="17.6" width="19.0" height="1.7" fill="#e2683a"/>
<rect x="1534.0" y="25.3" width="19.0" height="1.7" fill="#e2683a"/>
<rect x="1534.0" y="36.9" width="19.0" height="1.7" fill="#e2683a"/>
<rect x="1534.0" y="41.5" width="19.0" height="1.7" fill="#e2683a"/>
<rect x="1534.0" y="226.0" width="19.0" height="1.7" fill="#e2683a"/>
<rect x="1534.0" y="235.2" width="19.0" height="1.7" fill="#e2683a"/>
<rect x="1534.0" y="255.7" width="19.0" height="1.7" fill="#e2683a"/>
<rect x="1534.0" y="274.8" width="19.0" height="1.7" fill="#e2683a"/>
<rect x="1534.0" y="301.1" width="19.0" height="1.7" fill="#e2683a"/>
<rect x="1534.0" y="317.3" width="19.0" height="1.7" fill="#e2683a"/>
<rect x="1534.0" y="358.9" width="19.0" height="1.7" fill="#e2683a"/>
<rect x="1534.0" y="387.8" width="19.0" height="1.7" fill="#e2683a"/>
<rect x="1534.0" y="422.5" width="19.0" height="1.7" fill="#e2683a"/>
<rect x="1534.0" y="459.1" width="19.0" height="1.7" fill="#e2683a"/>
<rect x="1534.0" y="467.1" width="19.0" height="3.0" fill="#e2683a"/>
<rect x="1534.0" y="552.5" width="19.0" height="1.7" fill="#e2683a"/>
<rect x="1534.0" y="564.1" width="19.0" height="1.7" fill="#e2683a"/>
<rect x="1534.0" y="566.8" width="19.0" height="1.7" fill="#e2683a"/>
<rect x="1534.0" y="569.6" width="19.0" height="1.7" fill="#e2683a"/>
<rect x="1534.0" y="585.4" width="19.0" height="1.7" fill="#e2683a"/>
<rect x="1534.0" y="640.2" width="19.0" height="3.0" fill="#e2683a"/>
<rect x="1534.0" y="645.9" width="19.0" height="1.7" fill="#e2683a"/>
<rect x="1534.0" y="656.2" width="19.0" height="1.7" fill="#e2683a"/>
<rect x="1534.0" y="661.2" width="19.0" height="1.7" fill="#e2683a"/>
<rect x="1534.0" y="678.6" width="19.0" height="1.7" fill="#e2683a"/>
<rect x="1534.0" y="713.4" width="19.0" height="1.7" fill="#e2683a"/>
<rect x="1534.0" y="749.5" width="19.0" height="1.7" fill="#e2683a"/>
<rect x="1534.0" y="770.0" width="19.0" height="1.7" fill="#e2683a"/>
<rect x="1534.0" y="839.9" width="19.0" height="1.7" fill="#e2683a"/>
<rect x="1558.4" y="2.0" width="22.4" height="842.0" fill="#fcece2"/>
<rect x="1559.9" y="19.1" width="19.4" height="1.7" fill="#dc6030"/>
<rect x="1559.9" y="23.0" width="19.4" height="1.7" fill="#dc6030"/>
<rect x="1559.9" y="26.9" width="19.4" height="1.7" fill="#dc6030"/>
<rect x="1559.9" y="51.1" width="19.4" height="1.7" fill="#dc6030"/>
<rect x="1559.9" y="67.5" width="19.4" height="1.7" fill="#dc6030"/>
<rect x="1559.9" y="87.9" width="19.4" height="1.7" fill="#dc6030"/>
<rect x="1559.9" y="90.2" width="19.4" height="1.7" fill="#dc6030"/>
<rect x="1559.9" y="122.6" width="19.4" height="1.7" fill="#dc6030"/>
<rect x="1559.9" y="187.3" width="19.4" height="1.7" fill="#dc6030"/>
<rect x="1559.9" y="224.3" width="19.4" height="1.7" fill="#dc6030"/>
<rect x="1559.9" y="239.1" width="19.4" height="1.7" fill="#dc6030"/>
<rect x="1559.9" y="294.5" width="19.4" height="1.7" fill="#dc6030"/>
<rect x="1559.9" y="296.6" width="19.4" height="1.7" fill="#dc6030"/>
<rect x="1559.9" y="318.2" width="19.4" height="3.0" fill="#dc6030"/>
<rect x="1559.9" y="328.1" width="19.4" height="1.7" fill="#dc6030"/>
<rect x="1559.9" y="335.9" width="19.4" height="3.0" fill="#dc6030"/>
<rect x="1559.9" y="344.3" width="19.4" height="1.7" fill="#dc6030"/>
<rect x="1559.9" y="353.3" width="19.4" height="3.0" fill="#dc6030"/>
<rect x="1559.9" y="356.4" width="19.4" height="3.0" fill="#dc6030"/>
<rect x="1559.9" y="393.0" width="19.4" height="3.0" fill="#dc6030"/>
<rect x="1559.9" y="477.9" width="19.4" height="3.0" fill="#dc6030"/>
<rect x="1559.9" y="506.2" width="19.4" height="1.7" fill="#dc6030"/>
<rect x="1559.9" y="533.2" width="19.4" height="1.7" fill="#dc6030"/>
<rect x="1559.9" y="586.4" width="19.4" height="1.7" fill="#dc6030"/>
<rect x="1559.9" y="451.1" width="19.4" height="1.7" fill="#dc6030"/>
<rect x="1559.9" y="750.8" width="19.4" height="1.7" fill="#dc6030"/>
<rect x="1583.8" y="2.0" width="22.8" height="842.0" fill="#f5f5f7"/>
<rect x="1585.3" y="19.1" width="19.8" height="1.7" fill="#5a5a5a"/>
<rect x="1585.3" y="191.2" width="19.8" height="1.7" fill="#5a5a5a"/>
<rect x="1585.3" y="195.2" width="19.8" height="1.7" fill="#5a5a5a"/>
<rect x="1585.3" y="200.5" width="19.8" height="1.7" fill="#5a5a5a"/>
<rect x="1585.3" y="255.7" width="19.8" height="1.7" fill="#5a5a5a"/>
<rect x="1585.3" y="291.4" width="19.8" height="1.7" fill="#5a5a5a"/>
<rect x="1585.3" y="302.6" width="19.8" height="1.7" fill="#5a5a5a"/>
<rect x="1585.3" y="312.0" width="19.8" height="3.0" fill="#5a5a5a"/>
<rect x="1585.3" y="416.8" width="19.8" height="1.7" fill="#5a5a5a"/>
<rect x="1585.3" y="448.0" width="19.8" height="1.7" fill="#5a5a5a"/>
<rect x="1585.3" y="465.0" width="19.8" height="1.7" fill="#5a5a5a"/>
<rect x="1585.3" y="468.1" width="19.8" height="1.7" fill="#5a5a5a"/>
<rect x="1585.3" y="493.9" width="19.8" height="1.7" fill="#5a5a5a"/>
<rect x="1585.3" y="551.4" width="19.8" height="1.7" fill="#5a5a5a"/>
<rect x="1585.3" y="569.1" width="19.8" height="1.7" fill="#5a5a5a"/>
<rect x="1585.3" y="594.9" width="19.8" height="1.7" fill="#5a5a5a"/>
<rect x="1585.3" y="641.1" width="19.8" height="1.7" fill="#5a5a5a"/>
<rect x="1585.3" y="655.4" width="19.8" height="1.7" fill="#5a5a5a"/>
<rect x="1585.3" y="682.4" width="19.8" height="1.7" fill="#5a5a5a"/>
<rect x="1585.3" y="690.9" width="19.8" height="1.7" fill="#5a5a5a"/>
<rect x="1585.3" y="713.8" width="19.8" height="3.0" fill="#5a5a5a"/>
<rect x="1585.3" y="819.4" width="19.8" height="1.7" fill="#5a5a5a"/>
<rect x="1585.3" y="838.8" width="19.8" height="3.0" fill="#5a5a5a"/>
<rect x="1609.7" y="2.0" width="22.0" height="842.0" fill="#eff8ec"/>
<rect x="1611.2" y="16.5" width="19.0" height="1.7" fill="#3aa052"/>
<rect x="1611.2" y="28.4" width="19.0" height="1.7" fill="#3aa052"/>
<rect x="1611.2" y="51.1" width="19.0" height="1.7" fill="#3aa052"/>
<rect x="1611.2" y="67.1" width="19.0" height="1.7" fill="#3aa052"/>
<rect x="1611.2" y="70.2" width="19.0" height="3.0" fill="#3aa052"/>
<rect x="1611.2" y="87.5" width="19.0" height="1.7" fill="#3aa052"/>
<rect x="1611.2" y="117.6" width="19.0" height="1.7" fill="#3aa052"/>
<rect x="1611.2" y="164.3" width="19.0" height="3.0" fill="#3aa052"/>
<rect x="1611.2" y="246.0" width="19.0" height="1.7" fill="#3aa052"/>
<rect x="1611.2" y="269.1" width="19.0" height="1.7" fill="#3aa052"/>
<rect x="1611.2" y="341.9" width="19.0" height="1.7" fill="#3aa052"/>
<rect x="1611.2" y="357.8" width="19.0" height="1.7" fill="#3aa052"/>
<rect x="1611.2" y="400.2" width="19.0" height="1.7" fill="#3aa052"/>
<rect x="1611.2" y="402.5" width="19.0" height="1.7" fill="#3aa052"/>
<rect x="1611.2" y="422.5" width="19.0" height="1.7" fill="#3aa052"/>
<rect x="1611.2" y="432.9" width="19.0" height="1.7" fill="#3aa052"/>
<rect x="1611.2" y="448.0" width="19.0" height="1.7" fill="#3aa052"/>
<rect x="1611.2" y="458.8" width="19.0" height="1.7" fill="#3aa052"/>
<rect x="1611.2" y="469.6" width="19.0" height="1.7" fill="#3aa052"/>
<rect x="1611.2" y="493.9" width="19.0" height="1.7" fill="#3aa052"/>
<rect x="1611.2" y="499.8" width="19.0" height="1.7" fill="#3aa052"/>
<rect x="1611.2" y="508.1" width="19.0" height="1.7" fill="#3aa052"/>
<rect x="1611.2" y="533.2" width="19.0" height="1.7" fill="#3aa052"/>
<rect x="1611.2" y="553.8" width="19.0" height="1.7" fill="#3aa052"/>
<rect x="1611.2" y="594.9" width="19.0" height="1.7" fill="#3aa052"/>
<rect x="1611.2" y="457.6" width="19.0" height="1.7" fill="#3aa052"/>
<rect x="1611.2" y="648.5" width="19.0" height="1.7" fill="#3aa052"/>
<rect x="1611.2" y="706.4" width="19.0" height="1.7" fill="#3aa052"/>
<rect x="1611.2" y="773.4" width="19.0" height="1.7" fill="#3aa052"/>
<rect x="1611.2" y="790.4" width="19.0" height="1.7" fill="#3aa052"/>
<rect x="1611.2" y="819.4" width="19.0" height="1.7" fill="#3aa052"/>
<rect x="1611.2" y="839.9" width="19.0" height="1.7" fill="#3aa052"/>
<rect x="1635.0" y="2.0" width="22.5" height="842.0" fill="#f0f6ea"/>
<rect x="1636.5" y="16.5" width="19.5" height="1.7" fill="#3690c4"/>
<rect x="1636.5" y="28.6" width="19.5" height="3.0" fill="#3690c4"/>
<rect x="1636.5" y="38.9" width="19.5" height="1.7" fill="#3690c4"/>
<rect x="1636.5" y="41.5" width="19.5" height="1.7" fill="#3690c4"/>
<rect x="1636.5" y="51.1" width="19.5" height="1.7" fill="#3690c4"/>
<rect x="1636.5" y="67.1" width="19.5" height="1.7" fill="#3690c4"/>
<rect x="1636.5" y="70.2" width="19.5" height="3.0" fill="#3690c4"/>
<rect x="1636.5" y="85.2" width="19.5" height="1.7" fill="#3690c4"/>
<rect x="1636.5" y="122.3" width="19.5" height="3.0" fill="#3690c4"/>
<rect x="1636.5" y="158.1" width="19.5" height="1.7" fill="#3690c4"/>
<rect x="1636.5" y="164.3" width="19.5" height="3.0" fill="#3690c4"/>
<rect x="1636.5" y="222.1" width="19.5" height="1.7" fill="#3690c4"/>
<rect x="1636.5" y="235.2" width="19.5" height="1.7" fill="#3690c4"/>
<rect x="1636.5" y="328.1" width="19.5" height="1.7" fill="#3690c4"/>
<rect x="1636.5" y="402.9" width="19.5" height="1.7" fill="#3690c4"/>
<rect x="1636.5" y="407.1" width="19.5" height="1.7" fill="#3690c4"/>
<rect x="1636.5" y="448.0" width="19.5" height="1.7" fill="#3690c4"/>
<rect x="1636.5" y="469.6" width="19.5" height="1.7" fill="#3690c4"/>
<rect x="1636.5" y="542.9" width="19.5" height="1.7" fill="#3690c4"/>
<rect x="1636.5" y="554.4" width="19.5" height="1.7" fill="#3690c4"/>
<rect x="1636.5" y="566.0" width="19.5" height="1.7" fill="#3690c4"/>
<rect x="1636.5" y="589.1" width="19.5" height="1.7" fill="#3690c4"/>
<rect x="1636.5" y="594.9" width="19.5" height="1.7" fill="#3690c4"/>
<rect x="1636.5" y="457.6" width="19.5" height="1.7" fill="#3690c4"/>
<rect x="1636.5" y="595.6" width="19.5" height="1.7" fill="#3690c4"/>
<rect x="1636.5" y="640.2" width="19.5" height="3.0" fill="#3690c4"/>
<rect x="1636.5" y="645.9" width="19.5" height="1.7" fill="#3690c4"/>
<rect x="1636.5" y="648.9" width="19.5" height="1.7" fill="#3690c4"/>
<rect x="1636.5" y="662.4" width="19.5" height="1.7" fill="#3690c4"/>
<rect x="1636.5" y="689.0" width="19.5" height="1.7" fill="#3690c4"/>
<rect x="1636.5" y="703.0" width="19.5" height="3.0" fill="#3690c4"/>
<rect x="1636.5" y="713.8" width="19.5" height="3.0" fill="#3690c4"/>
<rect x="1636.5" y="765.4" width="19.5" height="1.7" fill="#3690c4"/>
<rect x="1636.5" y="769.2" width="19.5" height="1.7" fill="#3690c4"/>
<rect x="1636.5" y="773.2" width="19.5" height="3.0" fill="#3690c4"/>
<rect x="1636.5" y="809.8" width="19.5" height="1.7" fill="#3690c4"/>
<rect x="1661.0" y="2.0" width="22.7" height="842.0" fill="#ecf5f8"/>
<rect x="1662.5" y="8.8" width="19.7" height="1.7" fill="#8048a8"/>
<rect x="1662.5" y="20.9" width="19.7" height="3.0" fill="#8048a8"/>
<rect x="1662.5" y="33.0" width="19.7" height="1.7" fill="#8048a8"/>
<rect x="1662.5" y="85.2" width="19.7" height="1.7" fill="#8048a8"/>
<rect x="1662.5" y="117.6" width="19.7" height="1.7" fill="#8048a8"/>
<rect x="1662.5" y="164.3" width="19.7" height="3.0" fill="#8048a8"/>
<rect x="1662.5" y="171.6" width="19.7" height="1.7" fill="#8048a8"/>
<rect x="1662.5" y="187.3" width="19.7" height="1.7" fill="#8048a8"/>
<rect x="1662.5" y="196.3" width="19.7" height="3.0" fill="#8048a8"/>
<rect x="1662.5" y="202.3" width="19.7" height="1.7" fill="#8048a8"/>
<rect x="1662.5" y="239.1" width="19.7" height="1.7" fill="#8048a8"/>
<rect x="1662.5" y="246.0" width="19.7" height="1.7" fill="#8048a8"/>
<rect x="1662.5" y="269.1" width="19.7" height="1.7" fill="#8048a8"/>
<rect x="1662.5" y="294.1" width="19.7" height="1.7" fill="#8048a8"/>
<rect x="1662.5" y="327.5" width="19.7" height="3.0" fill="#8048a8"/>
<rect x="1662.5" y="341.9" width="19.7" height="1.7" fill="#8048a8"/>
<rect x="1662.5" y="348.1" width="19.7" height="1.7" fill="#8048a8"/>
<rect x="1662.5" y="352.0" width="19.7" height="1.7" fill="#8048a8"/>
<rect x="1662.5" y="357.8" width="19.7" height="1.7" fill="#8048a8"/>
<rect x="1662.5" y="362.8" width="19.7" height="1.7" fill="#8048a8"/>
<rect x="1662.5" y="383.6" width="19.7" height="1.7" fill="#8048a8"/>
<rect x="1662.5" y="387.8" width="19.7" height="1.7" fill="#8048a8"/>
<rect x="1662.5" y="392.6" width="19.7" height="3.0" fill="#8048a8"/>
<rect x="1662.5" y="410.4" width="19.7" height="3.0" fill="#8048a8"/>
<rect x="1662.5" y="434.1" width="19.7" height="1.7" fill="#8048a8"/>
<rect x="1662.5" y="445.8" width="19.7" height="1.7" fill="#8048a8"/>
<rect x="1662.5" y="741.0" width="19.7" height="1.7" fill="#8048a8"/>
<rect x="1662.5" y="798.9" width="19.7" height="1.7" fill="#8048a8"/>
<rect x="1686.8" y="2.0" width="22.0" height="842.0" fill="#ebf6f9"/>
<rect x="1688.3" y="8.8" width="19.0" height="1.7" fill="#249a58"/>
<rect x="1688.3" y="16.5" width="19.0" height="1.7" fill="#249a58"/>
<rect x="1688.3" y="19.1" width="19.0" height="1.7" fill="#249a58"/>
<rect x="1688.3" y="21.5" width="19.0" height="1.7" fill="#249a58"/>
<rect x="1688.3" y="28.6" width="19.0" height="3.0" fill="#249a58"/>
<rect x="1688.3" y="33.0" width="19.0" height="1.7" fill="#249a58"/>
<rect x="1688.3" y="36.9" width="19.0" height="1.7" fill="#249a58"/>
<rect x="1688.3" y="72.5" width="19.0" height="1.7" fill="#249a58"/>
<rect x="1688.3" y="85.3" width="19.0" height="3.0" fill="#249a58"/>
<rect x="1688.3" y="117.6" width="19.0" height="1.7" fill="#249a58"/>
<rect x="1688.3" y="150.8" width="19.0" height="1.7" fill="#249a58"/>
<rect x="1688.3" y="164.3" width="19.0" height="3.0" fill="#249a58"/>
<rect x="1688.3" y="192.0" width="19.0" height="1.7" fill="#249a58"/>
<rect x="1688.3" y="196.3" width="19.0" height="3.0" fill="#249a58"/>
<rect x="1688.3" y="202.9" width="19.0" height="3.0" fill="#249a58"/>
<rect x="1688.3" y="222.8" width="19.0" height="1.7" fill="#249a58"/>
<rect x="1688.3" y="239.1" width="19.0" height="1.7" fill="#249a58"/>
<rect x="1688.3" y="246.0" width="19.0" height="1.7" fill="#249a58"/>
<rect x="1688.3" y="269.1" width="19.0" height="1.7" fill="#249a58"/>
<rect x="1688.3" y="284.5" width="19.0" height="1.7" fill="#249a58"/>
<rect x="1688.3" y="294.1" width="19.0" height="1.7" fill="#249a58"/>
<rect x="1688.3" y="298.0" width="19.0" height="1.7" fill="#249a58"/>
<rect x="1688.3" y="326.3" width="19.0" height="3.0" fill="#249a58"/>
<rect x="1688.3" y="335.2" width="19.0" height="3.0" fill="#249a58"/>
<rect x="1688.3" y="344.3" width="19.0" height="1.7" fill="#249a58"/>
<rect x="1688.3" y="348.1" width="19.0" height="1.7" fill="#249a58"/>
<rect x="1688.3" y="352.0" width="19.0" height="1.7" fill="#249a58"/>
<rect x="1688.3" y="355.8" width="19.0" height="1.7" fill="#249a58"/>
<rect x="1688.3" y="359.8" width="19.0" height="1.7" fill="#249a58"/>
<rect x="1688.3" y="362.2" width="19.0" height="3.0" fill="#249a58"/>
<rect x="1688.3" y="375.9" width="19.0" height="1.7" fill="#249a58"/>
<rect x="1688.3" y="383.6" width="19.0" height="1.7" fill="#249a58"/>
<rect x="1688.3" y="387.8" width="19.0" height="1.7" fill="#249a58"/>
<rect x="1688.3" y="395.6" width="19.0" height="1.7" fill="#249a58"/>
<rect x="1688.3" y="399.0" width="19.0" height="1.7" fill="#249a58"/>
<rect x="1688.3" y="407.1" width="19.0" height="1.7" fill="#249a58"/>
<rect x="1688.3" y="410.4" width="19.0" height="3.0" fill="#249a58"/>
<rect x="1688.3" y="433.0" width="19.0" height="1.7" fill="#249a58"/>
<rect x="1688.3" y="445.8" width="19.0" height="1.7" fill="#249a58"/>
<rect x="1688.3" y="470.4" width="19.0" height="1.7" fill="#249a58"/>
<rect x="1688.3" y="741.0" width="19.0" height="1.7" fill="#249a58"/>
<rect x="1688.3" y="773.9" width="19.0" height="1.7" fill="#249a58"/>
<rect x="1688.3" y="798.9" width="19.0" height="1.7" fill="#249a58"/>
<rect x="1456.0" y="299.0" width="253.0" height="1.2" fill="#ffffff"/>
<rect x="1456.0" y="498.0" width="253.0" height="1.2" fill="#ffffff"/>
<rect x="1456.0" y="723.0" width="253.0" height="1.2" fill="#ffffff"/>
<path d="M1444.4 2.4L1455.0 2.4M1444.4 3.2L1455.0 3.2M1444.4 3.9L1455.0 3.9M1444.4 2.4L1444.4 3.9M1441.5 4.9L1455.0 4.9M1441.5 6.1L1455.0 6.1M1441.5 7.3L1455.0 7.3M1441.5 4.9L1441.5 7.3M1436.7 3.2L1436.7 6.1M1436.7 3.2L1444.4 3.2M1436.7 6.1L1441.5 6.1M1443.1 8.4L1455.0 8.4M1443.1 9.4L1455.0 9.4M1443.1 10.4L1455.0 10.4M1443.1 8.4L1443.1 10.4M1448.0 11.4L1455.0 11.4M1448.0 12.3L1455.0 12.3M1448.0 13.2L1455.0 13.2M1448.0 11.4L1448.0 13.2M1447.8 14.2L1455.0 14.2M1447.8 15.0L1455.0 15.0M1447.8 15.9L1455.0 15.9M1447.8 14.2L1447.8 15.9M1444.3 12.3L1444.3 15.0M1444.3 12.3L1448.0 12.3M1444.3 15.0L1447.8 15.0M1437.8 9.4L1437.8 13.7M1437.8 9.4L1443.1 9.4M1437.8 13.7L1444.3 13.7M1444.5 16.6L1455.0 16.6M1444.5 17.2L1455.0 17.2M1444.5 17.7L1455.0 17.7M1444.5 16.6L1444.5 17.7M1443.7 18.5L1455.0 18.5M1443.7 19.6L1455.0 19.6M1443.7 20.7L1455.0 20.7M1443.7 18.5L1443.7 20.7M1438.9 17.2L1438.9 19.6M1438.9 17.2L1444.5 17.2M1438.9 19.6L1443.7 19.6M1431.7 11.5L1431.7 18.4M1431.7 11.5L1437.8 11.5M1431.7 18.4L1438.9 18.4M1425.9 4.6L1425.9 15.0M1425.9 4.6L1436.7 4.6M1425.9 15.0L1431.7 15.0M1434.1 21.8L1455.0 21.8M1434.1 22.9L1455.0 22.9M1434.1 24.1L1455.0 24.1M1434.1 21.8L1434.1 24.1M1435.6 25.2L1455.0 25.2M1435.6 26.4L1455.0 26.4M1435.6 27.5L1455.0 27.5M1435.6 25.2L1435.6 27.5M1423.5 22.9L1423.5 26.4M1423.5 22.9L1434.1 22.9M1423.5 26.4L1435.6 26.4M1444.9 28.7L1455.0 28.7M1444.9 29.8L1455.0 29.8M1444.9 31.0L1455.0 31.0M1444.9 28.7L1444.9 31.0M1446.9 31.9L1455.0 31.9M1446.9 32.6L1455.0 32.6M1446.9 33.3L1455.0 33.3M1446.9 31.9L1446.9 33.3M1441.5 29.8L1441.5 32.6M1441.5 29.8L1444.9 29.8M1441.5 32.6L1446.9 32.6M1437.9 34.3L1455.0 34.3M1437.9 35.6L1455.0 35.6M1437.9 36.9L1455.0 36.9M1437.9 34.3L1437.9 36.9M1432.6 31.2L1432.6 35.6M1432.6 31.2L1441.5 31.2M1432.6 35.6L1437.9 35.6M1418.9 24.7L1418.9 33.4M1418.9 24.7L1423.5 24.7M1418.9 33.4L1432.6 33.4M1413.0 9.8L1413.0 29.0M1413.0 9.8L1425.9 9.8M1413.0 29.0L1418.9 29.0M1441.2 38.1L1455.0 38.1M1441.2 39.3L1455.0 39.3M1441.2 40.4L1455.0 40.4M1441.2 38.1L1441.2 40.4M1442.4 41.7L1455.0 41.7M1442.4 43.1L1455.0 43.1M1442.4 44.4L1455.0 44.4M1442.4 41.7L1442.4 44.4M1437.1 39.3L1437.1 43.1M1437.1 39.3L1441.2 39.3M1437.1 43.1L1442.4 43.1M1445.0 45.7L1455.0 45.7M1445.0 46.8L1455.0 46.8M1445.0 47.9L1455.0 47.9M1445.0 45.7L1445.0 47.9M1443.9 48.9L1455.0 48.9M1443.9 49.8L1455.0 49.8M1443.9 50.8L1455.0 50.8M1443.9 48.9L1443.9 50.8M1438.5 46.8L1438.5 49.8M1438.5 46.8L1445.0 46.8M1438.5 49.8L1443.9 49.8M1432.4 41.2L1432.4 48.3M1432.4 41.2L1437.1 41.2M1432.4 48.3L1438.5 48.3M1447.6 51.8L1455.0 51.8M1447.6 53.0L1455.0 53.0M1447.6 54.1L1455.0 54.1M1447.6 51.8L1447.6 54.1M1449.3 55.0L1455.0 55.0M1449.3 55.8L1455.0 55.8M1449.3 56.6L1455.0 56.6M1449.3 55.0L1449.3 56.6M1445.9 53.0L1445.9 55.8M1445.9 53.0L1447.6 53.0M1445.9 55.8L1449.3 55.8M1444.5 57.4L1455.0 57.4M1444.5 58.3L1455.0 58.3M1444.5 59.2L1455.0 59.2M1444.5 57.4L1444.5 59.2M1440.1 54.4L1440.1 58.3M1440.1 54.4L1445.9 54.4M1440.1 58.3L1444.5 58.3M1446.2 60.1L1455.0 60.1M1446.2 61.3L1455.0 61.3M1446.2 62.4L1455.0 62.4M1446.2 60.1L1446.2 62.4M1445.4 63.4L1455.0 63.4M1445.4 64.4L1455.0 64.4M1445.4 65.4L1455.0 65.4M1445.4 63.4L1445.4 65.4M1443.9 61.3L1443.9 64.4M1443.9 61.3L1446.2 61.3M1443.9 64.4L1445.4 64.4M1437.1 56.3L1437.1 62.8M1437.1 56.3L1440.1 56.3M1437.1 62.8L1443.9 62.8M1447.6 66.4L1455.0 66.4M1447.6 67.3L1455.0 67.3M1447.6 68.3L1455.0 68.3M1447.6 66.4L1447.6 68.3M1446.9 69.0L1455.0 69.0M1446.9 69.6L1455.0 69.6M1446.9 70.2L1455.0 70.2M1446.9 69.0L1446.9 70.2M1445.2 67.3L1445.2 69.6M1445.2 67.3L1447.6 67.3M1445.2 69.6L1446.9 69.6M1440.7 70.9L1455.0 70.9M1440.7 71.8L1455.0 71.8M1440.7 72.6L1455.0 72.6M1440.7 70.9L1440.7 72.6M1438.3 68.5L1438.3 71.8M1438.3 68.5L1445.2 68.5M1438.3 71.8L1440.7 71.8M1426.3 59.6L1426.3 70.1M1426.3 59.6L1437.1 59.6M1426.3 70.1L1438.3 70.1M1416.7 44.7L1416.7 64.8M1416.7 44.7L1432.4 44.7M1416.7 64.8L1426.3 64.8M1437.9 73.5L1455.0 73.5M1437.9 74.3L1455.0 74.3M1437.9 75.1L1455.0 75.1M1437.9 73.5L1437.9 75.1M1438.4 76.1L1455.0 76.1M1438.4 77.1L1455.0 77.1M1438.4 78.2L1455.0 78.2M1438.4 76.1L1438.4 78.2M1441.9 79.1L1455.0 79.1M1441.9 79.8L1455.0 79.8M1441.9 80.6L1455.0 80.6M1441.9 79.1L1441.9 80.6M1433.7 77.1L1433.7 79.8M1433.7 77.1L1438.4 77.1M1433.7 79.8L1441.9 79.8M1430.4 74.3L1430.4 78.5M1430.4 74.3L1437.9 74.3M1430.4 78.5L1433.7 78.5M1440.4 81.5L1455.0 81.5M1440.4 82.6L1455.0 82.6M1440.4 83.7L1455.0 83.7M1440.4 81.5L1440.4 83.7M1443.1 84.9L1455.0 84.9M1443.1 86.4L1455.0 86.4M1443.1 87.9L1455.0 87.9M1443.1 84.9L1443.1 87.9M1438.0 82.6L1438.0 86.4M1438.0 82.6L1440.4 82.6M1438.0 86.4L1443.1 86.4M1441.4 89.2L1455.0 89.2M1441.4 90.3L1455.0 90.3M1441.4 91.4L1455.0 91.4M1441.4 89.2L1441.4 91.4M1431.6 84.5L1431.6 90.3M1431.6 84.5L1438.0 84.5M1431.6 90.3L1441.4 90.3M1417.2 76.4L1417.2 87.4M1417.2 76.4L1430.4 76.4M1417.2 87.4L1431.6 87.4M1409.9 54.8L1409.9 81.9M1409.9 54.8L1416.7 54.8M1409.9 81.9L1417.2 81.9M1396.4 19.4L1396.4 68.3M1396.4 19.4L1413.0 19.4M1396.4 68.3L1409.9 68.3M1440.3 92.7L1455.0 92.7M1440.3 94.0L1455.0 94.0M1440.3 95.3L1455.0 95.3M1440.3 92.7L1440.3 95.3M1442.3 96.6L1455.0 96.6M1442.3 97.8L1455.0 97.8M1442.3 99.1L1455.0 99.1M1442.3 96.6L1442.3 99.1M1433.8 94.0L1433.8 97.8M1433.8 94.0L1440.3 94.0M1433.8 97.8L1442.3 97.8M1438.7 100.3L1455.0 100.3M1438.7 101.5L1455.0 101.5M1438.7 102.8L1455.0 102.8M1438.7 100.3L1438.7 102.8M1440.6 104.0L1455.0 104.0M1440.6 105.2L1455.0 105.2M1440.6 106.5L1455.0 106.5M1440.6 104.0L1440.6 106.5M1433.3 101.5L1433.3 105.2M1433.3 101.5L1438.7 101.5M1433.3 105.2L1440.6 105.2M1424.1 95.9L1424.1 103.4M1424.1 95.9L1433.8 95.9M1424.1 103.4L1433.3 103.4M1431.4 107.6L1455.0 107.6M1431.4 108.6L1455.0 108.6M1431.4 109.7L1455.0 109.7M1431.4 107.6L1431.4 109.7M1442.4 110.6L1455.0 110.6M1442.4 111.4L1455.0 111.4M1442.4 112.2L1455.0 112.2M1442.4 110.6L1442.4 112.2M1439.6 113.0L1455.0 113.0M1439.6 113.7L1455.0 113.7M1439.6 114.5L1455.0 114.5M1439.6 113.0L1439.6 114.5M1437.5 111.4L1437.5 113.7M1437.5 111.4L1442.4 111.4M1437.5 113.7L1439.6 113.7M1425.1 108.6L1425.1 112.5M1425.1 108.6L1431.4 108.6M1425.1 112.5L1437.5 112.5M1414.7 99.7L1414.7 110.6M1414.7 99.7L1424.1 99.7M1414.7 110.6L1425.1 110.6M1440.2 115.4L1455.0 115.4M1440.2 116.5L1455.0 116.5M1440.2 117.5L1455.0 117.5M1440.2 115.4L1440.2 117.5M1436.5 118.5L1455.0 118.5M1436.5 119.4L1455.0 119.4M1436.5 120.3L1455.0 120.3M1436.5 118.5L1436.5 120.3M1433.5 116.5L1433.5 119.4M1433.5 116.5L1440.2 116.5M1433.5 119.4L1436.5 119.4M1435.3 121.3L1455.0 121.3M1435.3 122.5L1455.0 122.5M1435.3 123.8L1455.0 123.8M1435.3 121.3L1435.3 123.8M1437.0 124.9L1455.0 124.9M1437.0 125.9L1455.0 125.9M1437.0 126.9L1455.0 126.9M1437.0 124.9L1437.0 126.9M1428.4 122.5L1428.4 125.9M1428.4 122.5L1435.3 122.5M1428.4 125.9L1437.0 125.9M1424.6 117.9L1424.6 124.2M1424.6 117.9L1433.5 117.9M1424.6 124.2L1428.4 124.2M1403.7 105.1L1403.7 121.1M1403.7 105.1L1414.7 105.1M1403.7 121.1L1424.6 121.1M1424.3 128.1L1455.0 128.1M1424.3 129.4L1455.0 129.4M1424.3 130.7L1455.0 130.7M1424.3 128.1L1424.3 130.7M1439.8 132.0L1455.0 132.0M1439.8 133.1L1455.0 133.1M1439.8 134.2L1455.0 134.2M1439.8 132.0L1439.8 134.2M1440.0 135.2L1455.0 135.2M1440.0 136.2L1455.0 136.2M1440.0 137.1L1455.0 137.1M1440.0 135.2L1440.0 137.1M1435.6 133.1L1435.6 136.2M1435.6 133.1L1439.8 133.1M1435.6 136.2L1440.0 136.2M1437.1 138.1L1455.0 138.1M1437.1 139.0L1455.0 139.0M1437.1 140.0L1455.0 140.0M1437.1 138.1L1437.1 140.0M1430.9 134.6L1430.9 139.0M1430.9 134.6L1435.6 134.6M1430.9 139.0L1437.1 139.0M1419.3 129.4L1419.3 136.8M1419.3 129.4L1424.3 129.4M1419.3 136.8L1430.9 136.8M1434.3 140.9L1455.0 140.9M1434.3 141.9L1455.0 141.9M1434.3 142.9L1455.0 142.9M1434.3 140.9L1434.3 142.9M1437.5 144.1L1455.0 144.1M1437.5 145.4L1455.0 145.4M1437.5 146.8L1455.0 146.8M1437.5 144.1L1437.5 146.8M1428.0 141.9L1428.0 145.4M1428.0 141.9L1434.3 141.9M1428.0 145.4L1437.5 145.4M1437.5 148.0L1455.0 148.0M1437.5 149.0L1455.0 149.0M1437.5 150.0L1455.0 150.0M1437.5 148.0L1437.5 150.0M1441.8 150.9L1455.0 150.9M1441.8 151.8L1455.0 151.8M1441.8 152.8L1455.0 152.8M1441.8 150.9L1441.8 152.8M1444.6 153.9L1455.0 153.9M1444.6 155.1L1455.0 155.1M1444.6 156.4L1455.0 156.4M1444.6 153.9L1444.6 156.4M1438.7 151.8L1438.7 155.1M1438.7 151.8L1441.8 151.8M1438.7 155.1L1444.6 155.1M1430.3 149.0L1430.3 153.5M1430.3 149.0L1437.5 149.0M1430.3 153.5L1438.7 153.5M1419.8 143.7L1419.8 151.2M1419.8 143.7L1428.0 143.7M1419.8 151.2L1430.3 151.2M1401.6 133.1L1401.6 147.5M1401.6 133.1L1419.3 133.1M1401.6 147.5L1419.8 147.5M1393.4 113.1L1393.4 140.3M1393.4 113.1L1403.7 113.1M1393.4 140.3L1401.6 140.3M1444.2 157.3L1455.0 157.3M1444.2 158.0L1455.0 158.0M1444.2 158.7L1455.0 158.7M1444.2 157.3L1444.2 158.7M1445.8 159.5L1455.0 159.5M1445.8 160.6L1455.0 160.6M1445.8 161.6L1455.0 161.6M1445.8 159.5L1445.8 161.6M1442.2 158.0L1442.2 160.6M1442.2 158.0L1444.2 158.0M1442.2 160.6L1445.8 160.6M1439.5 162.8L1455.0 162.8M1439.5 164.1L1455.0 164.1M1439.5 165.5L1455.0 165.5M1439.5 162.8L1439.5 165.5M1434.2 159.3L1434.2 164.1M1434.2 159.3L1442.2 159.3M1434.2 164.1L1439.5 164.1M1442.6 166.4L1455.0 166.4M1442.6 167.1L1455.0 167.1M1442.6 167.7L1455.0 167.7M1442.6 166.4L1442.6 167.7M1442.7 168.6L1455.0 168.6M1442.7 169.6L1455.0 169.6M1442.7 170.7L1455.0 170.7M1442.7 168.6L1442.7 170.7M1435.5 167.1L1435.5 169.6M1435.5 167.1L1442.6 167.1M1435.5 169.6L1442.7 169.6M1430.0 161.7L1430.0 168.4M1430.0 161.7L1434.2 161.7M1430.0 168.4L1435.5 168.4M1439.9 171.9L1455.0 171.9M1439.9 173.1L1455.0 173.1M1439.9 174.4L1455.0 174.4M1439.9 171.9L1439.9 174.4M1436.6 175.6L1455.0 175.6M1436.6 176.6L1455.0 176.6M1436.6 177.6L1455.0 177.6M1436.6 175.6L1436.6 177.6M1431.3 173.1L1431.3 176.6M1431.3 173.1L1439.9 173.1M1431.3 176.6L1436.6 176.6M1440.0 178.8L1455.0 178.8M1440.0 180.2L1455.0 180.2M1440.0 181.5L1455.0 181.5M1440.0 178.8L1440.0 181.5M1445.5 182.7L1455.0 182.7M1445.5 183.8L1455.0 183.8M1445.5 184.8L1455.0 184.8M1445.5 182.7L1445.5 184.8M1445.8 186.1L1455.0 186.1M1445.8 187.5L1455.0 187.5M1445.8 189.0L1455.0 189.0M1445.8 186.1L1445.8 189.0M1442.8 183.8L1442.8 187.5M1442.8 183.8L1445.5 183.8M1442.8 187.5L1445.8 187.5M1436.0 180.2L1436.0 185.7M1436.0 180.2L1440.0 180.2M1436.0 185.7L1442.8 185.7M1425.2 174.9L1425.2 182.9M1425.2 174.9L1431.3 174.9M1425.2 182.9L1436.0 182.9M1415.2 165.0L1415.2 178.9M1415.2 165.0L1430.0 165.0M1415.2 178.9L1425.2 178.9M1430.6 190.4L1455.0 190.4M1430.6 191.8L1455.0 191.8M1430.6 193.1L1455.0 193.1M1430.6 190.4L1430.6 193.1M1449.2 194.3L1455.0 194.3M1449.2 195.4L1455.0 195.4M1449.2 196.4L1455.0 196.4M1449.2 194.3L1449.2 196.4M1447.1 197.2L1455.0 197.2M1447.1 197.7L1455.0 197.7M1447.1 198.2L1455.0 198.2M1447.1 197.2L1447.1 198.2M1445.3 195.4L1445.3 197.7M1445.3 195.4L1449.2 195.4M1445.3 197.7L1447.1 197.7M1442.6 198.8L1455.0 198.8M1442.6 199.7L1455.0 199.7M1442.6 200.5L1455.0 200.5M1442.6 198.8L1442.6 200.5M1438.4 196.5L1438.4 199.7M1438.4 196.5L1445.3 196.5M1438.4 199.7L1442.6 199.7M1427.2 191.8L1427.2 198.1M1427.2 191.8L1430.6 191.8M1427.2 198.1L1438.4 198.1M1444.0 201.5L1455.0 201.5M1444.0 202.8L1455.0 202.8M1444.0 204.1L1455.0 204.1M1444.0 201.5L1444.0 204.1M1444.2 205.4L1455.0 205.4M1444.2 206.6L1455.0 206.6M1444.2 207.9L1455.0 207.9M1444.2 205.4L1444.2 207.9M1441.1 202.8L1441.1 206.6M1441.1 202.8L1444.0 202.8M1441.1 206.6L1444.2 206.6M1442.0 208.8L1455.0 208.8M1442.0 209.5L1455.0 209.5M1442.0 210.1L1455.0 210.1M1442.0 208.8L1442.0 210.1M1444.4 211.0L1455.0 211.0M1444.4 212.0L1455.0 212.0M1444.4 213.0L1455.0 213.0M1444.4 211.0L1444.4 213.0M1439.9 209.5L1439.9 212.0M1439.9 209.5L1442.0 209.5M1439.9 212.0L1444.4 212.0M1432.9 204.7L1432.9 210.7M1432.9 204.7L1441.1 204.7M1432.9 210.7L1439.9 210.7M1418.3 194.9L1418.3 207.7M1418.3 194.9L1427.2 194.9M1418.3 207.7L1432.9 207.7M1408.2 172.0L1408.2 201.3M1408.2 172.0L1415.2 172.0M1408.2 201.3L1418.3 201.3M1450.0 213.9L1455.0 213.9M1450.0 214.6L1455.0 214.6M1450.0 215.2L1455.0 215.2M1450.0 213.9L1450.0 215.2M1449.7 216.0L1455.0 216.0M1449.7 216.9L1455.0 216.9M1449.7 217.9L1455.0 217.9M1449.7 216.0L1449.7 217.9M1447.7 214.6L1447.7 216.9M1447.7 214.6L1450.0 214.6M1447.7 216.9L1449.7 216.9M1450.6 218.7L1455.0 218.7M1450.6 219.4L1455.0 219.4M1450.6 220.2L1455.0 220.2M1450.6 218.7L1450.6 220.2M1451.6 221.0L1455.0 221.0M1451.6 222.0L1455.0 222.0M1451.6 222.9L1455.0 222.9M1451.6 221.0L1451.6 222.9M1449.5 219.4L1449.5 222.0M1449.5 219.4L1450.6 219.4M1449.5 222.0L1451.6 222.0M1450.9 223.9L1455.0 223.9M1450.9 224.8L1455.0 224.8M1450.9 225.8L1455.0 225.8M1450.9 223.9L1450.9 225.8M1450.0 226.7L1455.0 226.7M1450.0 227.7L1455.0 227.7M1450.0 228.7L1455.0 228.7M1450.0 226.7L1450.0 228.7M1448.6 224.8L1448.6 227.7M1448.6 224.8L1450.9 224.8M1448.6 227.7L1450.0 227.7M1445.8 220.7L1445.8 226.3M1445.8 220.7L1449.5 220.7M1445.8 226.3L1448.6 226.3M1443.9 215.8L1443.9 223.5M1443.9 215.8L1447.7 215.8M1443.9 223.5L1445.8 223.5M1445.7 229.7L1455.0 229.7M1445.7 230.7L1455.0 230.7M1445.7 231.7L1455.0 231.7M1445.7 229.7L1445.7 231.7M1449.7 232.6L1455.0 232.6M1449.7 233.2L1455.0 233.2M1449.7 233.8L1455.0 233.8M1449.7 232.6L1449.7 233.8M1450.1 234.6L1455.0 234.6M1450.1 235.7L1455.0 235.7M1450.1 236.7L1455.0 236.7M1450.1 234.6L1450.1 236.7M1446.8 233.2L1446.8 235.7M1446.8 233.2L1449.7 233.2M1446.8 235.7L1450.1 235.7M1442.1 230.7L1442.1 234.4M1442.1 230.7L1445.7 230.7M1442.1 234.4L1446.8 234.4M1436.8 219.6L1436.8 232.6M1436.8 219.6L1443.9 219.6M1436.8 232.6L1442.1 232.6M1448.6 238.0L1455.0 238.0M1448.6 239.4L1455.0 239.4M1448.6 240.7L1455.0 240.7M1448.6 238.0L1448.6 240.7M1446.0 242.0L1455.0 242.0M1446.0 243.1L1455.0 243.1M1446.0 244.3L1455.0 244.3M1446.0 242.0L1446.0 244.3M1444.7 239.4L1444.7 243.1M1444.7 239.4L1448.6 239.4M1444.7 243.1L1446.0 243.1M1443.5 245.1L1455.0 245.1M1443.5 245.8L1455.0 245.8M1443.5 246.4L1455.0 246.4M1443.5 245.1L1443.5 246.4M1444.6 247.2L1455.0 247.2M1444.6 248.1L1455.0 248.1M1444.6 249.0L1455.0 249.0M1444.6 247.2L1444.6 249.0M1440.6 245.8L1440.6 248.1M1440.6 245.8L1443.5 245.8M1440.6 248.1L1444.6 248.1M1438.6 241.2L1438.6 246.9M1438.6 241.2L1444.7 241.2M1438.6 246.9L1440.6 246.9M1427.9 226.1L1427.9 244.1M1427.9 226.1L1436.8 226.1M1427.9 244.1L1438.6 244.1M1434.8 249.8L1455.0 249.8M1434.8 250.7L1455.0 250.7M1434.8 251.5L1455.0 251.5M1434.8 249.8L1434.8 251.5M1443.2 252.4L1455.0 252.4M1443.2 253.4L1455.0 253.4M1443.2 254.4L1455.0 254.4M1443.2 252.4L1443.2 254.4M1444.9 255.2L1455.0 255.2M1444.9 255.7L1455.0 255.7M1444.9 256.3L1455.0 256.3M1444.9 255.2L1444.9 256.3M1441.2 253.4L1441.2 255.7M1441.2 253.4L1443.2 253.4M1441.2 255.7L1444.9 255.7M1431.5 250.7L1431.5 254.6M1431.5 250.7L1434.8 250.7M1431.5 254.6L1441.2 254.6M1442.3 257.2L1455.0 257.2M1442.3 258.5L1455.0 258.5M1442.3 259.8L1455.0 259.8M1442.3 257.2L1442.3 259.8M1441.1 261.0L1455.0 261.0M1441.1 262.1L1455.0 262.1M1441.1 263.1L1455.0 263.1M1441.1 261.0L1441.1 263.1M1437.0 258.5L1437.0 262.1M1437.0 258.5L1442.3 258.5M1437.0 262.1L1441.1 262.1M1441.1 264.2L1455.0 264.2M1441.1 265.4L1455.0 265.4M1441.1 266.6L1455.0 266.6M1441.1 264.2L1441.1 266.6M1445.0 267.7L1455.0 267.7M1445.0 268.8L1455.0 268.8M1445.0 269.8L1455.0 269.8M1445.0 267.7L1445.0 269.8M1443.5 270.8L1455.0 270.8M1443.5 271.7L1455.0 271.7M1443.5 272.7L1455.0 272.7M1443.5 270.8L1443.5 272.7M1440.0 268.8L1440.0 271.7M1440.0 268.8L1445.0 268.8M1440.0 271.7L1443.5 271.7M1437.2 265.4L1437.2 270.2M1437.2 265.4L1441.1 265.4M1437.2 270.2L1440.0 270.2M1432.1 260.3L1432.1 267.8M1432.1 260.3L1437.0 260.3M1432.1 267.8L1437.2 267.8M1427.8 252.6L1427.8 264.1M1427.8 252.6L1431.5 252.6M1427.8 264.1L1432.1 264.1M1446.2 273.6L1455.0 273.6M1446.2 274.6L1455.0 274.6M1446.2 275.6L1455.0 275.6M1446.2 273.6L1446.2 275.6M1445.4 276.5L1455.0 276.5M1445.4 277.1L1455.0 277.1M1445.4 277.7L1455.0 277.7M1445.4 276.5L1445.4 277.7M1442.3 274.6L1442.3 277.1M1442.3 274.6L1446.2 274.6M1442.3 277.1L1445.4 277.1M1439.9 278.7L1455.0 278.7M1439.9 280.0L1455.0 280.0M1439.9 281.4L1455.0 281.4M1439.9 278.7L1439.9 281.4M1435.3 275.9L1435.3 280.0M1435.3 275.9L1442.3 275.9M1435.3 280.0L1439.9 280.0M1446.0 282.7L1455.0 282.7M1446.0 283.9L1455.0 283.9M1446.0 285.2L1455.0 285.2M1446.0 282.7L1446.0 285.2M1445.1 286.5L1455.0 286.5M1445.1 288.0L1455.0 288.0M1445.1 289.4L1455.0 289.4M1445.1 286.5L1445.1 289.4M1441.6 283.9L1441.6 288.0M1441.6 283.9L1446.0 283.9M1441.6 288.0L1445.1 288.0M1446.2 290.8L1455.0 290.8M1446.2 292.1L1455.0 292.1M1446.2 293.4L1455.0 293.4M1446.2 290.8L1446.2 293.4M1448.8 294.4L1455.0 294.4M1448.8 295.0L1455.0 295.0M1448.8 295.7L1455.0 295.7M1448.8 294.4L1448.8 295.7M1448.8 296.7L1455.0 296.7M1448.8 298.0L1455.0 298.0M1448.8 299.3L1455.0 299.3M1448.8 296.7L1448.8 299.3M1446.8 295.0L1446.8 298.0M1446.8 295.0L1448.8 295.0M1446.8 298.0L1448.8 298.0M1442.7 292.1L1442.7 296.5M1442.7 292.1L1446.2 292.1M1442.7 296.5L1446.8 296.5M1436.7 286.0L1436.7 294.3M1436.7 286.0L1441.6 286.0M1436.7 294.3L1442.7 294.3M1431.1 277.9L1431.1 290.1M1431.1 277.9L1435.3 277.9M1431.1 290.1L1436.7 290.1M1418.1 258.3L1418.1 284.0M1418.1 258.3L1427.8 258.3M1418.1 284.0L1431.1 284.0M1412.4 235.1L1412.4 271.2M1412.4 235.1L1427.9 235.1M1412.4 271.2L1418.1 271.2M1398.2 186.6L1398.2 253.1M1398.2 186.6L1408.2 186.6M1398.2 253.1L1412.4 253.1M1380.0 126.7L1380.0 219.9M1380.0 126.7L1393.4 126.7M1380.0 219.9L1398.2 219.9M1450.3 300.3L1455.0 300.3M1450.3 300.8L1455.0 300.8M1450.3 301.3L1455.0 301.3M1450.3 300.3L1450.3 301.3M1448.7 302.1L1455.0 302.1M1448.7 303.1L1455.0 303.1M1448.7 304.0L1455.0 304.0M1448.7 302.1L1448.7 304.0M1447.7 300.8L1447.7 303.1M1447.7 300.8L1450.3 300.8M1447.7 303.1L1448.7 303.1M1447.2 305.0L1455.0 305.0M1447.2 306.0L1455.0 306.0M1447.2 307.0L1455.0 307.0M1447.2 305.0L1447.2 307.0M1450.1 307.8L1455.0 307.8M1450.1 308.5L1455.0 308.5M1450.1 309.2L1455.0 309.2M1450.1 307.8L1450.1 309.2M1451.5 310.2L1455.0 310.2M1451.5 311.4L1455.0 311.4M1451.5 312.6L1455.0 312.6M1451.5 310.2L1451.5 312.6M1449.4 308.5L1449.4 311.4M1449.4 308.5L1450.1 308.5M1449.4 311.4L1451.5 311.4M1445.9 306.0L1445.9 310.0M1445.9 306.0L1447.2 306.0M1445.9 310.0L1449.4 310.0M1444.6 301.9L1444.6 308.0M1444.6 301.9L1447.7 301.9M1444.6 308.0L1445.9 308.0M1448.0 313.8L1455.0 313.8M1448.0 315.0L1455.0 315.0M1448.0 316.2L1455.0 316.2M1448.0 313.8L1448.0 316.2M1450.5 317.5L1455.0 317.5M1450.5 318.8L1455.0 318.8M1450.5 320.2L1455.0 320.2M1450.5 317.5L1450.5 320.2M1449.6 321.3L1455.0 321.3M1449.6 322.1L1455.0 322.1M1449.6 322.9L1455.0 322.9M1449.6 321.3L1449.6 322.9M1447.4 318.8L1447.4 322.1M1447.4 318.8L1450.5 318.8M1447.4 322.1L1449.6 322.1M1443.8 315.0L1443.8 320.5M1443.8 315.0L1448.0 315.0M1443.8 320.5L1447.4 320.5M1439.3 305.0L1439.3 317.7M1439.3 305.0L1444.6 305.0M1439.3 317.7L1443.8 317.7M1449.3 323.9L1455.0 323.9M1449.3 325.0L1455.0 325.0M1449.3 326.1L1455.0 326.1M1449.3 323.9L1449.3 326.1M1446.8 327.1L1455.0 327.1M1446.8 327.8L1455.0 327.8M1446.8 328.6L1455.0 328.6M1446.8 327.1L1446.8 328.6M1445.5 325.0L1445.5 327.8M1445.5 325.0L1449.3 325.0M1445.5 327.8L1446.8 327.8M1446.4 329.4L1455.0 329.4M1446.4 330.1L1455.0 330.1M1446.4 330.9L1455.0 330.9M1446.4 329.4L1446.4 330.9M1447.3 331.9L1455.0 331.9M1447.3 332.9L1455.0 332.9M1447.3 334.0L1455.0 334.0M1447.3 331.9L1447.3 334.0M1442.9 330.1L1442.9 332.9M1442.9 330.1L1446.4 330.1M1442.9 332.9L1447.3 332.9M1440.7 326.4L1440.7 331.5M1440.7 326.4L1445.5 326.4M1440.7 331.5L1442.9 331.5M1446.2 334.9L1455.0 334.9M1446.2 335.8L1455.0 335.8M1446.2 336.7L1455.0 336.7M1446.2 334.9L1446.2 336.7M1446.4 337.9L1455.0 337.9M1446.4 339.3L1455.0 339.3M1446.4 340.6L1455.0 340.6M1446.4 337.9L1446.4 340.6M1444.3 335.8L1444.3 339.3M1444.3 335.8L1446.2 335.8M1444.3 339.3L1446.4 339.3M1438.5 329.0L1438.5 337.5M1438.5 329.0L1440.7 329.0M1438.5 337.5L1444.3 337.5M1429.4 311.4L1429.4 333.3M1429.4 311.4L1439.3 311.4M1429.4 333.3L1438.5 333.3M1448.8 341.9L1455.0 341.9M1448.8 343.0L1455.0 343.0M1448.8 344.2L1455.0 344.2M1448.8 341.9L1448.8 344.2M1449.6 345.0L1455.0 345.0M1449.6 345.5L1455.0 345.5M1449.6 346.1L1455.0 346.1M1449.6 345.0L1449.6 346.1M1446.8 343.0L1446.8 345.5M1446.8 343.0L1448.8 343.0M1446.8 345.5L1449.6 345.5M1450.3 346.7L1455.0 346.7M1450.3 347.3L1455.0 347.3M1450.3 348.0L1455.0 348.0M1450.3 346.7L1450.3 348.0M1450.4 349.0L1455.0 349.0M1450.4 350.2L1455.0 350.2M1450.4 351.4L1455.0 351.4M1450.4 349.0L1450.4 351.4M1448.0 347.3L1448.0 350.2M1448.0 347.3L1450.3 347.3M1448.0 350.2L1450.4 350.2M1445.4 344.3L1445.4 348.8M1445.4 344.3L1446.8 344.3M1445.4 348.8L1448.0 348.8M1450.7 352.7L1455.0 352.7M1450.7 354.1L1455.0 354.1M1450.7 355.5L1455.0 355.5M1450.7 352.7L1450.7 355.5M1449.1 356.8L1455.0 356.8M1449.1 357.9L1455.0 357.9M1449.1 359.0L1455.0 359.0M1449.1 356.8L1449.1 359.0M1447.9 354.1L1447.9 357.9M1447.9 354.1L1450.7 354.1M1447.9 357.9L1449.1 357.9M1450.3 359.9L1455.0 359.9M1450.3 360.5L1455.0 360.5M1450.3 361.1L1455.0 361.1M1450.3 359.9L1450.3 361.1M1450.6 362.1L1455.0 362.1M1450.6 363.3L1455.0 363.3M1450.6 364.6L1455.0 364.6M1450.6 362.1L1450.6 364.6M1447.8 360.5L1447.8 363.3M1447.8 360.5L1450.3 360.5M1447.8 363.3L1450.6 363.3M1445.2 356.0L1445.2 361.9M1445.2 356.0L1447.9 356.0M1445.2 361.9L1447.8 361.9M1442.3 346.5L1442.3 359.0M1442.3 346.5L1445.4 346.5M1442.3 359.0L1445.2 359.0M1446.2 365.9L1455.0 365.9M1446.2 367.1L1455.0 367.1M1446.2 368.4L1455.0 368.4M1446.2 365.9L1446.2 368.4M1447.9 369.6L1455.0 369.6M1447.9 370.7L1455.0 370.7M1447.9 371.8L1455.0 371.8M1447.9 369.6L1447.9 371.8M1447.7 372.8L1455.0 372.8M1447.7 373.8L1455.0 373.8M1447.7 374.8L1455.0 374.8M1447.7 372.8L1447.7 374.8M1446.0 370.7L1446.0 373.8M1446.0 370.7L1447.9 370.7M1446.0 373.8L1447.7 373.8M1444.0 367.1L1444.0 372.2M1444.0 367.1L1446.2 367.1M1444.0 372.2L1446.0 372.2M1450.6 375.8L1455.0 375.8M1450.6 376.9L1455.0 376.9M1450.6 378.0L1455.0 378.0M1450.6 375.8L1450.6 378.0M1451.4 379.0L1455.0 379.0M1451.4 379.8L1455.0 379.8M1451.4 380.5L1455.0 380.5M1451.4 379.0L1451.4 380.5M1449.2 376.9L1449.2 379.8M1449.2 376.9L1450.6 376.9M1449.2 379.8L1451.4 379.8M1447.3 381.6L1455.0 381.6M1447.3 383.0L1455.0 383.0M1447.3 384.4L1455.0 384.4M1447.3 381.6L1447.3 384.4M1445.2 378.3L1445.2 383.0M1445.2 378.3L1449.2 378.3M1445.2 383.0L1447.3 383.0M1440.3 369.7L1440.3 380.7M1440.3 369.7L1444.0 369.7M1440.3 380.7L1445.2 380.7M1435.7 352.7L1435.7 375.2M1435.7 352.7L1442.3 352.7M1435.7 375.2L1440.3 375.2M1424.6 322.3L1424.6 364.0M1424.6 322.3L1429.4 322.3M1424.6 364.0L1435.7 364.0M1437.8 385.5L1455.0 385.5M1437.8 386.4L1455.0 386.4M1437.8 387.3L1455.0 387.3M1437.8 385.5L1437.8 387.3M1440.4 388.2L1455.0 388.2M1440.4 389.2L1455.0 389.2M1440.4 390.1L1455.0 390.1M1440.4 388.2L1440.4 390.1M1444.8 390.8L1455.0 390.8M1444.8 391.4L1455.0 391.4M1444.8 392.0L1455.0 392.0M1444.8 390.8L1444.8 392.0M1437.5 389.2L1437.5 391.4M1437.5 389.2L1440.4 389.2M1437.5 391.4L1444.8 391.4M1432.7 386.4L1432.7 390.3M1432.7 386.4L1437.8 386.4M1432.7 390.3L1437.5 390.3M1448.2 392.8L1455.0 392.8M1448.2 393.6L1455.0 393.6M1448.2 394.4L1455.0 394.4M1448.2 392.8L1448.2 394.4M1448.6 395.3L1455.0 395.3M1448.6 396.1L1455.0 396.1M1448.6 397.0L1455.0 397.0M1448.6 395.3L1448.6 397.0M1444.7 393.6L1444.7 396.1M1444.7 393.6L1448.2 393.6M1444.7 396.1L1448.6 396.1M1443.4 397.9L1455.0 397.9M1443.4 398.9L1455.0 398.9M1443.4 399.8L1455.0 399.8M1443.4 397.9L1443.4 399.8M1438.7 394.8L1438.7 398.9M1438.7 394.8L1444.7 394.8M1438.7 398.9L1443.4 398.9M1443.7 401.0L1455.0 401.0M1443.7 402.2L1455.0 402.2M1443.7 403.5L1455.0 403.5M1443.7 401.0L1443.7 403.5M1444.8 404.9L1455.0 404.9M1444.8 406.3L1455.0 406.3M1444.8 407.8L1455.0 407.8M1444.8 404.9L1444.8 407.8M1437.8 402.2L1437.8 406.3M1437.8 402.2L1443.7 402.2M1437.8 406.3L1444.8 406.3M1431.8 396.9L1431.8 404.3M1431.8 396.9L1438.7 396.9M1431.8 404.3L1437.8 404.3M1424.7 388.4L1424.7 400.6M1424.7 388.4L1432.7 388.4M1424.7 400.6L1431.8 400.6M1441.3 409.2L1455.0 409.2M1441.3 410.4L1455.0 410.4M1441.3 411.7L1455.0 411.7M1441.3 409.2L1441.3 411.7M1441.0 412.7L1455.0 412.7M1441.0 413.4L1455.0 413.4M1441.0 414.1L1455.0 414.1M1441.0 412.7L1441.0 414.1M1438.0 410.4L1438.0 413.4M1438.0 410.4L1441.3 410.4M1438.0 413.4L1441.0 413.4M1440.2 415.1L1455.0 415.1M1440.2 416.5L1455.0 416.5M1440.2 417.9L1455.0 417.9M1440.2 415.1L1440.2 417.9M1429.9 411.9L1429.9 416.5M1429.9 411.9L1438.0 411.9M1429.9 416.5L1440.2 416.5M1434.4 419.3L1455.0 419.3M1434.4 420.7L1455.0 420.7M1434.4 422.1L1455.0 422.1M1434.4 419.3L1434.4 422.1M1444.8 423.5L1455.0 423.5M1444.8 424.8L1455.0 424.8M1444.8 426.2L1455.0 426.2M1444.8 423.5L1444.8 426.2M1441.6 427.2L1455.0 427.2M1441.6 428.0L1455.0 428.0M1441.6 428.7L1455.0 428.7M1441.6 427.2L1441.6 428.7M1438.3 424.8L1438.3 428.0M1438.3 424.8L1444.8 424.8M1438.3 428.0L1441.6 428.0M1430.0 420.7L1430.0 426.4M1430.0 420.7L1434.4 420.7M1430.0 426.4L1438.3 426.4M1424.1 414.2L1424.1 423.5M1424.1 414.2L1429.9 414.2M1424.1 423.5L1430.0 423.5M1417.1 394.5L1417.1 418.9M1417.1 394.5L1424.7 394.5M1417.1 418.9L1424.1 418.9M1407.7 343.1L1407.7 406.7M1407.7 343.1L1424.6 343.1M1407.7 406.7L1417.1 406.7M1438.6 429.7L1455.0 429.7M1438.6 431.0L1455.0 431.0M1438.6 432.3L1455.0 432.3M1438.6 429.7L1438.6 432.3M1443.7 433.2L1455.0 433.2M1443.7 433.9L1455.0 433.9M1443.7 434.5L1455.0 434.5M1443.7 433.2L1443.7 434.5M1445.5 435.4L1455.0 435.4M1445.5 436.4L1455.0 436.4M1445.5 437.4L1455.0 437.4M1445.5 435.4L1445.5 437.4M1439.0 433.9L1439.0 436.4M1439.0 433.9L1443.7 433.9M1439.0 436.4L1445.5 436.4M1433.1 431.0L1433.1 435.1M1433.1 431.0L1438.6 431.0M1433.1 435.1L1439.0 435.1M1434.7 438.5L1455.0 438.5M1434.7 439.7L1455.0 439.7M1434.7 440.9L1455.0 440.9M1434.7 438.5L1434.7 440.9M1431.1 442.2L1455.0 442.2M1431.1 443.6L1455.0 443.6M1431.1 445.1L1455.0 445.1M1431.1 442.2L1431.1 445.1M1426.7 439.7L1426.7 443.6M1426.7 439.7L1434.7 439.7M1426.7 443.6L1431.1 443.6M1422.7 433.1L1422.7 441.7M1422.7 433.1L1433.1 433.1M1422.7 441.7L1426.7 441.7M1433.6 446.4L1455.0 446.4M1433.6 447.7L1455.0 447.7M1433.6 449.1L1455.0 449.1M1433.6 446.4L1433.6 449.1M1438.8 450.3L1455.0 450.3M1438.8 451.6L1455.0 451.6M1438.8 452.8L1455.0 452.8M1438.8 450.3L1438.8 452.8M1432.3 453.8L1455.0 453.8M1432.3 454.4L1455.0 454.4M1432.3 455.1L1455.0 455.1M1432.3 453.8L1432.3 455.1M1428.4 451.6L1428.4 454.4M1428.4 451.6L1438.8 451.6M1428.4 454.4L1432.3 454.4M1423.5 447.7L1423.5 453.0M1423.5 447.7L1433.6 447.7M1423.5 453.0L1428.4 453.0M1414.3 437.4L1414.3 450.4M1414.3 437.4L1422.7 437.4M1414.3 450.4L1423.5 450.4M1439.2 456.1L1455.0 456.1M1439.2 457.5L1455.0 457.5M1439.2 458.9L1455.0 458.9M1439.2 456.1L1439.2 458.9M1435.2 460.1L1455.0 460.1M1435.2 461.2L1455.0 461.2M1435.2 462.3L1455.0 462.3M1435.2 460.1L1435.2 462.3M1430.3 457.5L1430.3 461.2M1430.3 457.5L1439.2 457.5M1430.3 461.2L1435.2 461.2M1442.5 463.3L1455.0 463.3M1442.5 464.3L1455.0 464.3M1442.5 465.3L1455.0 465.3M1442.5 463.3L1442.5 465.3M1440.7 466.1L1455.0 466.1M1440.7 466.7L1455.0 466.7M1440.7 467.4L1455.0 467.4M1440.7 466.1L1440.7 467.4M1433.9 464.3L1433.9 466.7M1433.9 464.3L1442.5 464.3M1433.9 466.7L1440.7 466.7M1423.8 459.4L1423.8 465.5M1423.8 459.4L1430.3 459.4M1423.8 465.5L1433.9 465.5M1432.7 468.2L1455.0 468.2M1432.7 469.2L1455.0 469.2M1432.7 470.2L1455.0 470.2M1432.7 468.2L1432.7 470.2M1435.7 471.2L1455.0 471.2M1435.7 472.2L1455.0 472.2M1435.7 473.1L1455.0 473.1M1435.7 471.2L1435.7 473.1M1428.7 469.2L1428.7 472.2M1428.7 469.2L1432.7 469.2M1428.7 472.2L1435.7 472.2M1414.4 462.4L1414.4 470.7M1414.4 462.4L1423.8 462.4M1414.4 470.7L1428.7 470.7M1407.3 443.9L1407.3 466.6M1407.3 443.9L1414.3 443.9M1407.3 466.6L1414.4 466.6M1434.3 474.1L1455.0 474.1M1434.3 475.2L1455.0 475.2M1434.3 476.2L1455.0 476.2M1434.3 474.1L1434.3 476.2M1439.6 477.2L1455.0 477.2M1439.6 478.0L1455.0 478.0M1439.6 478.8L1455.0 478.8M1439.6 477.2L1439.6 478.8M1429.9 475.2L1429.9 478.0M1429.9 475.2L1434.3 475.2M1429.9 478.0L1439.6 478.0M1437.4 479.7L1455.0 479.7M1437.4 480.7L1455.0 480.7M1437.4 481.7L1455.0 481.7M1437.4 479.7L1437.4 481.7M1442.5 482.5L1455.0 482.5M1442.5 483.2L1455.0 483.2M1442.5 484.0L1455.0 484.0M1442.5 482.5L1442.5 484.0M1434.2 480.7L1434.2 483.2M1434.2 480.7L1437.4 480.7M1434.2 483.2L1442.5 483.2M1424.6 476.6L1424.6 482.0M1424.6 476.6L1429.9 476.6M1424.6 482.0L1434.2 482.0M1437.8 484.8L1455.0 484.8M1437.8 485.7L1455.0 485.7M1437.8 486.5L1455.0 486.5M1437.8 484.8L1437.8 486.5M1438.5 487.4L1455.0 487.4M1438.5 488.1L1455.0 488.1M1438.5 488.8L1455.0 488.8M1438.5 487.4L1438.5 488.8M1430.9 485.7L1430.9 488.1M1430.9 485.7L1437.8 485.7M1430.9 488.1L1438.5 488.1M1438.9 489.9L1455.0 489.9M1438.9 491.3L1455.0 491.3M1438.9 492.8L1455.0 492.8M1438.9 489.9L1438.9 492.8M1443.7 493.7L1455.0 493.7M1443.7 494.2L1455.0 494.2M1443.7 494.7L1455.0 494.7M1443.7 493.7L1443.7 494.7M1443.9 495.5L1455.0 495.5M1443.9 496.5L1455.0 496.5M1443.9 497.5L1455.0 497.5M1443.9 495.5L1443.9 497.5M1438.0 494.2L1438.0 496.5M1438.0 494.2L1443.7 494.2M1438.0 496.5L1443.9 496.5M1434.5 491.3L1434.5 495.3M1434.5 491.3L1438.9 491.3M1434.5 495.3L1438.0 495.3M1424.1 486.9L1424.1 493.3M1424.1 486.9L1430.9 486.9M1424.1 493.3L1434.5 493.3M1409.3 479.3L1409.3 490.1M1409.3 479.3L1424.6 479.3M1409.3 490.1L1424.1 490.1M1394.3 455.2L1394.3 484.7M1394.3 455.2L1407.3 455.2M1394.3 484.7L1409.3 484.7M1376.0 374.9L1376.0 470.0M1376.0 374.9L1407.7 374.9M1376.0 470.0L1394.3 470.0M1370.0 173.3L1370.0 422.4M1370.0 173.3L1380.0 173.3M1370.0 422.4L1376.0 422.4M1361.0 43.9L1361.0 297.9M1361.0 43.9L1396.4 43.9M1361.0 297.9L1370.0 297.9M1439.9 498.4L1455.0 498.4M1439.9 499.3L1455.0 499.3M1439.9 500.2L1455.0 500.2M1439.9 498.4L1439.9 500.2M1441.4 501.2L1455.0 501.2M1441.4 502.2L1455.0 502.2M1441.4 503.2L1455.0 503.2M1441.4 501.2L1441.4 503.2M1434.0 499.3L1434.0 502.2M1434.0 499.3L1439.9 499.3M1434.0 502.2L1441.4 502.2M1433.8 504.4L1455.0 504.4M1433.8 505.6L1455.0 505.6M1433.8 506.8L1455.0 506.8M1433.8 504.4L1433.8 506.8M1427.9 500.8L1427.9 505.6M1427.9 500.8L1434.0 500.8M1427.9 505.6L1433.8 505.6M1439.0 508.1L1455.0 508.1M1439.0 509.3L1455.0 509.3M1439.0 510.5L1455.0 510.5M1439.0 508.1L1439.0 510.5M1444.5 511.7L1455.0 511.7M1444.5 512.8L1455.0 512.8M1444.5 513.8L1455.0 513.8M1444.5 511.7L1444.5 513.8M1441.9 514.7L1455.0 514.7M1441.9 515.4L1455.0 515.4M1441.9 516.1L1455.0 516.1M1441.9 514.7L1441.9 516.1M1439.1 512.8L1439.1 515.4M1439.1 512.8L1444.5 512.8M1439.1 515.4L1441.9 515.4M1436.2 509.3L1436.2 514.1M1436.2 509.3L1439.0 509.3M1436.2 514.1L1439.1 514.1M1435.8 517.2L1455.0 517.2M1435.8 518.6L1455.0 518.6M1435.8 520.0L1455.0 520.0M1435.8 517.2L1435.8 520.0M1444.1 521.5L1455.0 521.5M1444.1 523.0L1455.0 523.0M1444.1 524.4L1455.0 524.4M1444.1 521.5L1444.1 524.4M1443.3 525.6L1455.0 525.6M1443.3 526.5L1455.0 526.5M1443.3 527.4L1455.0 527.4M1443.3 525.6L1443.3 527.4M1438.3 523.0L1438.3 526.5M1438.3 523.0L1444.1 523.0M1438.3 526.5L1443.3 526.5M1429.6 518.6L1429.6 524.7M1429.6 518.6L1435.8 518.6M1429.6 524.7L1438.3 524.7M1425.0 511.7L1425.0 521.7M1425.0 511.7L1436.2 511.7M1425.0 521.7L1429.6 521.7M1417.7 503.2L1417.7 516.7M1417.7 503.2L1427.9 503.2M1417.7 516.7L1425.0 516.7M1444.5 528.4L1455.0 528.4M1444.5 529.4L1455.0 529.4M1444.5 530.5L1455.0 530.5M1444.5 528.4L1444.5 530.5M1446.3 531.5L1455.0 531.5M1446.3 532.5L1455.0 532.5M1446.3 533.5L1455.0 533.5M1446.3 531.5L1446.3 533.5M1446.6 534.3L1455.0 534.3M1446.6 534.9L1455.0 534.9M1446.6 535.5L1455.0 535.5M1446.6 534.3L1446.6 535.5M1440.9 532.5L1440.9 534.9M1440.9 532.5L1446.3 532.5M1440.9 534.9L1446.6 534.9M1438.8 529.4L1438.8 533.7M1438.8 529.4L1444.5 529.4M1438.8 533.7L1440.9 533.7M1441.6 536.4L1455.0 536.4M1441.6 537.6L1455.0 537.6M1441.6 538.7L1455.0 538.7M1441.6 536.4L1441.6 538.7M1441.8 540.0L1455.0 540.0M1441.8 541.4L1455.0 541.4M1441.8 542.8L1455.0 542.8M1441.8 540.0L1441.8 542.8M1436.2 537.6L1436.2 541.4M1436.2 537.6L1441.6 537.6M1436.2 541.4L1441.8 541.4M1432.1 531.6L1432.1 539.5M1432.1 531.6L1438.8 531.6M1432.1 539.5L1436.2 539.5M1449.0 544.1L1455.0 544.1M1449.0 545.2L1455.0 545.2M1449.0 546.4L1455.0 546.4M1449.0 544.1L1449.0 546.4M1447.1 547.5L1455.0 547.5M1447.1 548.5L1455.0 548.5M1447.1 549.5L1455.0 549.5M1447.1 547.5L1447.1 549.5M1446.0 545.2L1446.0 548.5M1446.0 545.2L1449.0 545.2M1446.0 548.5L1447.1 548.5M1449.6 550.4L1455.0 550.4M1449.6 551.4L1455.0 551.4M1449.6 552.3L1455.0 552.3M1449.6 550.4L1449.6 552.3M1449.0 553.2L1455.0 553.2M1449.0 554.1L1455.0 554.1M1449.0 555.0L1455.0 555.0M1449.0 553.2L1449.0 555.0M1447.7 551.4L1447.7 554.1M1447.7 551.4L1449.6 551.4M1447.7 554.1L1449.0 554.1M1447.2 556.0L1455.0 556.0M1447.2 557.2L1455.0 557.2M1447.2 558.4L1455.0 558.4M1447.2 556.0L1447.2 558.4M1444.3 552.7L1444.3 557.2M1444.3 552.7L1447.7 552.7M1444.3 557.2L1447.2 557.2M1440.5 546.9L1440.5 555.0M1440.5 546.9L1446.0 546.9M1440.5 555.0L1444.3 555.0M1444.2 559.6L1455.0 559.6M1444.2 560.7L1455.0 560.7M1444.2 561.9L1455.0 561.9M1444.2 559.6L1444.2 561.9M1444.7 563.0L1455.0 563.0M1444.7 563.9L1455.0 563.9M1444.7 564.9L1455.0 564.9M1444.7 563.0L1444.7 564.9M1440.5 560.7L1440.5 563.9M1440.5 560.7L1444.2 560.7M1440.5 563.9L1444.7 563.9M1447.5 566.0L1455.0 566.0M1447.5 567.4L1455.0 567.4M1447.5 568.8L1455.0 568.8M1447.5 566.0L1447.5 568.8M1444.8 569.8L1455.0 569.8M1444.8 570.5L1455.0 570.5M1444.8 571.1L1455.0 571.1M1444.8 569.8L1444.8 571.1M1442.8 567.4L1442.8 570.5M1442.8 567.4L1447.5 567.4M1442.8 570.5L1444.8 570.5M1438.3 562.3L1438.3 569.0M1438.3 562.3L1440.5 562.3M1438.3 569.0L1442.8 569.0M1430.3 550.9L1430.3 565.7M1430.3 550.9L1440.5 550.9M1430.3 565.7L1438.3 565.7M1424.9 535.5L1424.9 558.3M1424.9 535.5L1432.1 535.5M1424.9 558.3L1430.3 558.3M1406.3 509.9L1406.3 546.9M1406.3 509.9L1417.7 509.9M1406.3 546.9L1424.9 546.9M1445.9 572.1L1455.0 572.1M1445.9 573.5L1455.0 573.5M1445.9 574.8L1455.0 574.8M1445.9 572.1L1445.9 574.8M1447.2 575.9L1455.0 575.9M1447.2 576.6L1455.0 576.6M1447.2 577.4L1455.0 577.4M1447.2 575.9L1447.2 577.4M1442.1 573.5L1442.1 576.6M1442.1 573.5L1445.9 573.5M1442.1 576.6L1447.2 576.6M1438.8 578.3L1455.0 578.3M1438.8 579.4L1455.0 579.4M1438.8 580.6L1455.0 580.6M1438.8 578.3L1438.8 580.6M1435.7 575.0L1435.7 579.4M1435.7 575.0L1442.1 575.0M1435.7 579.4L1438.8 579.4M1445.1 581.7L1455.0 581.7M1445.1 582.8L1455.0 582.8M1445.1 583.9L1455.0 583.9M1445.1 581.7L1445.1 583.9M1444.7 584.8L1455.0 584.8M1444.7 585.5L1455.0 585.5M1444.7 586.1L1455.0 586.1M1444.7 584.8L1444.7 586.1M1438.5 582.8L1438.5 585.5M1438.5 582.8L1445.1 582.8M1438.5 585.5L1444.7 585.5M1435.5 587.1L1455.0 587.1M1435.5 588.3L1455.0 588.3M1435.5 589.6L1455.0 589.6M1435.5 587.1L1435.5 589.6M1429.9 584.1L1429.9 588.3M1429.9 584.1L1438.5 584.1M1429.9 588.3L1435.5 588.3M1422.9 577.2L1422.9 586.2M1422.9 577.2L1435.7 577.2M1422.9 586.2L1429.9 586.2M1435.8 590.9L1455.0 590.9M1435.8 592.1L1455.0 592.1M1435.8 593.4L1455.0 593.4M1435.8 590.9L1435.8 593.4M1439.2 594.5L1455.0 594.5M1439.2 595.5L1455.0 595.5M1439.2 596.4L1455.0 596.4M1439.2 594.5L1439.2 596.4M1445.0 597.3L1455.0 597.3M1445.0 598.2L1455.0 598.2M1445.0 599.0L1455.0 599.0M1445.0 597.3L1445.0 599.0M1444.6 599.8L1455.0 599.8M1444.6 600.4L1455.0 600.4M1444.6 601.1L1455.0 601.1M1444.6 599.8L1444.6 601.1M1441.1 598.2L1441.1 600.4M1441.1 598.2L1445.0 598.2M1441.1 600.4L1444.6 600.4M1436.0 595.5L1436.0 599.3M1436.0 595.5L1439.2 595.5M1436.0 599.3L1441.1 599.3M1432.8 592.1L1432.8 597.4M1432.8 592.1L1435.8 592.1M1432.8 597.4L1436.0 597.4M1440.1 602.1L1455.0 602.1M1440.1 603.5L1455.0 603.5M1440.1 604.9L1455.0 604.9M1440.1 602.1L1440.1 604.9M1438.8 606.0L1455.0 606.0M1438.8 606.9L1455.0 606.9M1438.8 607.8L1455.0 607.8M1438.8 606.0L1438.8 607.8M1435.3 603.5L1435.3 606.9M1435.3 603.5L1440.1 603.5M1435.3 606.9L1438.8 606.9M1442.7 608.9L1455.0 608.9M1442.7 610.1L1455.0 610.1M1442.7 611.3L1455.0 611.3M1442.7 608.9L1442.7 611.3M1440.8 612.2L1455.0 612.2M1440.8 612.8L1455.0 612.8M1440.8 613.4L1455.0 613.4M1440.8 612.2L1440.8 613.4M1436.5 610.1L1436.5 612.8M1436.5 610.1L1442.7 610.1M1436.5 612.8L1440.8 612.8M1430.1 605.2L1430.1 611.5M1430.1 605.2L1435.3 605.2M1430.1 611.5L1436.5 611.5M1421.1 594.8L1421.1 608.3M1421.1 594.8L1432.8 594.8M1421.1 608.3L1430.1 608.3M1415.4 581.7L1415.4 601.5M1415.4 581.7L1422.9 581.7M1415.4 601.5L1421.1 601.5M1428.8 614.2L1455.0 614.2M1428.8 615.1L1455.0 615.1M1428.8 616.1L1455.0 616.1M1428.8 614.2L1428.8 616.1M1431.7 616.9L1455.0 616.9M1431.7 617.4L1455.0 617.4M1431.7 618.0L1455.0 618.0M1431.7 616.9L1431.7 618.0M1423.7 615.1L1423.7 617.4M1423.7 615.1L1428.8 615.1M1423.7 617.4L1431.7 617.4M1431.2 618.8L1455.0 618.8M1431.2 619.7L1455.0 619.7M1431.2 620.6L1455.0 620.6M1431.2 618.8L1431.2 620.6M1430.9 621.8L1455.0 621.8M1430.9 623.3L1455.0 623.3M1430.9 624.8L1455.0 624.8M1430.9 621.8L1430.9 624.8M1425.9 619.7L1425.9 623.3M1425.9 619.7L1431.2 619.7M1425.9 623.3L1430.9 623.3M1419.4 616.3L1419.4 621.5M1419.4 616.3L1423.7 616.3M1419.4 621.5L1425.9 621.5M1431.2 625.9L1455.0 625.9M1431.2 626.7L1455.0 626.7M1431.2 627.4L1455.0 627.4M1431.2 625.9L1431.2 627.4M1433.9 628.5L1455.0 628.5M1433.9 630.0L1455.0 630.0M1433.9 631.5L1455.0 631.5M1433.9 628.5L1433.9 631.5M1426.3 626.7L1426.3 630.0M1426.3 626.7L1431.2 626.7M1426.3 630.0L1433.9 630.0M1428.6 632.6L1455.0 632.6M1428.6 633.5L1455.0 633.5M1428.6 634.3L1455.0 634.3M1428.6 632.6L1428.6 634.3M1439.9 635.1L1455.0 635.1M1439.9 635.9L1455.0 635.9M1439.9 636.8L1455.0 636.8M1439.9 635.1L1439.9 636.8M1435.5 637.6L1455.0 637.6M1435.5 638.6L1455.0 638.6M1435.5 639.5L1455.0 639.5M1435.5 637.6L1435.5 639.5M1432.5 635.9L1432.5 638.6M1432.5 635.9L1439.9 635.9M1432.5 638.6L1435.5 638.6M1424.8 633.5L1424.8 637.3M1424.8 633.5L1428.6 633.5M1424.8 637.3L1432.5 637.3M1420.4 628.3L1420.4 635.4M1420.4 628.3L1426.3 628.3M1420.4 635.4L1424.8 635.4M1405.6 618.9L1405.6 631.9M1405.6 618.9L1419.4 618.9M1405.6 631.9L1420.4 631.9M1397.9 591.6L1397.9 625.4M1397.9 591.6L1415.4 591.6M1397.9 625.4L1405.6 625.4M1381.0 528.4L1381.0 608.5M1381.0 528.4L1406.3 528.4M1381.0 608.5L1397.9 608.5M1438.4 640.7L1455.0 640.7M1438.4 642.0L1455.0 642.0M1438.4 643.3L1455.0 643.3M1438.4 640.7L1438.4 643.3M1433.1 644.7L1455.0 644.7M1433.1 646.1L1455.0 646.1M1433.1 647.5L1455.0 647.5M1433.1 644.7L1433.1 647.5M1427.3 642.0L1427.3 646.1M1427.3 642.0L1438.4 642.0M1427.3 646.1L1433.1 646.1M1437.1 648.6L1455.0 648.6M1437.1 649.3L1455.0 649.3M1437.1 650.1L1455.0 650.1M1437.1 648.6L1437.1 650.1M1440.8 651.0L1455.0 651.0M1440.8 652.2L1455.0 652.2M1440.8 653.3L1455.0 653.3M1440.8 651.0L1440.8 653.3M1432.7 649.3L1432.7 652.2M1432.7 649.3L1437.1 649.3M1432.7 652.2L1440.8 652.2M1420.3 644.0L1420.3 650.8M1420.3 644.0L1427.3 644.0M1420.3 650.8L1432.7 650.8M1440.8 654.2L1455.0 654.2M1440.8 654.7L1455.0 654.7M1440.8 655.3L1455.0 655.3M1440.8 654.2L1440.8 655.3M1441.1 656.2L1455.0 656.2M1441.1 657.5L1455.0 657.5M1441.1 658.8L1455.0 658.8M1441.1 656.2L1441.1 658.8M1438.7 654.7L1438.7 657.5M1438.7 654.7L1440.8 654.7M1438.7 657.5L1441.1 657.5M1435.6 660.2L1455.0 660.2M1435.6 661.6L1455.0 661.6M1435.6 663.0L1455.0 663.0M1435.6 660.2L1435.6 663.0M1427.4 656.1L1427.4 661.6M1427.4 656.1L1438.7 656.1M1427.4 661.6L1435.6 661.6M1428.6 664.2L1455.0 664.2M1428.6 665.1L1455.0 665.1M1428.6 666.1L1455.0 666.1M1428.6 664.2L1428.6 666.1M1439.0 667.1L1455.0 667.1M1439.0 668.0L1455.0 668.0M1439.0 669.0L1455.0 669.0M1439.0 667.1L1439.0 669.0M1433.5 669.8L1455.0 669.8M1433.5 670.5L1455.0 670.5M1433.5 671.3L1455.0 671.3M1433.5 669.8L1433.5 671.3M1428.8 668.0L1428.8 670.5M1428.8 668.0L1439.0 668.0M1428.8 670.5L1433.5 670.5M1424.7 665.1L1424.7 669.3M1424.7 665.1L1428.6 665.1M1424.7 669.3L1428.8 669.3M1419.4 658.8L1419.4 667.2M1419.4 658.8L1427.4 658.8M1419.4 667.2L1424.7 667.2M1413.8 647.4L1413.8 663.0M1413.8 647.4L1420.3 647.4M1413.8 663.0L1419.4 663.0M1446.6 672.0L1455.0 672.0M1446.6 672.7L1455.0 672.7M1446.6 673.4L1455.0 673.4M1446.6 672.0L1446.6 673.4M1448.4 674.5L1455.0 674.5M1448.4 675.9L1455.0 675.9M1448.4 677.3L1455.0 677.3M1448.4 674.5L1448.4 677.3M1444.4 672.7L1444.4 675.9M1444.4 672.7L1446.6 672.7M1444.4 675.9L1448.4 675.9M1448.1 678.5L1455.0 678.5M1448.1 679.5L1455.0 679.5M1448.1 680.5L1455.0 680.5M1448.1 678.5L1448.1 680.5M1450.8 681.6L1455.0 681.6M1450.8 682.7L1455.0 682.7M1450.8 683.8L1455.0 683.8M1450.8 681.6L1450.8 683.8M1449.2 684.7L1455.0 684.7M1449.2 685.6L1455.0 685.6M1449.2 686.4L1455.0 686.4M1449.2 684.7L1449.2 686.4M1448.0 682.7L1448.0 685.6M1448.0 682.7L1450.8 682.7M1448.0 685.6L1449.2 685.6M1446.0 679.5L1446.0 684.1M1446.0 679.5L1448.1 679.5M1446.0 684.1L1448.0 684.1M1439.9 674.3L1439.9 681.8M1439.9 674.3L1444.4 674.3M1439.9 681.8L1446.0 681.8M1446.2 687.2L1455.0 687.2M1446.2 688.0L1455.0 688.0M1446.2 688.7L1455.0 688.7M1446.2 687.2L1446.2 688.7M1443.8 689.5L1455.0 689.5M1443.8 690.2L1455.0 690.2M1443.8 690.9L1455.0 690.9M1443.8 689.5L1443.8 690.9M1440.5 688.0L1440.5 690.2M1440.5 688.0L1446.2 688.0M1440.5 690.2L1443.8 690.2M1441.1 691.8L1455.0 691.8M1441.1 692.8L1455.0 692.8M1441.1 693.8L1455.0 693.8M1441.1 691.8L1441.1 693.8M1433.0 689.1L1433.0 692.8M1433.0 689.1L1440.5 689.1M1433.0 692.8L1441.1 692.8M1429.7 678.1L1429.7 691.0M1429.7 678.1L1439.9 678.1M1429.7 691.0L1433.0 691.0M1440.8 694.7L1455.0 694.7M1440.8 695.5L1455.0 695.5M1440.8 696.3L1455.0 696.3M1440.8 694.7L1440.8 696.3M1440.2 697.1L1455.0 697.1M1440.2 697.9L1455.0 697.9M1440.2 698.7L1455.0 698.7M1440.2 697.1L1440.2 698.7M1437.2 695.5L1437.2 697.9M1437.2 695.5L1440.8 695.5M1437.2 697.9L1440.2 697.9M1445.1 699.7L1455.0 699.7M1445.1 700.7L1455.0 700.7M1445.1 701.8L1455.0 701.8M1445.1 699.7L1445.1 701.8M1445.5 702.7L1455.0 702.7M1445.5 703.5L1455.0 703.5M1445.5 704.2L1455.0 704.2M1445.5 702.7L1445.5 704.2M1440.8 700.7L1440.8 703.5M1440.8 700.7L1445.1 700.7M1440.8 703.5L1445.5 703.5M1433.0 696.7L1433.0 702.1M1433.0 696.7L1437.2 696.7M1433.0 702.1L1440.8 702.1M1420.6 684.5L1420.6 699.4M1420.6 684.5L1429.7 684.5M1420.6 699.4L1433.0 699.4M1405.4 655.2L1405.4 692.0M1405.4 655.2L1413.8 655.2M1405.4 692.0L1420.6 692.0M1440.9 704.9L1455.0 704.9M1440.9 705.5L1455.0 705.5M1440.9 706.1L1455.0 706.1M1440.9 704.9L1440.9 706.1M1439.5 706.9L1455.0 706.9M1439.5 707.9L1455.0 707.9M1439.5 708.8L1455.0 708.8M1439.5 706.9L1439.5 708.8M1432.5 705.5L1432.5 707.9M1432.5 705.5L1440.9 705.5M1432.5 707.9L1439.5 707.9M1426.7 709.8L1455.0 709.8M1426.7 710.9L1455.0 710.9M1426.7 711.9L1455.0 711.9M1426.7 709.8L1426.7 711.9M1421.8 706.7L1421.8 710.9M1421.8 706.7L1432.5 706.7M1421.8 710.9L1426.7 710.9M1437.6 713.0L1455.0 713.0M1437.6 714.2L1455.0 714.2M1437.6 715.5L1455.0 715.5M1437.6 713.0L1437.6 715.5M1434.0 716.4L1455.0 716.4M1434.0 717.0L1455.0 717.0M1434.0 717.7L1455.0 717.7M1434.0 716.4L1434.0 717.7M1426.8 714.2L1426.8 717.0M1426.8 714.2L1437.6 714.2M1426.8 717.0L1434.0 717.0M1416.9 708.8L1416.9 715.6M1416.9 708.8L1421.8 708.8M1416.9 715.6L1426.8 715.6M1434.2 718.5L1455.0 718.5M1434.2 719.6L1455.0 719.6M1434.2 720.7L1455.0 720.7M1434.2 718.5L1434.2 720.7M1437.6 721.5L1455.0 721.5M1437.6 722.0L1455.0 722.0M1437.6 722.5L1455.0 722.5M1437.6 721.5L1437.6 722.5M1430.5 719.6L1430.5 722.0M1430.5 719.6L1434.2 719.6M1430.5 722.0L1437.6 722.0M1436.4 723.1L1455.0 723.1M1436.4 723.8L1455.0 723.8M1436.4 724.4L1455.0 724.4M1436.4 723.1L1436.4 724.4M1440.1 725.4L1455.0 725.4M1440.1 726.7L1455.0 726.7M1440.1 728.0L1455.0 728.0M1440.1 725.4L1440.1 728.0M1433.3 723.8L1433.3 726.7M1433.3 723.8L1436.4 723.8M1433.3 726.7L1440.1 726.7M1426.5 720.8L1426.5 725.2M1426.5 720.8L1430.5 720.8M1426.5 725.2L1433.3 725.2M1425.8 729.0L1455.0 729.0M1425.8 729.7L1455.0 729.7M1425.8 730.4L1455.0 730.4M1425.8 729.0L1425.8 730.4M1426.9 731.3L1455.0 731.3M1426.9 732.5L1455.0 732.5M1426.9 733.6L1455.0 733.6M1426.9 731.3L1426.9 733.6M1421.3 729.7L1421.3 732.5M1421.3 729.7L1425.8 729.7M1421.3 732.5L1426.9 732.5M1411.8 723.0L1411.8 731.1M1411.8 723.0L1426.5 723.0M1411.8 731.1L1421.3 731.1M1403.1 712.2L1403.1 727.1M1403.1 712.2L1416.9 712.2M1403.1 727.1L1411.8 727.1M1394.1 673.6L1394.1 719.6M1394.1 673.6L1405.4 673.6M1394.1 719.6L1403.1 719.6M1443.4 734.5L1455.0 734.5M1443.4 735.4L1455.0 735.4M1443.4 736.2L1455.0 736.2M1443.4 734.5L1443.4 736.2M1443.0 737.4L1455.0 737.4M1443.0 738.8L1455.0 738.8M1443.0 740.2L1455.0 740.2M1443.0 737.4L1443.0 740.2M1440.9 735.4L1440.9 738.8M1440.9 735.4L1443.4 735.4M1440.9 738.8L1443.0 738.8M1441.7 741.6L1455.0 741.6M1441.7 742.8L1455.0 742.8M1441.7 744.0L1455.0 744.0M1441.7 741.6L1441.7 744.0M1441.3 744.9L1455.0 744.9M1441.3 745.7L1455.0 745.7M1441.3 746.4L1455.0 746.4M1441.3 744.9L1441.3 746.4M1439.3 742.8L1439.3 745.7M1439.3 742.8L1441.7 742.8M1439.3 745.7L1441.3 745.7M1433.1 737.1L1433.1 744.2M1433.1 737.1L1440.9 737.1M1433.1 744.2L1439.3 744.2M1443.6 747.2L1455.0 747.2M1443.6 748.0L1455.0 748.0M1443.6 748.9L1455.0 748.9M1443.6 747.2L1443.6 748.9M1446.3 749.9L1455.0 749.9M1446.3 751.0L1455.0 751.0M1446.3 752.1L1455.0 752.1M1446.3 749.9L1446.3 752.1M1446.4 753.0L1455.0 753.0M1446.4 753.6L1455.0 753.6M1446.4 754.2L1455.0 754.2M1446.4 753.0L1446.4 754.2M1442.5 751.0L1442.5 753.6M1442.5 751.0L1446.3 751.0M1442.5 753.6L1446.4 753.6M1439.7 748.0L1439.7 752.3M1439.7 748.0L1443.6 748.0M1439.7 752.3L1442.5 752.3M1443.5 755.2L1455.0 755.2M1443.5 756.3L1455.0 756.3M1443.5 757.5L1455.0 757.5M1443.5 755.2L1443.5 757.5M1436.3 750.2L1436.3 756.3M1436.3 750.2L1439.7 750.2M1436.3 756.3L1443.5 756.3M1426.0 740.7L1426.0 753.3M1426.0 740.7L1433.1 740.7M1426.0 753.3L1436.3 753.3M1445.7 758.6L1455.0 758.6M1445.7 759.6L1455.0 759.6M1445.7 760.6L1455.0 760.6M1445.7 758.6L1445.7 760.6M1446.8 761.6L1455.0 761.6M1446.8 762.5L1455.0 762.5M1446.8 763.4L1455.0 763.4M1446.8 761.6L1446.8 763.4M1447.6 764.2L1455.0 764.2M1447.6 764.9L1455.0 764.9M1447.6 765.5L1455.0 765.5M1447.6 764.2L1447.6 765.5M1445.4 762.5L1445.4 764.9M1445.4 762.5L1446.8 762.5M1445.4 764.9L1447.6 764.9M1442.0 759.6L1442.0 763.7M1442.0 759.6L1445.7 759.6M1442.0 763.7L1445.4 763.7M1443.3 766.6L1455.0 766.6M1443.3 768.1L1455.0 768.1M1443.3 769.6L1455.0 769.6M1443.3 766.6L1443.3 769.6M1436.5 761.7L1436.5 768.1M1436.5 761.7L1442.0 761.7M1436.5 768.1L1443.3 768.1M1441.5 770.8L1455.0 770.8M1441.5 771.8L1455.0 771.8M1441.5 772.9L1455.0 772.9M1441.5 770.8L1441.5 772.9M1442.7 773.7L1455.0 773.7M1442.7 774.4L1455.0 774.4M1442.7 775.1L1455.0 775.1M1442.7 773.7L1442.7 775.1M1437.0 771.8L1437.0 774.4M1437.0 771.8L1441.5 771.8M1437.0 774.4L1442.7 774.4M1442.8 775.9L1455.0 775.9M1442.8 776.9L1455.0 776.9M1442.8 777.8L1455.0 777.8M1442.8 775.9L1442.8 777.8M1443.4 778.7L1455.0 778.7M1443.4 779.5L1455.0 779.5M1443.4 780.3L1455.0 780.3M1443.4 778.7L1443.4 780.3M1440.0 776.9L1440.0 779.5M1440.0 776.9L1442.8 776.9M1440.0 779.5L1443.4 779.5M1434.1 773.1L1434.1 778.2M1434.1 773.1L1437.0 773.1M1434.1 778.2L1440.0 778.2M1430.3 764.9L1430.3 775.6M1430.3 764.9L1436.5 764.9M1430.3 775.6L1434.1 775.6M1435.3 781.2L1455.0 781.2M1435.3 782.4L1455.0 782.4M1435.3 783.5L1455.0 783.5M1435.3 781.2L1435.3 783.5M1445.7 784.6L1455.0 784.6M1445.7 785.7L1455.0 785.7M1445.7 786.8L1455.0 786.8M1445.7 784.6L1445.7 786.8M1447.0 787.5L1455.0 787.5M1447.0 788.0L1455.0 788.0M1447.0 788.5L1455.0 788.5M1447.0 787.5L1447.0 788.5M1441.7 785.7L1441.7 788.0M1441.7 785.7L1445.7 785.7M1441.7 788.0L1447.0 788.0M1442.6 789.1L1455.0 789.1M1442.6 789.8L1455.0 789.8M1442.6 790.6L1455.0 790.6M1442.6 789.1L1442.6 790.6M1434.9 786.9L1434.9 789.8M1434.9 786.9L1441.7 786.9M1434.9 789.8L1442.6 789.8M1430.8 782.4L1430.8 788.3M1430.8 782.4L1435.3 782.4M1430.8 788.3L1434.9 788.3M1431.7 791.7L1455.0 791.7M1431.7 793.2L1455.0 793.2M1431.7 794.7L1455.0 794.7M1431.7 791.7L1431.7 794.7M1424.0 785.4L1424.0 793.2M1424.0 785.4L1430.8 785.4M1424.0 793.2L1431.7 793.2M1415.0 770.3L1415.0 789.3M1415.0 770.3L1430.3 770.3M1415.0 789.3L1424.0 789.3M1405.9 747.0L1405.9 779.8M1405.9 747.0L1426.0 747.0M1405.9 779.8L1415.0 779.8M1441.0 795.8L1455.0 795.8M1441.0 796.7L1455.0 796.7M1441.0 797.5L1455.0 797.5M1441.0 795.8L1441.0 797.5M1444.1 798.6L1455.0 798.6M1444.1 800.0L1455.0 800.0M1444.1 801.4L1455.0 801.4M1444.1 798.6L1444.1 801.4M1438.5 796.7L1438.5 800.0M1438.5 796.7L1441.0 796.7M1438.5 800.0L1444.1 800.0M1442.5 802.7L1455.0 802.7M1442.5 803.8L1455.0 803.8M1442.5 804.9L1455.0 804.9M1442.5 802.7L1442.5 804.9M1434.2 798.3L1434.2 803.8M1434.2 798.3L1438.5 798.3M1434.2 803.8L1442.5 803.8M1443.5 805.9L1455.0 805.9M1443.5 806.8L1455.0 806.8M1443.5 807.7L1455.0 807.7M1443.5 805.9L1443.5 807.7M1444.0 808.8L1455.0 808.8M1444.0 810.1L1455.0 810.1M1444.0 811.3L1455.0 811.3M1444.0 808.8L1444.0 811.3M1439.1 806.8L1439.1 810.1M1439.1 806.8L1443.5 806.8M1439.1 810.1L1444.0 810.1M1427.5 801.1L1427.5 808.4M1427.5 801.1L1434.2 801.1M1427.5 808.4L1439.1 808.4M1432.8 812.4L1455.0 812.4M1432.8 813.3L1455.0 813.3M1432.8 814.2L1455.0 814.2M1432.8 812.4L1432.8 814.2M1434.0 815.1L1455.0 815.1M1434.0 816.0L1455.0 816.0M1434.0 816.9L1455.0 816.9M1434.0 815.1L1434.0 816.9M1437.2 817.9L1455.0 817.9M1437.2 818.9L1455.0 818.9M1437.2 819.9L1455.0 819.9M1437.2 817.9L1437.2 819.9M1428.0 816.0L1428.0 818.9M1428.0 816.0L1434.0 816.0M1428.0 818.9L1437.2 818.9M1421.1 813.3L1421.1 817.4M1421.1 813.3L1432.8 813.3M1421.1 817.4L1428.0 817.4M1408.9 804.8L1408.9 815.3M1408.9 804.8L1427.5 804.8M1408.9 815.3L1421.1 815.3M1440.8 820.8L1455.0 820.8M1440.8 821.5L1455.0 821.5M1440.8 822.2L1455.0 822.2M1440.8 820.8L1440.8 822.2M1440.3 823.2L1455.0 823.2M1440.3 824.4L1455.0 824.4M1440.3 825.7L1455.0 825.7M1440.3 823.2L1440.3 825.7M1433.1 821.5L1433.1 824.4M1433.1 821.5L1440.8 821.5M1433.1 824.4L1440.3 824.4M1442.9 826.8L1455.0 826.8M1442.9 827.6L1455.0 827.6M1442.9 828.4L1455.0 828.4M1442.9 826.8L1442.9 828.4M1443.6 829.4L1455.0 829.4M1443.6 830.4L1455.0 830.4M1443.6 831.5L1455.0 831.5M1443.6 829.4L1443.6 831.5M1440.5 827.6L1440.5 830.4M1440.5 827.6L1442.9 827.6M1440.5 830.4L1443.6 830.4M1439.7 832.4L1455.0 832.4M1439.7 833.3L1455.0 833.3M1439.7 834.1L1455.0 834.1M1439.7 832.4L1439.7 834.1M1430.2 829.0L1430.2 833.3M1430.2 829.0L1440.5 829.0M1430.2 833.3L1439.7 833.3M1426.1 823.0L1426.1 831.1M1426.1 823.0L1433.1 823.0M1426.1 831.1L1430.2 831.1M1441.1 834.9L1455.0 834.9M1441.1 835.5L1455.0 835.5M1441.1 836.2L1455.0 836.2M1441.1 834.9L1441.1 836.2M1437.3 837.0L1455.0 837.0M1437.3 837.8L1455.0 837.8M1437.3 838.7L1455.0 838.7M1437.3 837.0L1437.3 838.7M1432.7 835.5L1432.7 837.8M1432.7 835.5L1441.1 835.5M1432.7 837.8L1437.3 837.8M1441.4 839.5L1455.0 839.5M1441.4 840.3L1455.0 840.3M1441.4 841.1L1455.0 841.1M1441.4 839.5L1441.4 841.1M1440.9 841.9L1455.0 841.9M1440.9 842.7L1455.0 842.7M1440.9 843.6L1455.0 843.6M1440.9 841.9L1440.9 843.6M1432.8 840.3L1432.8 842.7M1432.8 840.3L1441.4 840.3M1432.8 842.7L1440.9 842.7M1424.1 836.7L1424.1 841.5M1424.1 836.7L1432.7 836.7M1424.1 841.5L1432.8 841.5M1418.6 827.0L1418.6 839.1M1418.6 827.0L1426.1 827.0M1418.6 839.1L1424.1 839.1M1393.9 810.1L1393.9 833.1M1393.9 810.1L1408.9 810.1M1393.9 833.1L1418.6 833.1M1385.2 763.4L1385.2 821.6M1385.2 763.4L1405.9 763.4M1385.2 821.6L1393.9 821.6M1375.0 696.6L1375.0 792.5M1375.0 696.6L1394.1 696.6M1375.0 792.5L1385.2 792.5M1359.8 568.5L1359.8 744.5M1359.8 568.5L1381.0 568.5M1359.8 744.5L1375.0 744.5M1344.3 170.9L1344.3 656.5M1344.3 170.9L1361.0 170.9M1344.3 656.5L1359.8 656.5" stroke="#000" stroke-width="1.6" fill="none"/>
<rect x="1441.0" y="2.0" width="14.5" height="842.0" fill="#000"/>
<text x="1474.2" y="851" font-size="23" text-anchor="end" transform="rotate(-90 1474.2 851)" textLength="101.7" lengthAdjust="spacingAndGlyphs" xml:space="preserve" fill="#e0141e">Apoptosis</text>
<text x="1500.5" y="851" font-size="23" text-anchor="end" transform="rotate(-90 1500.5 851)" textLength="133.6" lengthAdjust="spacingAndGlyphs" xml:space="preserve">P53  pathway</text>
<text x="1526.5" y="851" font-size="23" text-anchor="end" transform="rotate(-90 1526.5 851)" textLength="270" lengthAdjust="spacingAndGlyphs" xml:space="preserve">IL-6-JAK-STAT3 signaling</text>
<text x="1553.2" y="851" font-size="23" text-anchor="end" transform="rotate(-90 1553.2 851)" textLength="80" lengthAdjust="spacingAndGlyphs" xml:space="preserve">Hypoxia</text>
<text x="1576.0" y="851" font-size="23" text-anchor="end" transform="rotate(-90 1576.0 851)" textLength="179" lengthAdjust="spacingAndGlyphs" xml:space="preserve">Allograft  rejection</text>
<text x="1602.6" y="851" font-size="23" text-anchor="end" transform="rotate(-90 1602.6 851)" textLength="217" lengthAdjust="spacingAndGlyphs" xml:space="preserve">IL-2 STAT5 signaling</text>
<text x="1627.4" y="851" font-size="23" text-anchor="end" transform="rotate(-90 1627.4 851)" textLength="236" lengthAdjust="spacingAndGlyphs" xml:space="preserve">Inflammatory response</text>
<text x="1655.0" y="851" font-size="23" text-anchor="end" transform="rotate(-90 1655.0 851)" textLength="276" lengthAdjust="spacingAndGlyphs" xml:space="preserve">TNF-α signaling via KF-κB</text>
<text x="1678.7" y="851" font-size="23" text-anchor="end" transform="rotate(-90 1678.7 851)" textLength="222" lengthAdjust="spacingAndGlyphs" xml:space="preserve">Interferon-α response</text>
<text x="1704.4" y="851" font-size="23" text-anchor="end" transform="rotate(-90 1704.4 851)" textLength="221" lengthAdjust="spacingAndGlyphs" xml:space="preserve">Interferon-γ response</text>
<line x1="1716.5" y1="863.4" x2="1908.6" y2="863.4" stroke="#000" stroke-width="3"/>
<line x1="1918.2" y1="863.4" x2="2109.1" y2="863.4" stroke="#000" stroke-width="3"/>
<text x="1828.0" y="885.0" font-size="30" text-anchor="end" transform="rotate(-45 1828.0 885.0)">Uninfected</text>
<text x="2030.0" y="885.0" font-size="30" text-anchor="end" transform="rotate(-45 2030.0 885.0)">Infected</text>
<rect x="1774.1" y="1000.0" width="4.3" height="18.5" fill="#4878b6"/>
<rect x="1777.9" y="1000.0" width="4.3" height="18.5" fill="#4f7eb9"/>
<rect x="1781.7" y="1000.0" width="4.3" height="18.5" fill="#5684bd"/>
<rect x="1785.6" y="1000.0" width="4.3" height="18.5" fill="#5d8ac1"/>
<rect x="1789.4" y="1000.0" width="4.3" height="18.5" fill="#6491c4"/>
<rect x="1793.2" y="1000.0" width="4.3" height="18.5" fill="#6a97c8"/>
<rect x="1797.0" y="1000.0" width="4.3" height="18.5" fill="#719dcb"/>
<rect x="1800.9" y="1000.0" width="4.3" height="18.5" fill="#78a3cf"/>
<rect x="1804.7" y="1000.0" width="4.3" height="18.5" fill="#7fa8d2"/>
<rect x="1808.5" y="1000.0" width="4.3" height="18.5" fill="#86aed5"/>
<rect x="1812.3" y="1000.0" width="4.3" height="18.5" fill="#8db3d7"/>
<rect x="1816.2" y="1000.0" width="4.3" height="18.5" fill="#94b8da"/>
<rect x="1820.0" y="1000.0" width="4.3" height="18.5" fill="#9bbedd"/>
<rect x="1823.8" y="1000.0" width="4.3" height="18.5" fill="#a2c3e0"/>
<rect x="1827.6" y="1000.0" width="4.3" height="18.5" fill="#a9c8e3"/>
<rect x="1831.4" y="1000.0" width="4.3" height="18.5" fill="#afcde5"/>
<rect x="1835.3" y="1000.0" width="4.3" height="18.5" fill="#b4d0e7"/>
<rect x="1839.1" y="1000.0" width="4.3" height="18.5" fill="#b9d4e9"/>
<rect x="1842.9" y="1000.0" width="4.3" height="18.5" fill="#bfd8eb"/>
<rect x="1846.7" y="1000.0" width="4.3" height="18.5" fill="#c4dbec"/>
<rect x="1850.6" y="1000.0" width="4.3" height="18.5" fill="#c9dfee"/>
<rect x="1854.4" y="1000.0" width="4.3" height="18.5" fill="#cfe2f0"/>
<rect x="1858.2" y="1000.0" width="4.3" height="18.5" fill="#d4e6f2"/>
<rect x="1862.0" y="1000.0" width="4.3" height="18.5" fill="#d8e9f2"/>
<rect x="1865.9" y="1000.0" width="4.3" height="18.5" fill="#ddebf1"/>
<rect x="1869.7" y="1000.0" width="4.3" height="18.5" fill="#e1eef1"/>
<rect x="1873.5" y="1000.0" width="4.3" height="18.5" fill="#e6f1f0"/>
<rect x="1877.3" y="1000.0" width="4.3" height="18.5" fill="#eaf3f0"/>
<rect x="1881.2" y="1000.0" width="4.3" height="18.5" fill="#f0f6e6"/>
<rect x="1885.0" y="1000.0" width="4.3" height="18.5" fill="#f7f9d9"/>
<rect x="1888.8" y="1000.0" width="4.3" height="18.5" fill="#faf8ce"/>
<rect x="1892.6" y="1000.0" width="4.3" height="18.5" fill="#fbf5c6"/>
<rect x="1896.4" y="1000.0" width="4.3" height="18.5" fill="#fbf1be"/>
<rect x="1900.3" y="1000.0" width="4.3" height="18.5" fill="#fceeb6"/>
<rect x="1904.1" y="1000.0" width="4.3" height="18.5" fill="#fceaae"/>
<rect x="1907.9" y="1000.0" width="4.3" height="18.5" fill="#fde7a6"/>
<rect x="1911.7" y="1000.0" width="4.3" height="18.5" fill="#fde39e"/>
<rect x="1915.6" y="1000.0" width="4.3" height="18.5" fill="#fee096"/>
<rect x="1919.4" y="1000.0" width="4.3" height="18.5" fill="#fed98f"/>
<rect x="1923.2" y="1000.0" width="4.3" height="18.5" fill="#fed389"/>
<rect x="1927.0" y="1000.0" width="4.3" height="18.5" fill="#fecc82"/>
<rect x="1930.9" y="1000.0" width="4.3" height="18.5" fill="#fdc57b"/>
<rect x="1934.7" y="1000.0" width="4.3" height="18.5" fill="#fdbf75"/>
<rect x="1938.5" y="1000.0" width="4.3" height="18.5" fill="#fdb86e"/>
<rect x="1942.3" y="1000.0" width="4.3" height="18.5" fill="#fdb167"/>
<rect x="1946.2" y="1000.0" width="4.3" height="18.5" fill="#fcaa62"/>
<rect x="1950.0" y="1000.0" width="4.3" height="18.5" fill="#fba25e"/>
<rect x="1953.8" y="1000.0" width="4.3" height="18.5" fill="#fa995a"/>
<rect x="1957.6" y="1000.0" width="4.3" height="18.5" fill="#f99156"/>
<rect x="1961.4" y="1000.0" width="4.3" height="18.5" fill="#f88952"/>
<rect x="1965.3" y="1000.0" width="4.3" height="18.5" fill="#f6814e"/>
<rect x="1969.1" y="1000.0" width="4.3" height="18.5" fill="#f5784a"/>
<rect x="1972.9" y="1000.0" width="4.3" height="18.5" fill="#f47046"/>
<rect x="1976.7" y="1000.0" width="4.3" height="18.5" fill="#f06742"/>
<rect x="1980.6" y="1000.0" width="4.3" height="18.5" fill="#ec5f3e"/>
<rect x="1984.4" y="1000.0" width="4.3" height="18.5" fill="#e8563a"/>
<rect x="1988.2" y="1000.0" width="4.3" height="18.5" fill="#e54e35"/>
<rect x="1992.0" y="1000.0" width="4.3" height="18.5" fill="#e14531"/>
<rect x="1995.9" y="1000.0" width="4.3" height="18.5" fill="#dd3d2d"/>
<rect x="1999.7" y="1000.0" width="4.3" height="18.5" fill="#d93429"/>
<text x="1773.5" y="1046.3" font-size="29.5" text-anchor="middle">-2</text>
<text x="1828.0" y="1046.3" font-size="29.5" text-anchor="middle">-1</text>
<text x="1888.4" y="1046.3" font-size="29.5" text-anchor="middle">0</text>
<text x="1945.0" y="1046.3" font-size="29.5" text-anchor="middle">1</text>
<text x="2001.7" y="1046.3" font-size="29.5" text-anchor="middle">2</text>
<text x="1.0" y="598.0" font-size="30" font-weight="bold">d</text>
<line x1="112.8" y1="622.8" x2="112.8" y2="900.2" stroke="#000" stroke-width="2"/>
<line x1="111.8" y1="899.4" x2="530.0" y2="899.4" stroke="#000" stroke-width="2"/>
<line x1="105.8" y1="899.4" x2="112.8" y2="899.4" stroke="#000" stroke-width="2"/>
<text x="101.0" y="910.2" font-size="30" text-anchor="end">60</text>
<line x1="105.8" y1="844.1" x2="112.8" y2="844.1" stroke="#000" stroke-width="2"/>
<text x="101.0" y="854.9" font-size="30" text-anchor="end">70</text>
<line x1="105.8" y1="788.8" x2="112.8" y2="788.8" stroke="#000" stroke-width="2"/>
<text x="101.0" y="799.6" font-size="30" text-anchor="end">80</text>
<line x1="105.8" y1="733.4" x2="112.8" y2="733.4" stroke="#000" stroke-width="2"/>
<text x="101.0" y="744.2" font-size="30" text-anchor="end">90</text>
<line x1="105.8" y1="678.1" x2="112.8" y2="678.1" stroke="#000" stroke-width="2"/>
<text x="101.0" y="688.9" font-size="30" text-anchor="end">100</text>
<line x1="105.8" y1="622.8" x2="112.8" y2="622.8" stroke="#000" stroke-width="2"/>
<text x="101.0" y="633.6" font-size="30" text-anchor="end">110</text>
<line x1="112.8" y1="899.4" x2="112.8" y2="906.4" stroke="#000" stroke-width="2"/>
<text x="112.8" y="936.0" font-size="30" text-anchor="middle">0</text>
<line x1="205.5" y1="899.4" x2="205.5" y2="906.4" stroke="#000" stroke-width="2"/>
<text x="205.5" y="936.0" font-size="30" text-anchor="middle">2</text>
<line x1="298.2" y1="899.4" x2="298.2" y2="906.4" stroke="#000" stroke-width="2"/>
<text x="298.2" y="936.0" font-size="30" text-anchor="middle">4</text>
<line x1="390.9" y1="899.4" x2="390.9" y2="906.4" stroke="#000" stroke-width="2"/>
<text x="390.9" y="936.0" font-size="30" text-anchor="middle">6</text>
<line x1="483.6" y1="899.4" x2="483.6" y2="906.4" stroke="#000" stroke-width="2"/>
<text x="483.6" y="936.0" font-size="30" text-anchor="middle">8</text>
<text x="321.0" y="972.7" font-size="29.7" text-anchor="middle">Days post-infection</text>
<text x="43.0" y="760.8" font-size="29.8" text-anchor="middle" transform="rotate(-90 43.0 760.8)">Body weight (%)</text>
<line x1="112.8" y1="660.0" x2="434.3" y2="753.1" stroke="#999" stroke-width="1.7" stroke-dasharray="3.5 3"/>
<line x1="112.8" y1="665.5" x2="441.0" y2="786.3" stroke="#000" stroke-width="1.7" stroke-dasharray="3.5 3"/>
<line x1="251.9" y1="676.5" x2="251.9" y2="686.4" stroke="#8c8c8c" stroke-width="2.4"/>
<line x1="246.9" y1="676.5" x2="256.9" y2="676.5" stroke="#8c8c8c" stroke-width="2.6"/>
<line x1="246.9" y1="686.4" x2="256.9" y2="686.4" stroke="#8c8c8c" stroke-width="2.6"/>
<line x1="390.9" y1="742.3" x2="390.9" y2="755.6" stroke="#8c8c8c" stroke-width="2.4"/>
<line x1="385.9" y1="742.3" x2="395.9" y2="742.3" stroke="#8c8c8c" stroke-width="2.6"/>
<line x1="385.9" y1="755.6" x2="395.9" y2="755.6" stroke="#8c8c8c" stroke-width="2.6"/>
<line x1="437.2" y1="770.0" x2="437.2" y2="785.4" stroke="#8c8c8c" stroke-width="2.4"/>
<line x1="432.2" y1="770.0" x2="442.2" y2="770.0" stroke="#8c8c8c" stroke-width="2.6"/>
<line x1="432.2" y1="785.4" x2="442.2" y2="785.4" stroke="#8c8c8c" stroke-width="2.6"/>
<line x1="298.2" y1="721.8" x2="298.2" y2="734.0" stroke="#000" stroke-width="2.4"/>
<line x1="293.2" y1="721.8" x2="303.2" y2="721.8" stroke="#000" stroke-width="2.6"/>
<line x1="293.2" y1="734.0" x2="303.2" y2="734.0" stroke="#000" stroke-width="2.6"/>
<line x1="344.6" y1="750.0" x2="344.6" y2="766.6" stroke="#000" stroke-width="2.4"/>
<line x1="339.6" y1="750.0" x2="349.6" y2="750.0" stroke="#000" stroke-width="2.6"/>
<line x1="339.6" y1="766.6" x2="349.6" y2="766.6" stroke="#000" stroke-width="2.6"/>
<line x1="390.9" y1="770.0" x2="390.9" y2="787.7" stroke="#000" stroke-width="2.4"/>
<line x1="385.9" y1="770.0" x2="395.9" y2="770.0" stroke="#000" stroke-width="2.6"/>
<line x1="385.9" y1="787.7" x2="395.9" y2="787.7" stroke="#000" stroke-width="2.6"/>
<line x1="437.2" y1="784.9" x2="437.2" y2="804.8" stroke="#000" stroke-width="2.4"/>
<line x1="432.2" y1="784.9" x2="442.2" y2="784.9" stroke="#000" stroke-width="2.6"/>
<line x1="432.2" y1="804.8" x2="442.2" y2="804.8" stroke="#000" stroke-width="2.6"/>
<path d="M112.8 678.1 L159.2 687.0 L205.5 687.5 L251.9 705.8 L298.2 727.9 L344.6 758.3 L390.9 778.8 L437.2 794.8" stroke="#000" stroke-width="3" fill="none"/>
<path d="M112.8 678.1 L159.2 683.7 L205.5 674.8 L251.9 681.4 L298.2 694.2 L344.6 714.1 L390.9 748.9 L437.2 777.7" stroke="#8c8c8c" stroke-width="3" fill="none"/>
<circle cx="112.8" cy="678.1" r="4.6" fill="#fff" stroke="#000" stroke-width="2.8"/>
<circle cx="159.2" cy="687.0" r="4.6" fill="#fff" stroke="#000" stroke-width="2.8"/>
<circle cx="205.5" cy="687.5" r="4.6" fill="#fff" stroke="#000" stroke-width="2.8"/>
<circle cx="251.9" cy="705.8" r="4.6" fill="#fff" stroke="#000" stroke-width="2.8"/>
<circle cx="298.2" cy="727.9" r="4.6" fill="#fff" stroke="#000" stroke-width="2.8"/>
<circle cx="344.6" cy="758.3" r="4.6" fill="#fff" stroke="#000" stroke-width="2.8"/>
<circle cx="390.9" cy="778.8" r="4.6" fill="#fff" stroke="#000" stroke-width="2.8"/>
<circle cx="437.2" cy="794.8" r="4.6" fill="#fff" stroke="#000" stroke-width="2.8"/>
<path d="M106.1 683.1 L112.8 671.6 L119.5 683.1Z" fill="#8c8c8c"/>
<path d="M152.5 688.7 L159.2 677.2 L165.8 688.7Z" fill="#8c8c8c"/>
<path d="M198.8 679.8 L205.5 668.3 L212.2 679.8Z" fill="#8c8c8c"/>
<path d="M245.2 686.4 L251.9 674.9 L258.6 686.4Z" fill="#8c8c8c"/>
<path d="M291.5 699.2 L298.2 687.7 L304.9 699.2Z" fill="#8c8c8c"/>
<path d="M337.9 719.1 L344.6 707.6 L351.2 719.1Z" fill="#8c8c8c"/>
<path d="M384.2 753.9 L390.9 742.4 L397.6 753.9Z" fill="#8c8c8c"/>
<path d="M430.6 782.7 L437.2 771.2 L443.9 782.7Z" fill="#8c8c8c"/>
<line x1="122.7" y1="837.9" x2="153.0" y2="837.9" stroke="#000" stroke-width="3"/>
<circle cx="137.8" cy="837.9" r="4.6" fill="#fff" stroke="#000" stroke-width="2.8"/>
<text x="160.7" y="845.0" font-size="30" font-style="italic">Rorc<tspan font-size="19.5" dy="-12">gfp/+</tspan><tspan dy="12">Rag1</tspan><tspan font-size="19.5" dy="-12">–/–</tspan></text>
<line x1="122.7" y1="869.0" x2="153.0" y2="869.0" stroke="#8c8c8c" stroke-width="3"/>
<path d="M131.1 874 L137.8 862.5 L144.5 874Z" fill="#8c8c8c"/>
<text x="160.7" y="877.0" font-size="30" font-style="italic">Rorc<tspan font-size="19.5" dy="-12">gfp/gfp</tspan><tspan dy="12">Rag1</tspan><tspan font-size="19.5" dy="-12">–/–</tspan></text>
<line x1="125.4" y1="1002.6" x2="175.5" y2="1002.6" stroke="#000" stroke-width="2.3" stroke-dasharray="12 7"/>
<text x="191.6" y="1015.4" font-size="29.6">95% confidence interval</text>
<text x="191.6" y="1050.7" font-size="29.6">of linear regression</text>
<text x="133.8" y="1086.0" font-size="29.6">Slopes are different <tspan font-size="23">(<tspan font-style="italic">P</tspan> = 0.0122)</tspan></text>
<text x="611.0" y="598.0" font-size="30" font-weight="bold">f</text>
<line x1="700.2" y1="584.5" x2="1235.0" y2="584.5" stroke="#000" stroke-width="3"/>
<line x1="700.2" y1="634.0" x2="1235.0" y2="634.0" stroke="#000" stroke-width="3"/>
<line x1="700.2" y1="1072.4" x2="1235.0" y2="1072.4" stroke="#000" stroke-width="3"/>
<text x="703.0" y="622.2" font-size="29.2" font-weight="bold">Gene Set Name</text>
<text x="1233.5" y="622.2" font-size="29.2" text-anchor="end" font-weight="bold">q-value</text>
<text x="703.0" y="666.9" font-size="29.2">Interferon-γ response</text>
<text x="1233.5" y="666.9" font-size="29.2" text-anchor="end">4.73E-97</text>
<text x="703.0" y="711.1" font-size="29.2">Interferon-α response</text>
<text x="1233.5" y="711.1" font-size="29.2" text-anchor="end">1.05E-66</text>
<text x="703.0" y="755.4" font-size="29.2">TNF-α signaling via NF-κB</text>
<text x="1233.5" y="755.4" font-size="29.2" text-anchor="end">3.20E-56</text>
<text x="703.0" y="799.6" font-size="29.2">Inflammatory response</text>
<text x="1233.5" y="799.6" font-size="29.2" text-anchor="end">5.03E-37</text>
<text x="703.0" y="843.9" font-size="29.2">IL2-STAT5 signaling</text>
<text x="1233.5" y="843.9" font-size="29.2" text-anchor="end">7.76E-33</text>
<text x="703.0" y="888.1" font-size="29.2">Allograft rejection</text>
<text x="1233.5" y="888.1" font-size="29.2" text-anchor="end">1.29E-29</text>
<text x="703.0" y="932.4" font-size="29.2">Hypoxia</text>
<text x="1233.5" y="932.4" font-size="29.2" text-anchor="end">1.20E-28</text>
<text x="703.0" y="976.6" font-size="29.2">IL6-JAK-STAT3 signaling</text>
<text x="1233.5" y="976.6" font-size="29.2" text-anchor="end">9.03E-26</text>
<text x="703.0" y="1020.9" font-size="29.2">P53 pathway</text>
<text x="1233.5" y="1020.9" font-size="29.2" text-anchor="end">8.54E-23</text>
<text x="703.0" y="1065.2" font-size="29.2" fill="#e0141e">Apoptosis</text>
<text x="1233.5" y="1065.2" font-size="29.2" text-anchor="end" fill="#e0141e">1.19E-20</text>
<text x="1.0" y="1160.0" font-size="30" font-weight="bold">g</text>
<text x="264.4" y="1210.0" font-size="29.3" text-anchor="middle" font-weight="bold">Apoptosis</text>
<line x1="120.5" y1="1232.0" x2="120.5" y2="1412.7" stroke="#e4e4e4" stroke-width="1"/>
<line x1="161.6" y1="1232.0" x2="161.6" y2="1412.7" stroke="#e4e4e4" stroke-width="1"/>
<line x1="203.3" y1="1232.0" x2="203.3" y2="1412.7" stroke="#e4e4e4" stroke-width="1"/>
<line x1="244.4" y1="1232.0" x2="244.4" y2="1412.7" stroke="#e4e4e4" stroke-width="1"/>
<line x1="285.8" y1="1232.0" x2="285.8" y2="1412.7" stroke="#e4e4e4" stroke-width="1"/>
<line x1="327.5" y1="1232.0" x2="327.5" y2="1412.7" stroke="#e4e4e4" stroke-width="1"/>
<line x1="368.6" y1="1232.0" x2="368.6" y2="1412.7" stroke="#e4e4e4" stroke-width="1"/>
<line x1="409.7" y1="1232.0" x2="409.7" y2="1412.7" stroke="#e4e4e4" stroke-width="1"/>
<line x1="450.8" y1="1232.0" x2="450.8" y2="1412.7" stroke="#e4e4e4" stroke-width="1"/>
<line x1="78.8" y1="1251.1" x2="458.5" y2="1251.1" stroke="#e4e4e4" stroke-width="1"/>
<line x1="78.8" y1="1280.0" x2="458.5" y2="1280.0" stroke="#e4e4e4" stroke-width="1"/>
<line x1="78.8" y1="1308.9" x2="458.5" y2="1308.9" stroke="#e4e4e4" stroke-width="1"/>
<line x1="78.8" y1="1366.7" x2="458.5" y2="1366.7" stroke="#e4e4e4" stroke-width="1"/>
<line x1="78.8" y1="1395.6" x2="458.5" y2="1395.6" stroke="#e4e4e4" stroke-width="1"/>
<line x1="78.8" y1="1337.8" x2="458.5" y2="1337.8" stroke="#b8b8b8" stroke-width="1.5"/>
<rect x="78.8" y="1232.0" width="379.7" height="255.8" fill="none" stroke="#c4c4c4" stroke-width="1.5"/>
<line x1="78.8" y1="1412.7" x2="458.5" y2="1412.7" stroke="#c4c4c4" stroke-width="1.5"/>
<line x1="78.8" y1="1472.5" x2="458.5" y2="1472.5" stroke="#c4c4c4" stroke-width="1.5"/>
<text x="71.0" y="1258.4" font-size="21.5" text-anchor="end">0.3</text>
<text x="71.0" y="1287.3" font-size="21.5" text-anchor="end">0.2</text>
<text x="71.0" y="1316.2" font-size="21.5" text-anchor="end">0.1</text>
<text x="71.0" y="1345.1" font-size="21.5" text-anchor="end">0</text>
<text x="71.0" y="1374.0" font-size="21.5" text-anchor="end">-0.1</text>
<text x="71.0" y="1402.9" font-size="21.5" text-anchor="end">-0.2</text>
<path d="M78.8 1337.8 L80.0 1322.8 L81.4 1311.5 L82.8 1300.1 L83.9 1288.8 L84.8 1278.9 L86.5 1279.7 L88.5 1281.7 L90.2 1283.1 L91.3 1273.2 L93.6 1268.9 L96.4 1266.1 L97.8 1259.0 L100.7 1256.2 L102.6 1250.5 L105.5 1247.7 L109.2 1245.7 L112.0 1249.1 L114.8 1240.0 L119.1 1243.4 L123.3 1242.0 L127.6 1244.8 L131.8 1246.2 L136.1 1245.7 L140.3 1247.7 L143.2 1246.2 L147.4 1244.0 L153.1 1245.7 L158.8 1249.1 L170.1 1254.8 L184.3 1262.7 L198.5 1271.8 L212.6 1282.0 L226.8 1293.0 L241.0 1304.1 L255.2 1315.7 L269.4 1327.6 L280.7 1337.8 L297.7 1351.2 L311.9 1361.1 L326.1 1369.6 L340.2 1378.1 L348.7 1383.2 L357.2 1385.2 L368.6 1390.3 L379.9 1393.7 L391.3 1397.9 L399.8 1401.6 L404.0 1404.5 L408.3 1400.8 L411.1 1393.1 L415.4 1396.5 L419.6 1397.9 L423.9 1395.1 L426.7 1386.6 L429.5 1389.4 L432.4 1371.0 L435.2 1356.8 L436.6 1345.5 L438.6 1337.0" stroke="#2fe02f" stroke-width="2.6" fill="none"/>
<rect x="79.5" y="1414.7" width="5.7" height="57.5" fill="#111"/>
<rect x="89.8" y="1414.7" width="2.8" height="57.5" fill="#111"/>
<rect x="94.6" y="1414.7" width="2.8" height="57.5" fill="#666"/>
<rect x="100.2" y="1414.7" width="2.8" height="57.5" fill="#222"/>
<rect x="105.0" y="1414.7" width="2.8" height="57.5" fill="#333"/>
<rect x="112.5" y="1414.7" width="2.8" height="57.5" fill="#111"/>
<rect x="120.3" y="1414.7" width="0.9" height="57.5" fill="#222"/>
<rect x="125.4" y="1414.7" width="0.9" height="57.5" fill="#222"/>
<rect x="131.6" y="1414.7" width="0.9" height="57.5" fill="#111"/>
<rect x="137.7" y="1414.7" width="3.2" height="57.5" fill="#555"/>
<rect x="143.7" y="1414.7" width="2.3" height="57.5" fill="#111"/>
<rect x="147.5" y="1414.7" width="0.9" height="57.5" fill="#666"/>
<rect x="149.8" y="1414.7" width="0.9" height="57.5" fill="#555"/>
<rect x="152.6" y="1414.7" width="1.5" height="57.5" fill="#444"/>
<rect x="158.5" y="1414.7" width="0.9" height="57.5" fill="#222"/>
<rect x="164.1" y="1414.7" width="0.9" height="57.5" fill="#222"/>
<rect x="167.9" y="1414.7" width="2.3" height="57.5" fill="#666"/>
<rect x="171.7" y="1414.7" width="1.5" height="57.5" fill="#555"/>
<rect x="175.5" y="1414.7" width="1.1" height="57.5" fill="#666"/>
<rect x="177.8" y="1414.7" width="1.1" height="57.5" fill="#555"/>
<rect x="182.5" y="1414.7" width="5.1" height="57.5" fill="#333"/>
<rect x="190.6" y="1414.7" width="0.9" height="57.5" fill="#222"/>
<rect x="195.3" y="1414.7" width="0.9" height="57.5" fill="#222"/>
<rect x="199.7" y="1414.7" width="0.9" height="57.5" fill="#222"/>
<rect x="204.8" y="1414.7" width="3.4" height="57.5" fill="#555"/>
<rect x="211.4" y="1414.7" width="0.9" height="57.5" fill="#555"/>
<rect x="213.7" y="1414.7" width="0.9" height="57.5" fill="#666"/>
<rect x="215.9" y="1414.7" width="0.9" height="57.5" fill="#555"/>
<rect x="218.6" y="1414.7" width="2.6" height="57.5" fill="#666"/>
<rect x="223.5" y="1414.7" width="5.3" height="57.5" fill="#111"/>
<rect x="232.9" y="1414.7" width="1.1" height="57.5" fill="#111"/>
<rect x="248.3" y="1414.7" width="0.9" height="57.5" fill="#555"/>
<rect x="279.5" y="1414.7" width="2.5" height="57.5" fill="#222"/>
<rect x="285.1" y="1414.7" width="2.3" height="57.5" fill="#333"/>
<rect x="289.8" y="1414.7" width="0.9" height="57.5" fill="#555"/>
<rect x="294.6" y="1414.7" width="2.5" height="57.5" fill="#222"/>
<rect x="302.1" y="1414.7" width="5.3" height="57.5" fill="#777"/>
<rect x="311.6" y="1414.7" width="0.9" height="57.5" fill="#333"/>
<rect x="316.3" y="1414.7" width="0.9" height="57.5" fill="#444"/>
<rect x="324.8" y="1414.7" width="0.9" height="57.5" fill="#444"/>
<rect x="331.4" y="1414.7" width="0.9" height="57.5" fill="#222"/>
<rect x="339.9" y="1414.7" width="0.9" height="57.5" fill="#444"/>
<rect x="343.7" y="1414.7" width="4.2" height="57.5" fill="#555"/>
<rect x="349.4" y="1414.7" width="6.0" height="57.5" fill="#444"/>
<rect x="357.0" y="1414.7" width="1.1" height="57.5" fill="#111"/>
<rect x="365.5" y="1414.7" width="3.2" height="57.5" fill="#444"/>
<rect x="372.1" y="1414.7" width="0.9" height="57.5" fill="#555"/>
<rect x="374.9" y="1414.7" width="0.9" height="57.5" fill="#333"/>
<rect x="379.6" y="1414.7" width="2.3" height="57.5" fill="#777"/>
<rect x="386.3" y="1414.7" width="0.9" height="57.5" fill="#444"/>
<rect x="389.1" y="1414.7" width="0.9" height="57.5" fill="#444"/>
<rect x="392.9" y="1414.7" width="0.9" height="57.5" fill="#333"/>
<rect x="397.6" y="1414.7" width="0.9" height="57.5" fill="#333"/>
<rect x="402.3" y="1414.7" width="0.9" height="57.5" fill="#333"/>
<rect x="406.5" y="1414.7" width="5.1" height="57.5" fill="#111"/>
<rect x="418.4" y="1414.7" width="0.9" height="57.5" fill="#333"/>
<rect x="421.2" y="1414.7" width="4.5" height="57.5" fill="#444"/>
<rect x="429.2" y="1414.7" width="8.9" height="57.5" fill="#111"/>
<rect x="79.5" y="1472.6" width="47.6" height="14.7" fill="#e43a3a"/>
<rect x="126.7" y="1472.6" width="34.3" height="14.7" fill="#ea4848"/>
<rect x="160.7" y="1472.6" width="23.0" height="14.7" fill="#ee6262"/>
<rect x="183.4" y="1472.6" width="11.6" height="14.7" fill="#f07878"/>
<rect x="194.8" y="1472.6" width="30.5" height="14.7" fill="#f8b4d8"/>
<rect x="225.0" y="1472.6" width="51.3" height="14.7" fill="#fbb8e0"/>
<rect x="276.0" y="1472.6" width="81.6" height="14.7" fill="#d4d4f8"/>
<rect x="357.3" y="1472.6" width="19.2" height="14.7" fill="#8080f0"/>
<rect x="376.2" y="1472.6" width="47.6" height="14.7" fill="#5a48e0"/>
<rect x="423.5" y="1472.6" width="16.4" height="14.7" fill="#2410b8"/>
<text x="77.5" y="1519.8" font-size="28.8">Infected</text>
<text x="459.5" y="1519.8" font-size="29.2" text-anchor="end">Uninfected</text>
<text x="18.0" y="1355.4" font-size="23.8" text-anchor="middle" transform="rotate(-90 18.0 1355.4)">Normalized enrichment score</text>
<text x="299.0" y="1271.8" font-size="29.1">NES = 1.28</text>
<text x="299.0" y="1305.0" font-size="29.1">FDRq = 0.1</text>
<text x="497.0" y="1162.0" font-size="30" font-weight="bold">h</text>
<line x1="581.1" y1="1249.6" x2="581.1" y2="1455.7" stroke="#000" stroke-width="2"/>
<line x1="574.0" y1="1454.9" x2="1684.0" y2="1454.9" stroke="#000" stroke-width="2"/>
<line x1="574.1" y1="1454.9" x2="581.1" y2="1454.9" stroke="#000" stroke-width="2"/>
<text x="566.0" y="1465.1" font-size="28.6" text-anchor="end">0</text>
<line x1="574.1" y1="1403.6" x2="581.1" y2="1403.6" stroke="#000" stroke-width="2"/>
<text x="566.0" y="1413.8" font-size="28.6" text-anchor="end">10</text>
<line x1="574.1" y1="1352.2" x2="581.1" y2="1352.2" stroke="#000" stroke-width="2"/>
<text x="566.0" y="1362.5" font-size="28.6" text-anchor="end">20</text>
<line x1="574.1" y1="1300.9" x2="581.1" y2="1300.9" stroke="#000" stroke-width="2"/>
<text x="566.0" y="1311.1" font-size="28.6" text-anchor="end">30</text>
<line x1="574.1" y1="1249.6" x2="581.1" y2="1249.6" stroke="#000" stroke-width="2"/>
<text x="566.0" y="1259.8" font-size="28.6" text-anchor="end">40</text>
<text x="522.7" y="1342.6" font-size="28.5" text-anchor="middle" transform="rotate(-90 522.7 1342.6)">FPKM</text>
<line x1="581.0" y1="1453.4" x2="1684.0" y2="1453.4" stroke="#000" stroke-width="2.5" stroke-dasharray="2 4"/>
<line x1="598.4" y1="1454.9" x2="598.4" y2="1461.9" stroke="#000" stroke-width="2"/>
<rect x="586.4" y="1395.9" width="10.0" height="59.0" fill="#1414ee" stroke="#000" stroke-width="1"/>
<rect x="601.9" y="1413.8" width="10.0" height="41.1" fill="#f5841f" stroke="#000" stroke-width="1"/>
<circle cx="591.4" cy="1394.9" r="5.0" fill="#000"/>
<rect x="601.9" y="1407.8" width="10.0" height="10.0" fill="#000"/>
<text x="609.2" y="1482.9" font-size="29.5" text-anchor="end" fill="#000" transform="rotate(-47 609.2 1482.9)">Nlrc3</text>
<line x1="639.5" y1="1454.9" x2="639.5" y2="1461.9" stroke="#000" stroke-width="2"/>
<circle cx="632.5" cy="1451.3" r="5.0" fill="#000"/>
<rect x="643.0" y="1445.8" width="10.0" height="10.0" fill="#000"/>
<text x="650.3" y="1482.9" font-size="29.5" text-anchor="end" fill="#000" transform="rotate(-47 650.3 1482.9)">Nlrc4</text>
<line x1="680.6" y1="1454.9" x2="680.6" y2="1461.9" stroke="#000" stroke-width="2"/>
<rect x="668.6" y="1412.3" width="10.0" height="42.6" fill="#1414ee" stroke="#000" stroke-width="1"/>
<rect x="684.1" y="1344.6" width="10.0" height="110.3" fill="#f5841f" stroke="#000" stroke-width="1"/>
<circle cx="673.6" cy="1411.3" r="5.0" fill="#000"/>
<rect x="684.1" y="1338.6" width="10.0" height="10.0" fill="#000"/>
<text x="691.4" y="1482.9" font-size="29.5" text-anchor="end" font-weight="bold" fill="#e0141e" transform="rotate(-47 691.4 1482.9)">Nlrc5</text>
<line x1="721.7" y1="1454.9" x2="721.7" y2="1461.9" stroke="#000" stroke-width="2"/>
<circle cx="714.7" cy="1453.1" r="5.0" fill="#000"/>
<rect x="725.2" y="1447.6" width="10.0" height="10.0" fill="#000"/>
<text x="732.5" y="1482.9" font-size="29.5" text-anchor="end" fill="#000" transform="rotate(-47 732.5 1482.9)">Nlrp1a</text>
<line x1="762.8" y1="1454.9" x2="762.8" y2="1461.9" stroke="#000" stroke-width="2"/>
<circle cx="755.8" cy="1453.1" r="5.0" fill="#000"/>
<rect x="766.3" y="1447.6" width="10.0" height="10.0" fill="#000"/>
<text x="773.6" y="1482.9" font-size="29.5" text-anchor="end" fill="#000" transform="rotate(-47 773.6 1482.9)">Nlrp1b</text>
<line x1="803.9" y1="1454.9" x2="803.9" y2="1461.9" stroke="#000" stroke-width="2"/>
<circle cx="796.9" cy="1453.1" r="5.0" fill="#000"/>
<rect x="807.4" y="1447.6" width="10.0" height="10.0" fill="#000"/>
<text x="814.7" y="1482.9" font-size="29.5" text-anchor="end" fill="#000" transform="rotate(-47 814.7 1482.9)">Nlrp2</text>
<line x1="845.0" y1="1454.9" x2="845.0" y2="1461.9" stroke="#000" stroke-width="2"/>
<circle cx="838.0" cy="1453.1" r="5.0" fill="#000"/>
<rect x="848.5" y="1447.6" width="10.0" height="10.0" fill="#000"/>
<text x="855.8" y="1482.9" font-size="29.5" text-anchor="end" fill="#000" transform="rotate(-47 855.8 1482.9)">Nlrp3</text>
<line x1="886.1" y1="1454.9" x2="886.1" y2="1461.9" stroke="#000" stroke-width="2"/>
<circle cx="879.1" cy="1453.1" r="5.0" fill="#000"/>
<rect x="889.6" y="1447.6" width="10.0" height="10.0" fill="#000"/>
<text x="896.9" y="1482.9" font-size="29.5" text-anchor="end" fill="#000" transform="rotate(-47 896.9 1482.9)">Nlrp4a</text>
<line x1="927.2" y1="1454.9" x2="927.2" y2="1461.9" stroke="#000" stroke-width="2"/>
<circle cx="920.2" cy="1453.1" r="5.0" fill="#000"/>
<rect x="930.7" y="1447.6" width="10.0" height="10.0" fill="#000"/>
<text x="938.0" y="1482.9" font-size="29.5" text-anchor="end" fill="#000" transform="rotate(-47 938.0 1482.9)">Nlrp1b</text>
<line x1="968.3" y1="1454.9" x2="968.3" y2="1461.9" stroke="#000" stroke-width="2"/>
<circle cx="961.3" cy="1453.1" r="5.0" fill="#000"/>
<rect x="971.8" y="1447.6" width="10.0" height="10.0" fill="#000"/>
<text x="979.1" y="1482.9" font-size="29.5" text-anchor="end" fill="#000" transform="rotate(-47 979.1 1482.9)">Nlrp4c</text>
<line x1="1009.4" y1="1454.9" x2="1009.4" y2="1461.9" stroke="#000" stroke-width="2"/>
<circle cx="1002.4" cy="1453.1" r="5.0" fill="#000"/>
<rect x="1012.9" y="1447.6" width="10.0" height="10.0" fill="#000"/>
<text x="1020.2" y="1482.9" font-size="29.5" text-anchor="end" fill="#000" transform="rotate(-47 1020.2 1482.9)">Nlrp4e</text>
<line x1="1050.5" y1="1454.9" x2="1050.5" y2="1461.9" stroke="#000" stroke-width="2"/>
<circle cx="1043.5" cy="1453.1" r="5.0" fill="#000"/>
<rect x="1054.0" y="1447.6" width="10.0" height="10.0" fill="#000"/>
<text x="1061.3" y="1482.9" font-size="29.5" text-anchor="end" fill="#000" transform="rotate(-47 1061.3 1482.9)">Nlrp4f</text>
<line x1="1091.6" y1="1454.9" x2="1091.6" y2="1461.9" stroke="#000" stroke-width="2"/>
<circle cx="1084.6" cy="1453.1" r="5.0" fill="#000"/>
<rect x="1095.1" y="1447.6" width="10.0" height="10.0" fill="#000"/>
<text x="1102.4" y="1482.9" font-size="29.5" text-anchor="end" fill="#000" transform="rotate(-47 1102.4 1482.9)">Nlrp4g</text>
<line x1="1132.7" y1="1454.9" x2="1132.7" y2="1461.9" stroke="#000" stroke-width="2"/>
<circle cx="1125.7" cy="1453.1" r="5.0" fill="#000"/>
<rect x="1136.2" y="1447.6" width="10.0" height="10.0" fill="#000"/>
<text x="1143.5" y="1482.9" font-size="29.5" text-anchor="end" fill="#000" transform="rotate(-47 1143.5 1482.9)">Nlrp5</text>
<line x1="1173.8" y1="1454.9" x2="1173.8" y2="1461.9" stroke="#000" stroke-width="2"/>
<circle cx="1166.8" cy="1453.1" r="5.0" fill="#000"/>
<rect x="1177.3" y="1447.6" width="10.0" height="10.0" fill="#000"/>
<text x="1184.6" y="1482.9" font-size="29.5" text-anchor="end" fill="#000" transform="rotate(-47 1184.6 1482.9)">Nlrp6</text>
<line x1="1214.9" y1="1454.9" x2="1214.9" y2="1461.9" stroke="#000" stroke-width="2"/>
<circle cx="1207.9" cy="1453.1" r="5.0" fill="#000"/>
<rect x="1218.4" y="1447.6" width="10.0" height="10.0" fill="#000"/>
<text x="1225.7" y="1482.9" font-size="29.5" text-anchor="end" fill="#000" transform="rotate(-47 1225.7 1482.9)">Nlrp9a</text>
<line x1="1256.0" y1="1454.9" x2="1256.0" y2="1461.9" stroke="#000" stroke-width="2"/>
<circle cx="1249.0" cy="1453.1" r="5.0" fill="#000"/>
<rect x="1259.5" y="1447.6" width="10.0" height="10.0" fill="#000"/>
<text x="1266.8" y="1482.9" font-size="29.5" text-anchor="end" fill="#000" transform="rotate(-47 1266.8 1482.9)">Nlrp9b</text>
<line x1="1297.1" y1="1454.9" x2="1297.1" y2="1461.9" stroke="#000" stroke-width="2"/>
<circle cx="1290.1" cy="1453.1" r="5.0" fill="#000"/>
<rect x="1300.6" y="1447.6" width="10.0" height="10.0" fill="#000"/>
<text x="1307.9" y="1482.9" font-size="29.5" text-anchor="end" fill="#000" transform="rotate(-47 1307.9 1482.9)">Nlrp9c</text>
<line x1="1338.2" y1="1454.9" x2="1338.2" y2="1461.9" stroke="#000" stroke-width="2"/>
<circle cx="1331.2" cy="1453.1" r="5.0" fill="#000"/>
<rect x="1341.7" y="1447.6" width="10.0" height="10.0" fill="#000"/>
<text x="1349.0" y="1482.9" font-size="29.5" text-anchor="end" fill="#000" transform="rotate(-47 1349.0 1482.9)">Nlrp10</text>
<line x1="1379.3" y1="1454.9" x2="1379.3" y2="1461.9" stroke="#000" stroke-width="2"/>
<circle cx="1372.3" cy="1453.1" r="5.0" fill="#000"/>
<rect x="1382.8" y="1447.6" width="10.0" height="10.0" fill="#000"/>
<text x="1390.1" y="1482.9" font-size="29.5" text-anchor="end" fill="#000" transform="rotate(-47 1390.1 1482.9)">Nlrp12</text>
<line x1="1420.4" y1="1454.9" x2="1420.4" y2="1461.9" stroke="#000" stroke-width="2"/>
<circle cx="1413.4" cy="1453.1" r="5.0" fill="#000"/>
<rect x="1423.9" y="1447.6" width="10.0" height="10.0" fill="#000"/>
<text x="1431.2" y="1482.9" font-size="29.5" text-anchor="end" fill="#000" transform="rotate(-47 1431.2 1482.9)">Nlrp14</text>
<line x1="1461.5" y1="1454.9" x2="1461.5" y2="1461.9" stroke="#000" stroke-width="2"/>
<circle cx="1454.5" cy="1453.1" r="5.0" fill="#000"/>
<rect x="1465.0" y="1447.6" width="10.0" height="10.0" fill="#000"/>
<text x="1472.3" y="1482.9" font-size="29.5" text-anchor="end" fill="#000" transform="rotate(-47 1472.3 1482.9)">Naip1</text>
<line x1="1502.6" y1="1454.9" x2="1502.6" y2="1461.9" stroke="#000" stroke-width="2"/>
<rect x="1490.6" y="1446.7" width="10.0" height="8.2" fill="#1414ee" stroke="#000" stroke-width="1"/>
<rect x="1506.1" y="1443.6" width="10.0" height="11.3" fill="#f5841f" stroke="#000" stroke-width="1"/>
<circle cx="1495.6" cy="1445.7" r="5.0" fill="#000"/>
<rect x="1506.1" y="1437.6" width="10.0" height="10.0" fill="#000"/>
<text x="1513.4" y="1482.9" font-size="29.5" text-anchor="end" fill="#000" transform="rotate(-47 1513.4 1482.9)">Naip2</text>
<line x1="1543.7" y1="1454.9" x2="1543.7" y2="1461.9" stroke="#000" stroke-width="2"/>
<circle cx="1536.7" cy="1451.3" r="5.0" fill="#000"/>
<rect x="1547.2" y="1447.4" width="10.0" height="10.0" fill="#000"/>
<text x="1554.5" y="1482.9" font-size="29.5" text-anchor="end" fill="#000" transform="rotate(-47 1554.5 1482.9)">Naip5</text>
<line x1="1584.8" y1="1454.9" x2="1584.8" y2="1461.9" stroke="#000" stroke-width="2"/>
<circle cx="1577.8" cy="1453.1" r="5.0" fill="#000"/>
<rect x="1588.3" y="1447.6" width="10.0" height="10.0" fill="#000"/>
<text x="1595.6" y="1482.9" font-size="29.5" text-anchor="end" fill="#000" transform="rotate(-47 1595.6 1482.9)">Naip6</text>
<line x1="1625.9" y1="1454.9" x2="1625.9" y2="1461.9" stroke="#000" stroke-width="2"/>
<rect x="1613.9" y="1300.9" width="10.0" height="154.0" fill="#1414ee" stroke="#000" stroke-width="1"/>
<rect x="1629.4" y="1343.5" width="10.0" height="111.4" fill="#f5841f" stroke="#000" stroke-width="1"/>
<circle cx="1618.9" cy="1299.9" r="5.0" fill="#000"/>
<rect x="1629.4" y="1337.5" width="10.0" height="10.0" fill="#000"/>
<text x="1636.7" y="1482.9" font-size="29.5" text-anchor="end" fill="#000" transform="rotate(-47 1636.7 1482.9)">Aim2</text>
<line x1="1667.0" y1="1454.9" x2="1667.0" y2="1461.9" stroke="#000" stroke-width="2"/>
<circle cx="1660.0" cy="1452.9" r="5.0" fill="#000"/>
<rect x="1670.5" y="1445.8" width="10.0" height="10.0" fill="#000"/>
<text x="1677.8" y="1482.9" font-size="29.5" text-anchor="end" fill="#000" transform="rotate(-47 1677.8 1482.9)">Pyrin</text>
<circle cx="591.0" cy="1390.0" r="5.0" fill="#000"/>
<circle cx="589.0" cy="1397.0" r="5.0" fill="#000"/>
<circle cx="594.0" cy="1406.0" r="5.0" fill="#000"/>
<circle cx="672.0" cy="1406.0" r="5.0" fill="#000"/>
<circle cx="676.0" cy="1412.0" r="5.0" fill="#000"/>
<circle cx="1617.0" cy="1293.0" r="5.0" fill="#000"/>
<circle cx="1620.0" cy="1298.0" r="5.0" fill="#000"/>
<circle cx="1617.0" cy="1318.0" r="5.0" fill="#000"/>
<rect x="600.0" y="1395.0" width="10.0" height="10.0" fill="#000"/>
<rect x="600.0" y="1408.0" width="10.0" height="10.0" fill="#000"/>
<rect x="682.0" y="1332.0" width="10.0" height="10.0" fill="#000"/>
<rect x="683.0" y="1340.0" width="10.0" height="10.0" fill="#000"/>
<rect x="1628.0" y="1315.0" width="10.0" height="10.0" fill="#000"/>
<rect x="1628.0" y="1337.0" width="10.0" height="10.0" fill="#000"/>
<rect x="1628.0" y="1352.0" width="10.0" height="10.0" fill="#000"/>
<line x1="587.4" y1="1279.2" x2="614.5" y2="1279.2" stroke="#000" stroke-width="2.5"/>
<line x1="622.6" y1="1279.2" x2="650.0" y2="1279.2" stroke="#000" stroke-width="2.5"/>
<line x1="666.4" y1="1279.2" x2="693.2" y2="1279.2" stroke="#000" stroke-width="2.5"/>
<line x1="712.0" y1="1279.2" x2="1467.2" y2="1279.2" stroke="#000" stroke-width="2.5"/>
<line x1="1483.8" y1="1279.2" x2="1510.8" y2="1279.2" stroke="#000" stroke-width="2.5"/>
<line x1="1529.9" y1="1279.2" x2="1556.9" y2="1279.2" stroke="#000" stroke-width="2.5"/>
<line x1="1573.2" y1="1279.2" x2="1600.0" y2="1279.2" stroke="#000" stroke-width="2.5"/>
<line x1="1611.6" y1="1279.2" x2="1638.3" y2="1279.2" stroke="#000" stroke-width="2.5"/>
<line x1="1649.0" y1="1279.2" x2="1676.1" y2="1279.2" stroke="#000" stroke-width="2.5"/>
<text x="599.0" y="1277.0" font-size="23" transform="rotate(-45 599.0 1277.0)"><tspan font-style="italic">P</tspan> = 0.2146</text>
<text x="634.0" y="1277.0" font-size="23" transform="rotate(-45 634.0 1277.0)"><tspan font-style="italic">P</tspan> = 0.9399</text>
<text x="678.0" y="1277.0" font-size="23" transform="rotate(-45 678.0 1277.0)"><tspan font-style="italic">P</tspan> &lt; 0.0001</text>
<text x="1495.0" y="1277.0" font-size="23" transform="rotate(-45 1495.0 1277.0)"><tspan font-style="italic">P</tspan> = 0.1315</text>
<text x="1541.0" y="1277.0" font-size="23" transform="rotate(-45 1541.0 1277.0)"><tspan font-style="italic">P</tspan> = 0.5025</text>
<text x="1623.0" y="1277.0" font-size="23" transform="rotate(-45 1623.0 1277.0)"><tspan font-style="italic">P</tspan> = 0.0268</text>
<text x="1083.0" y="1276.0" font-size="23" transform="rotate(-45 1083.0 1276.0)">ND</text>
<text x="1585.0" y="1276.0" font-size="23" transform="rotate(-45 1585.0 1276.0)">ND</text>
<text x="1662.0" y="1276.0" font-size="23" transform="rotate(-45 1662.0 1276.0)">ND</text>
<rect x="1032.0" y="1300.7" width="189.4" height="80.7" fill="#fff" stroke="#000" stroke-width="2"/>
<rect x="1041.2" y="1318.8" width="21.0" height="12.2" fill="#1414ee"/>
<rect x="1041.2" y="1355.2" width="21.0" height="11.4" fill="#f07a1e"/>
<text x="1074.5" y="1337.4" font-size="29.8">Uninfected</text>
<text x="1074.5" y="1371.2" font-size="29.8">Infected</text>
<text x="1703.0" y="1161.0" font-size="30" font-weight="bold">i</text>
<line x1="1865.3" y1="1141.7" x2="1865.3" y2="1390.8" stroke="#000" stroke-width="2"/>
<line x1="1861.0" y1="1390.0" x2="2072.0" y2="1390.0" stroke="#000" stroke-width="2"/>
<line x1="1858.3" y1="1390.0" x2="1865.3" y2="1390.0" stroke="#000" stroke-width="2"/>
<text x="1855.0" y="1403.5" font-size="28.5" text-anchor="end">0</text>
<line x1="1858.3" y1="1327.9" x2="1865.3" y2="1327.9" stroke="#000" stroke-width="2"/>
<text x="1855.0" y="1341.4" font-size="28.5" text-anchor="end">250</text>
<line x1="1858.3" y1="1265.8" x2="1865.3" y2="1265.8" stroke="#000" stroke-width="2"/>
<text x="1855.0" y="1279.3" font-size="28.5" text-anchor="end">500</text>
<line x1="1858.3" y1="1203.8" x2="1865.3" y2="1203.8" stroke="#000" stroke-width="2"/>
<text x="1855.0" y="1217.3" font-size="28.5" text-anchor="end">750</text>
<line x1="1858.3" y1="1141.7" x2="1865.3" y2="1141.7" stroke="#000" stroke-width="2"/>
<text x="1855.0" y="1161.5" font-size="28.5" text-anchor="end">1000</text>
<line x1="1914.0" y1="1390.0" x2="1914.0" y2="1397.0" stroke="#000" stroke-width="2"/>
<line x1="2022.0" y1="1390.0" x2="2022.0" y2="1397.0" stroke="#000" stroke-width="2"/>
<rect x="1875.5" y="1202.3" width="19.7" height="187.7" fill="#fff" stroke="#000" stroke-width="1.5"/>
<rect x="1905.0" y="1207.0" width="19.1" height="183.0" fill="#cfcfcf" stroke="#000" stroke-width="1.5"/>
<rect x="1934.9" y="1231.6" width="18.8" height="158.4" fill="#000" stroke="#000" stroke-width="1.5"/>
<rect x="1983.5" y="1317.0" width="18.9" height="73.0" fill="#fff" stroke="#000" stroke-width="1.5"/>
<rect x="2013.0" y="1299.7" width="19.0" height="90.3" fill="#cfcfcf" stroke="#000" stroke-width="1.5"/>
<rect x="2042.0" y="1309.0" width="19.5" height="81.0" fill="#000" stroke="#000" stroke-width="1.5"/>
<circle cx="1885.3" cy="1201.5" r="4.2" fill="#000"/>
<rect x="1910.0" y="1202.0" width="9.0" height="9.0" fill="#000"/>
<circle cx="1944.3" cy="1230.0" r="4.2" fill="#fff" stroke="#000" stroke-width="2.5"/>
<circle cx="1993.0" cy="1316.0" r="4.2" fill="#000"/>
<rect x="2018.0" y="1295.0" width="9.0" height="9.0" fill="#000"/>
<circle cx="2051.8" cy="1308.0" r="4.2" fill="#fff" stroke="#000" stroke-width="2.5"/>
<line x1="1876.0" y1="1411.8" x2="1957.0" y2="1411.8" stroke="#000" stroke-width="2.5"/>
<line x1="1985.6" y1="1411.8" x2="2066.7" y2="1411.8" stroke="#000" stroke-width="2.5"/>
<text x="1917.0" y="1446.6" font-size="28" text-anchor="middle" font-style="italic">Gsdmd</text>
<text x="2026.0" y="1446.6" font-size="28" text-anchor="middle" font-style="italic">Casp1</text>
<text x="1751.0" y="1270.0" font-size="29.4" text-anchor="middle" transform="rotate(-90 1751.0 1270.0)">DESeq2</text>
<text x="1785.6" y="1270.6" font-size="29.4" text-anchor="middle" transform="rotate(-90 1785.6 1270.6)">normalized value</text>
<rect x="1758.7" y="1454.7" width="313.8" height="120.0" fill="#fff" stroke="#000" stroke-width="2"/>
<rect x="1770.6" y="1472.0" width="21.4" height="11.7" fill="#fff" stroke="#000" stroke-width="1.5"/>
<rect x="1770.6" y="1511.0" width="21.4" height="11.2" fill="#cfcfcf"/>
<rect x="1770.6" y="1548.3" width="21.4" height="10.7" fill="#000"/>
<text x="1804.5" y="1491.0" font-size="29.5">NKp46<tspan font-size="19" dy="-11">–</tspan><tspan dy="11">CCR6</tspan><tspan font-size="19" dy="-11">–</tspan><tspan dy="11"> ILC3</tspan></text>
<text x="1804.5" y="1527.1" font-size="29.5">CCR6<tspan font-size="19" dy="-11">+</tspan><tspan dy="11"> ILC3</tspan></text>
<text x="1804.5" y="1564.2" font-size="29.5">NKp46<tspan font-size="19" dy="-11">+</tspan><tspan dy="11"> ILC3</tspan></text>
</svg></body></html>
